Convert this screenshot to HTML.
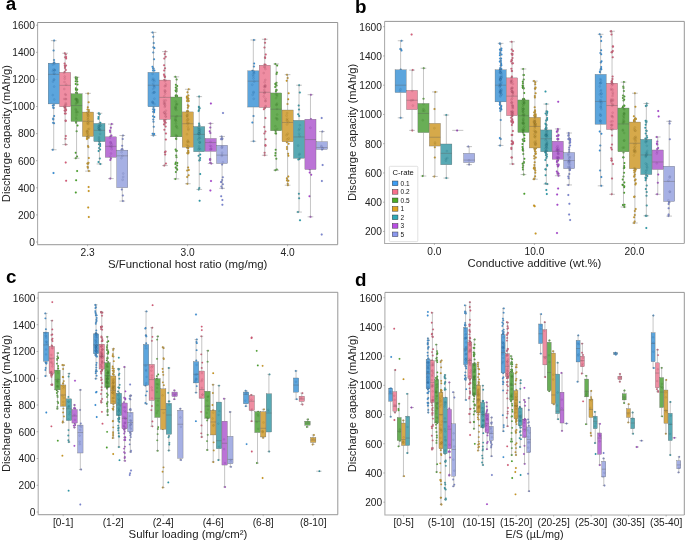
<!DOCTYPE html>
<html><head><meta charset="utf-8"><title>Figure</title>
<style>
html,body{margin:0;padding:0;background:#fff;}
svg{display:block;}
text{font-family:"Liberation Sans", sans-serif;fill:#222;}
.tk{font-size:10.2px;}
.ax{font-size:11.3px;}
.lt{font-size:18.8px;font-weight:bold;fill:#000;}
.lg{font-size:6.5px;fill:#111;}
.w{fill:none;stroke:#8a8a8a;stroke-width:0.5;}
.b{stroke:#5a5a5a;stroke-width:0.3;}
.po{stroke:#333;stroke-opacity:0.35;stroke-width:0.2;}
.pi{stroke:#223;stroke-opacity:0.3;stroke-width:0.25;fill-opacity:0.25;}
.m{fill:none;stroke:#5a5a5a;stroke-width:0.35;}
</style></head><body>
<svg width="685" height="540" viewBox="0 0 685 540">
<rect width="685" height="540" fill="#fff"/>
<path d="M37.60 22.50V244.60H337.70" fill="none" stroke="#ababab" stroke-width="1.05"/>
<path d="M37.60 22.50H337.70V244.60" fill="none" stroke="#8a8a8a" stroke-width="0.9"/>
<line x1="36.00" x2="37.60" y1="242.00" y2="242.00" stroke="#888" stroke-width="0.6"/>
<text x="34.90" y="245.85" text-anchor="end" class="tk">0</text>
<line x1="36.00" x2="37.60" y1="214.90" y2="214.90" stroke="#888" stroke-width="0.6"/>
<text x="34.90" y="218.75" text-anchor="end" class="tk">200</text>
<line x1="36.00" x2="37.60" y1="187.80" y2="187.80" stroke="#888" stroke-width="0.6"/>
<text x="34.90" y="191.65" text-anchor="end" class="tk">400</text>
<line x1="36.00" x2="37.60" y1="160.70" y2="160.70" stroke="#888" stroke-width="0.6"/>
<text x="34.90" y="164.55" text-anchor="end" class="tk">600</text>
<line x1="36.00" x2="37.60" y1="133.60" y2="133.60" stroke="#888" stroke-width="0.6"/>
<text x="34.90" y="137.45" text-anchor="end" class="tk">800</text>
<line x1="36.00" x2="37.60" y1="106.50" y2="106.50" stroke="#888" stroke-width="0.6"/>
<text x="34.90" y="110.35" text-anchor="end" class="tk">1000</text>
<line x1="36.00" x2="37.60" y1="79.40" y2="79.40" stroke="#888" stroke-width="0.6"/>
<text x="34.90" y="83.25" text-anchor="end" class="tk">1200</text>
<line x1="36.00" x2="37.60" y1="52.30" y2="52.30" stroke="#888" stroke-width="0.6"/>
<text x="34.90" y="56.15" text-anchor="end" class="tk">1400</text>
<line x1="36.00" x2="37.60" y1="25.20" y2="25.20" stroke="#888" stroke-width="0.6"/>
<text x="34.90" y="29.05" text-anchor="end" class="tk">1600</text>
<line x1="87.60" x2="87.60" y1="244.60" y2="246.20" stroke="#888" stroke-width="0.6"/>
<text x="87.60" y="255.60" text-anchor="middle" class="tk">2.3</text>
<line x1="187.60" x2="187.60" y1="244.60" y2="246.20" stroke="#888" stroke-width="0.6"/>
<text x="187.60" y="255.60" text-anchor="middle" class="tk">3.0</text>
<line x1="287.60" x2="287.60" y1="244.60" y2="246.20" stroke="#888" stroke-width="0.6"/>
<text x="287.60" y="255.60" text-anchor="middle" class="tk">4.0</text>
<text x="107.95" y="267.70" textLength="159.4" lengthAdjust="spacingAndGlyphs" class="ax">S/Functional host ratio (mg/mg)</text>
<text transform="translate(9.60,133.55) rotate(-90)" x="-68.6" textLength="137.2" lengthAdjust="spacingAndGlyphs" class="ax">Discharge capacity (mAh/g)</text>
<text x="5.7" y="9.9" class="lt">a</text>
<g class="po"><g fill="#3490dc"><circle cx="52.8" cy="149.7" r="1.0"/><circle cx="54.1" cy="40.6" r="1.0"/><circle cx="53.3" cy="119.4" r="1.0"/><circle cx="54.1" cy="116.0" r="1.0"/><circle cx="53.9" cy="104.9" r="1.0"/><circle cx="53.6" cy="108.1" r="1.0"/><circle cx="53.7" cy="63.0" r="1.0"/><circle cx="54.0" cy="60.0" r="1.0"/><circle cx="52.8" cy="105.4" r="1.0"/><circle cx="54.0" cy="123.2" r="1.0"/><circle cx="53.3" cy="107.6" r="1.0"/><circle cx="53.6" cy="50.5" r="1.0"/><circle cx="53.1" cy="122.8" r="1.0"/><circle cx="54.3" cy="62.4" r="1.0"/><circle cx="53.2" cy="118.5" r="1.0"/><circle cx="53.5" cy="172.9" r="1.0"/><circle cx="153.4" cy="135.5" r="1.0"/><circle cx="152.6" cy="32.4" r="1.0"/><circle cx="153.5" cy="68.5" r="1.0"/><circle cx="153.3" cy="52.5" r="1.0"/><circle cx="154.3" cy="117.0" r="1.0"/><circle cx="153.3" cy="119.5" r="1.0"/><circle cx="154.1" cy="111.0" r="1.0"/><circle cx="152.6" cy="133.7" r="1.0"/><circle cx="153.0" cy="116.2" r="1.0"/><circle cx="153.2" cy="68.6" r="1.0"/><circle cx="153.1" cy="111.8" r="1.0"/><circle cx="153.7" cy="126.8" r="1.0"/><circle cx="153.9" cy="134.1" r="1.0"/><circle cx="153.1" cy="109.3" r="1.0"/><circle cx="152.5" cy="66.7" r="1.0"/><circle cx="154.0" cy="59.3" r="1.0"/><circle cx="154.3" cy="109.4" r="1.0"/><circle cx="154.4" cy="70.5" r="1.0"/><circle cx="153.0" cy="70.6" r="1.0"/><circle cx="153.5" cy="107.1" r="1.0"/><circle cx="154.4" cy="48.1" r="1.0"/><circle cx="153.3" cy="36.7" r="1.0"/><circle cx="153.4" cy="47.3" r="1.0"/><circle cx="153.5" cy="121.7" r="1.0"/><circle cx="154.1" cy="110.5" r="1.0"/><circle cx="154.2" cy="133.9" r="1.0"/><circle cx="154.1" cy="112.3" r="1.0"/><circle cx="153.7" cy="43.1" r="1.0"/><circle cx="253.6" cy="141.3" r="1.0"/><circle cx="253.9" cy="40.0" r="1.0"/><circle cx="252.4" cy="122.6" r="1.0"/><circle cx="252.4" cy="70.7" r="1.0"/><circle cx="253.5" cy="116.1" r="1.0"/><circle cx="253.9" cy="66.5" r="1.0"/><circle cx="254.1" cy="63.6" r="1.0"/></g><g fill="#dc5a78"><circle cx="65.7" cy="144.6" r="1.0"/><circle cx="64.8" cy="53.2" r="1.0"/><circle cx="64.6" cy="72.0" r="1.0"/><circle cx="66.1" cy="58.5" r="1.0"/><circle cx="65.8" cy="69.9" r="1.0"/><circle cx="65.8" cy="54.5" r="1.0"/><circle cx="65.6" cy="109.1" r="1.0"/><circle cx="64.6" cy="110.5" r="1.0"/><circle cx="65.5" cy="138.7" r="1.0"/><circle cx="66.1" cy="56.9" r="1.0"/><circle cx="65.0" cy="68.1" r="1.0"/><circle cx="66.1" cy="109.9" r="1.0"/><circle cx="64.9" cy="113.5" r="1.0"/><circle cx="64.6" cy="106.8" r="1.0"/><circle cx="64.6" cy="107.7" r="1.0"/><circle cx="64.6" cy="63.6" r="1.0"/><circle cx="65.4" cy="110.9" r="1.0"/><circle cx="65.8" cy="135.9" r="1.0"/><circle cx="65.1" cy="66.7" r="1.0"/><circle cx="65.7" cy="113.6" r="1.0"/><circle cx="65.5" cy="106.9" r="1.0"/><circle cx="66.0" cy="65.5" r="1.0"/><circle cx="65.7" cy="121.0" r="1.0"/><circle cx="65.6" cy="120.4" r="1.0"/><circle cx="65.1" cy="57.3" r="1.0"/><circle cx="64.8" cy="65.4" r="1.0"/><circle cx="65.7" cy="162.5" r="1.0"/><circle cx="66.1" cy="180.8" r="1.0"/><circle cx="164.3" cy="165.6" r="1.0"/><circle cx="165.4" cy="51.6" r="1.0"/><circle cx="165.7" cy="122.8" r="1.0"/><circle cx="164.8" cy="77.0" r="1.0"/><circle cx="165.6" cy="119.6" r="1.0"/><circle cx="165.7" cy="56.7" r="1.0"/><circle cx="164.9" cy="76.7" r="1.0"/><circle cx="164.3" cy="120.5" r="1.0"/><circle cx="164.1" cy="65.3" r="1.0"/><circle cx="165.2" cy="154.4" r="1.0"/><circle cx="164.2" cy="124.3" r="1.0"/><circle cx="164.5" cy="121.7" r="1.0"/><circle cx="165.0" cy="68.2" r="1.0"/><circle cx="164.2" cy="70.5" r="1.0"/><circle cx="164.9" cy="152.3" r="1.0"/><circle cx="165.9" cy="133.4" r="1.0"/><circle cx="164.3" cy="58.5" r="1.0"/><circle cx="164.2" cy="79.9" r="1.0"/><circle cx="165.9" cy="163.6" r="1.0"/><circle cx="164.7" cy="54.1" r="1.0"/><circle cx="165.8" cy="139.6" r="1.0"/><circle cx="164.3" cy="124.6" r="1.0"/><circle cx="164.4" cy="119.4" r="1.0"/><circle cx="165.6" cy="126.5" r="1.0"/><circle cx="165.6" cy="151.4" r="1.0"/><circle cx="164.4" cy="129.8" r="1.0"/><circle cx="165.0" cy="121.9" r="1.0"/><circle cx="164.4" cy="75.7" r="1.0"/><circle cx="164.0" cy="74.4" r="1.0"/><circle cx="264.6" cy="155.3" r="1.0"/><circle cx="265.1" cy="39.3" r="1.0"/><circle cx="264.5" cy="64.5" r="1.0"/><circle cx="265.0" cy="107.8" r="1.0"/><circle cx="265.0" cy="42.8" r="1.0"/><circle cx="264.5" cy="47.5" r="1.0"/><circle cx="264.3" cy="126.9" r="1.0"/><circle cx="263.9" cy="109.2" r="1.0"/><circle cx="265.7" cy="54.5" r="1.0"/><circle cx="265.1" cy="58.0" r="1.0"/><circle cx="265.4" cy="118.0" r="1.0"/><circle cx="265.0" cy="57.3" r="1.0"/><circle cx="264.9" cy="107.6" r="1.0"/><circle cx="264.4" cy="133.5" r="1.0"/><circle cx="264.6" cy="152.7" r="1.0"/><circle cx="265.5" cy="145.7" r="1.0"/><circle cx="264.5" cy="107.7" r="1.0"/><circle cx="265.5" cy="139.2" r="1.0"/><circle cx="265.4" cy="131.6" r="1.0"/><circle cx="265.5" cy="64.7" r="1.0"/><circle cx="265.4" cy="145.1" r="1.0"/></g><g fill="#4aa52a"><circle cx="75.8" cy="158.3" r="1.0"/><circle cx="75.8" cy="77.2" r="1.0"/><circle cx="75.7" cy="83.9" r="1.0"/><circle cx="76.1" cy="122.8" r="1.0"/><circle cx="75.7" cy="152.8" r="1.0"/><circle cx="76.9" cy="93.0" r="1.0"/><circle cx="77.1" cy="77.7" r="1.0"/><circle cx="77.0" cy="156.6" r="1.0"/><circle cx="75.9" cy="89.4" r="1.0"/><circle cx="77.3" cy="81.6" r="1.0"/><circle cx="77.5" cy="125.5" r="1.0"/><circle cx="76.5" cy="90.6" r="1.0"/><circle cx="77.2" cy="89.6" r="1.0"/><circle cx="75.9" cy="88.3" r="1.0"/><circle cx="76.6" cy="131.3" r="1.0"/><circle cx="76.2" cy="121.4" r="1.0"/><circle cx="76.0" cy="92.8" r="1.0"/><circle cx="76.7" cy="93.3" r="1.0"/><circle cx="76.8" cy="79.5" r="1.0"/><circle cx="77.5" cy="84.4" r="1.0"/><circle cx="75.8" cy="78.7" r="1.0"/><circle cx="75.7" cy="81.3" r="1.0"/><circle cx="77.1" cy="171.1" r="1.0"/><circle cx="76.1" cy="180.3" r="1.0"/><circle cx="75.8" cy="192.5" r="1.0"/><circle cx="175.4" cy="178.9" r="1.0"/><circle cx="175.4" cy="76.8" r="1.0"/><circle cx="176.6" cy="168.5" r="1.0"/><circle cx="176.2" cy="155.4" r="1.0"/><circle cx="175.4" cy="164.1" r="1.0"/><circle cx="176.1" cy="91.2" r="1.0"/><circle cx="175.6" cy="149.5" r="1.0"/><circle cx="176.1" cy="138.4" r="1.0"/><circle cx="176.5" cy="157.2" r="1.0"/><circle cx="175.8" cy="162.4" r="1.0"/><circle cx="176.6" cy="90.1" r="1.0"/><circle cx="176.3" cy="150.9" r="1.0"/><circle cx="177.2" cy="169.7" r="1.0"/><circle cx="175.9" cy="84.8" r="1.0"/><circle cx="175.7" cy="95.6" r="1.0"/><circle cx="175.6" cy="90.5" r="1.0"/><circle cx="176.6" cy="79.5" r="1.0"/><circle cx="177.1" cy="165.6" r="1.0"/><circle cx="176.9" cy="96.8" r="1.0"/><circle cx="175.9" cy="172.1" r="1.0"/><circle cx="176.7" cy="150.8" r="1.0"/><circle cx="176.5" cy="95.4" r="1.0"/><circle cx="176.3" cy="139.1" r="1.0"/><circle cx="177.2" cy="86.1" r="1.0"/><circle cx="176.8" cy="95.8" r="1.0"/><circle cx="175.9" cy="96.4" r="1.0"/><circle cx="176.2" cy="96.5" r="1.0"/><circle cx="175.8" cy="87.4" r="1.0"/><circle cx="176.5" cy="91.5" r="1.0"/><circle cx="177.3" cy="163.0" r="1.0"/><circle cx="175.7" cy="167.4" r="1.0"/><circle cx="176.6" cy="88.4" r="1.0"/><circle cx="275.3" cy="170.2" r="1.0"/><circle cx="275.3" cy="64.0" r="1.0"/><circle cx="276.9" cy="72.4" r="1.0"/><circle cx="275.3" cy="155.6" r="1.0"/><circle cx="276.4" cy="90.1" r="1.0"/><circle cx="275.7" cy="84.6" r="1.0"/><circle cx="276.3" cy="158.7" r="1.0"/><circle cx="276.5" cy="90.1" r="1.0"/><circle cx="276.5" cy="82.7" r="1.0"/><circle cx="276.1" cy="133.6" r="1.0"/><circle cx="275.5" cy="153.1" r="1.0"/><circle cx="275.6" cy="131.0" r="1.0"/><circle cx="275.2" cy="86.9" r="1.0"/><circle cx="275.7" cy="149.7" r="1.0"/><circle cx="275.9" cy="91.5" r="1.0"/><circle cx="276.8" cy="169.6" r="1.0"/><circle cx="275.3" cy="83.8" r="1.0"/><circle cx="276.6" cy="85.5" r="1.0"/><circle cx="276.5" cy="74.0" r="1.0"/><circle cx="277.1" cy="65.6" r="1.0"/><circle cx="275.5" cy="133.3" r="1.0"/></g><g fill="#d09a1c"><circle cx="88.9" cy="171.1" r="1.0"/><circle cx="88.1" cy="93.4" r="1.0"/><circle cx="88.9" cy="109.9" r="1.0"/><circle cx="87.6" cy="166.8" r="1.0"/><circle cx="87.0" cy="136.8" r="1.0"/><circle cx="87.9" cy="167.8" r="1.0"/><circle cx="87.4" cy="163.5" r="1.0"/><circle cx="88.0" cy="163.8" r="1.0"/><circle cx="87.1" cy="138.3" r="1.0"/><circle cx="87.0" cy="139.1" r="1.0"/><circle cx="87.5" cy="109.5" r="1.0"/><circle cx="88.4" cy="147.0" r="1.0"/><circle cx="88.8" cy="111.5" r="1.0"/><circle cx="87.8" cy="107.2" r="1.0"/><circle cx="88.7" cy="137.8" r="1.0"/><circle cx="88.8" cy="157.9" r="1.0"/><circle cx="88.5" cy="162.8" r="1.0"/><circle cx="88.6" cy="102.2" r="1.0"/><circle cx="88.0" cy="146.0" r="1.0"/><circle cx="88.6" cy="187.0" r="1.0"/><circle cx="88.7" cy="191.1" r="1.0"/><circle cx="88.2" cy="207.4" r="1.0"/><circle cx="88.8" cy="216.9" r="1.0"/><circle cx="187.4" cy="183.7" r="1.0"/><circle cx="188.7" cy="89.3" r="1.0"/><circle cx="188.5" cy="152.7" r="1.0"/><circle cx="186.9" cy="96.6" r="1.0"/><circle cx="187.7" cy="97.8" r="1.0"/><circle cx="188.2" cy="150.7" r="1.0"/><circle cx="187.9" cy="153.5" r="1.0"/><circle cx="188.5" cy="98.8" r="1.0"/><circle cx="187.2" cy="177.0" r="1.0"/><circle cx="188.3" cy="151.4" r="1.0"/><circle cx="188.8" cy="169.9" r="1.0"/><circle cx="186.8" cy="97.8" r="1.0"/><circle cx="188.4" cy="101.1" r="1.0"/><circle cx="187.8" cy="105.2" r="1.0"/><circle cx="187.5" cy="99.2" r="1.0"/><circle cx="188.5" cy="105.9" r="1.0"/><circle cx="187.2" cy="110.9" r="1.0"/><circle cx="188.2" cy="148.2" r="1.0"/><circle cx="187.8" cy="107.8" r="1.0"/><circle cx="187.0" cy="147.3" r="1.0"/><circle cx="188.1" cy="167.5" r="1.0"/><circle cx="188.4" cy="95.5" r="1.0"/><circle cx="188.1" cy="111.6" r="1.0"/><circle cx="187.5" cy="92.3" r="1.0"/><circle cx="187.6" cy="111.3" r="1.0"/><circle cx="187.6" cy="148.3" r="1.0"/><circle cx="188.6" cy="175.2" r="1.0"/><circle cx="187.0" cy="101.0" r="1.0"/><circle cx="188.6" cy="101.1" r="1.0"/><circle cx="187.2" cy="170.6" r="1.0"/><circle cx="187.3" cy="153.0" r="1.0"/><circle cx="287.9" cy="185.2" r="1.0"/><circle cx="287.0" cy="74.7" r="1.0"/><circle cx="287.6" cy="78.0" r="1.0"/><circle cx="287.0" cy="148.9" r="1.0"/><circle cx="288.6" cy="143.7" r="1.0"/><circle cx="287.2" cy="180.3" r="1.0"/><circle cx="288.4" cy="180.7" r="1.0"/><circle cx="286.7" cy="80.7" r="1.0"/><circle cx="288.1" cy="153.7" r="1.0"/><circle cx="287.2" cy="180.4" r="1.0"/><circle cx="288.6" cy="93.2" r="1.0"/><circle cx="288.2" cy="99.2" r="1.0"/><circle cx="286.9" cy="142.2" r="1.0"/><circle cx="288.3" cy="176.6" r="1.0"/><circle cx="287.0" cy="147.1" r="1.0"/><circle cx="287.5" cy="103.9" r="1.0"/><circle cx="288.4" cy="155.7" r="1.0"/><circle cx="287.7" cy="183.7" r="1.0"/><circle cx="286.9" cy="178.2" r="1.0"/></g><g fill="#2a9cab"><circle cx="100.3" cy="164.0" r="1.0"/><circle cx="98.7" cy="113.3" r="1.0"/><circle cx="99.4" cy="141.7" r="1.0"/><circle cx="100.2" cy="146.0" r="1.0"/><circle cx="99.8" cy="158.4" r="1.0"/><circle cx="98.5" cy="117.0" r="1.0"/><circle cx="99.0" cy="144.3" r="1.0"/><circle cx="98.4" cy="118.7" r="1.0"/><circle cx="100.1" cy="144.1" r="1.0"/><circle cx="99.9" cy="144.3" r="1.0"/><circle cx="100.4" cy="122.7" r="1.0"/><circle cx="99.6" cy="114.3" r="1.0"/><circle cx="99.1" cy="148.0" r="1.0"/><circle cx="99.3" cy="113.8" r="1.0"/><circle cx="98.5" cy="162.0" r="1.0"/><circle cx="98.6" cy="151.0" r="1.0"/><circle cx="100.1" cy="149.5" r="1.0"/><circle cx="198.7" cy="189.4" r="1.0"/><circle cx="199.1" cy="96.6" r="1.0"/><circle cx="199.1" cy="123.6" r="1.0"/><circle cx="199.0" cy="107.5" r="1.0"/><circle cx="198.6" cy="111.1" r="1.0"/><circle cx="200.2" cy="154.4" r="1.0"/><circle cx="199.3" cy="125.0" r="1.0"/><circle cx="198.6" cy="155.8" r="1.0"/><circle cx="200.1" cy="158.1" r="1.0"/><circle cx="199.3" cy="187.9" r="1.0"/><circle cx="199.4" cy="125.8" r="1.0"/><circle cx="199.7" cy="108.3" r="1.0"/><circle cx="199.9" cy="160.1" r="1.0"/><circle cx="199.3" cy="160.4" r="1.0"/><circle cx="199.0" cy="109.9" r="1.0"/><circle cx="200.2" cy="174.1" r="1.0"/><circle cx="198.9" cy="106.7" r="1.0"/><circle cx="199.6" cy="200.7" r="1.0"/><circle cx="298.0" cy="212.1" r="1.0"/><circle cx="299.1" cy="85.2" r="1.0"/><circle cx="298.9" cy="193.7" r="1.0"/><circle cx="298.3" cy="159.4" r="1.0"/><circle cx="298.7" cy="105.5" r="1.0"/><circle cx="299.5" cy="159.0" r="1.0"/><circle cx="298.2" cy="114.2" r="1.0"/><circle cx="299.8" cy="92.5" r="1.0"/><circle cx="299.0" cy="109.6" r="1.0"/><circle cx="299.1" cy="116.1" r="1.0"/><circle cx="299.1" cy="198.3" r="1.0"/><circle cx="300.0" cy="220.3" r="1.0"/></g><g fill="#ab45d4"><circle cx="110.3" cy="178.6" r="1.0"/><circle cx="111.7" cy="124.1" r="1.0"/><circle cx="110.3" cy="159.9" r="1.0"/><circle cx="110.8" cy="127.7" r="1.0"/><circle cx="110.2" cy="132.0" r="1.0"/><circle cx="110.0" cy="130.5" r="1.0"/><circle cx="110.4" cy="136.4" r="1.0"/><circle cx="111.4" cy="135.4" r="1.0"/><circle cx="110.9" cy="158.5" r="1.0"/><circle cx="211.3" cy="163.5" r="1.0"/><circle cx="210.4" cy="123.4" r="1.0"/><circle cx="210.2" cy="158.9" r="1.0"/><circle cx="210.4" cy="133.1" r="1.0"/><circle cx="210.2" cy="159.9" r="1.0"/><circle cx="210.0" cy="159.5" r="1.0"/><circle cx="209.7" cy="131.2" r="1.0"/><circle cx="210.2" cy="162.8" r="1.0"/><circle cx="210.3" cy="127.6" r="1.0"/><circle cx="210.9" cy="103.5" r="1.0"/><circle cx="211.0" cy="180.9" r="1.0"/><circle cx="210.4" cy="190.4" r="1.0"/><circle cx="310.5" cy="216.8" r="1.0"/><circle cx="310.9" cy="94.7" r="1.0"/><circle cx="309.7" cy="172.6" r="1.0"/><circle cx="311.2" cy="174.7" r="1.0"/><circle cx="310.9" cy="119.1" r="1.0"/><circle cx="309.5" cy="196.2" r="1.0"/><circle cx="309.7" cy="169.6" r="1.0"/></g><g fill="#7a86d6"><circle cx="122.9" cy="201.1" r="1.0"/><circle cx="123.0" cy="135.5" r="1.0"/><circle cx="121.8" cy="189.4" r="1.0"/><circle cx="121.5" cy="149.6" r="1.0"/><circle cx="122.3" cy="148.9" r="1.0"/><circle cx="122.7" cy="138.9" r="1.0"/><circle cx="122.6" cy="150.1" r="1.0"/><circle cx="122.8" cy="195.4" r="1.0"/><circle cx="122.2" cy="145.7" r="1.0"/><circle cx="222.2" cy="188.3" r="1.0"/><circle cx="221.6" cy="136.4" r="1.0"/><circle cx="221.6" cy="138.4" r="1.0"/><circle cx="221.4" cy="181.9" r="1.0"/><circle cx="222.1" cy="139.3" r="1.0"/><circle cx="221.2" cy="182.0" r="1.0"/><circle cx="221.4" cy="186.5" r="1.0"/><circle cx="222.1" cy="164.6" r="1.0"/><circle cx="222.2" cy="180.1" r="1.0"/><circle cx="221.1" cy="139.2" r="1.0"/><circle cx="222.8" cy="184.2" r="1.0"/><circle cx="222.4" cy="138.6" r="1.0"/><circle cx="222.8" cy="177.3" r="1.0"/><circle cx="223.0" cy="112.9" r="1.0"/><circle cx="221.2" cy="196.2" r="1.0"/><circle cx="222.4" cy="199.9" r="1.0"/><circle cx="222.4" cy="204.7" r="1.0"/><circle cx="322.0" cy="149.5" r="1.0"/><circle cx="322.4" cy="131.6" r="1.0"/><circle cx="321.7" cy="118.0" r="1.0"/><circle cx="322.6" cy="165.0" r="1.0"/><circle cx="321.9" cy="181.0" r="1.0"/><circle cx="321.7" cy="234.5" r="1.0"/></g></g>
<g><rect x="48.15" y="63.14" width="11.13" height="40.79" fill="#5ca5dd" class="b"/><path d="M53.71 63.14V40.65M50.86 40.65H56.57" class="w"/><path d="M53.71 103.93V149.72M50.86 149.72H56.57" class="w"/><path d="M48.15 74.39H59.28" class="m"/><rect x="59.58" y="72.35" width="11.13" height="34.42" fill="#ef8da2" class="b"/><path d="M65.14 72.35V53.25M62.29 53.25H68.00" class="w"/><path d="M65.14 106.77V144.58M62.29 144.58H68.00" class="w"/><path d="M59.58 85.36H70.71" class="m"/><rect x="71.01" y="93.76" width="11.13" height="27.64" fill="#69ae56" class="b"/><path d="M76.57 93.76V77.23M73.71 77.23H79.43" class="w"/><path d="M76.57 121.40V158.26M73.71 158.26H79.43" class="w"/><path d="M71.01 105.55H82.14" class="m"/><rect x="82.44" y="112.06" width="11.13" height="24.39" fill="#d6a94a" class="b"/><path d="M88.00 112.06V93.36M85.14 93.36H90.86" class="w"/><path d="M88.00 136.45V171.13M85.14 171.13H90.86" class="w"/><path d="M82.44 121.27H93.56" class="m"/><rect x="93.86" y="123.44" width="11.13" height="18.16" fill="#58a9b4" class="b"/><path d="M99.43 123.44V113.27M96.57 113.27H102.29" class="w"/><path d="M99.43 141.59V163.95M96.57 163.95H102.29" class="w"/><path d="M93.86 130.35H104.99" class="m"/><rect x="105.29" y="136.85" width="11.13" height="20.46" fill="#bb74d6" class="b"/><path d="M110.86 136.85V124.11M108.00 124.11H113.71" class="w"/><path d="M110.86 157.31V178.59M108.00 178.59H113.71" class="w"/><path d="M105.29 146.34H116.42" class="m"/><rect x="116.72" y="150.13" width="11.13" height="37.53" fill="#a6b0e4" class="b"/><path d="M122.29 150.13V135.50M119.43 135.50H125.14" class="w"/><path d="M122.29 187.66V201.08M119.43 201.08H125.14" class="w"/><path d="M116.72 155.82H127.85" class="m"/><rect x="147.95" y="72.35" width="11.13" height="34.42" fill="#5ca5dd" class="b"/><path d="M153.51 72.35V32.38M150.66 32.38H156.37" class="w"/><path d="M153.51 106.77V135.50M150.66 135.50H156.37" class="w"/><path d="M147.95 85.23H159.08" class="m"/><rect x="159.38" y="80.08" width="11.13" height="39.30" fill="#ef8da2" class="b"/><path d="M164.94 80.08V51.62M162.09 51.62H167.80" class="w"/><path d="M164.94 119.37V165.58M162.09 165.58H167.80" class="w"/><path d="M159.38 97.42H170.51" class="m"/><rect x="170.81" y="97.01" width="11.13" height="39.84" fill="#69ae56" class="b"/><path d="M176.37 97.01V76.83M173.51 76.83H179.23" class="w"/><path d="M176.37 136.85V178.86M173.51 178.86H179.23" class="w"/><path d="M170.81 116.12H181.94" class="m"/><rect x="182.24" y="111.92" width="11.13" height="35.23" fill="#d6a94a" class="b"/><path d="M187.80 111.92V89.29M184.94 89.29H190.66" class="w"/><path d="M187.80 147.15V183.74M184.94 183.74H190.66" class="w"/><path d="M182.24 123.71H193.36" class="m"/><rect x="193.66" y="126.55" width="11.13" height="25.20" fill="#58a9b4" class="b"/><path d="M199.23 126.55V96.61M196.37 96.61H202.09" class="w"/><path d="M199.23 151.76V189.43M196.37 189.43H202.09" class="w"/><path d="M193.66 134.41H204.79" class="m"/><rect x="205.09" y="138.48" width="11.13" height="12.87" fill="#bb74d6" class="b"/><path d="M210.66 138.48V123.44M207.80 123.44H213.51" class="w"/><path d="M210.66 151.35V163.55M207.80 163.55H213.51" class="w"/><path d="M205.09 142.54H216.22" class="m"/><rect x="216.52" y="145.25" width="11.13" height="18.29" fill="#a6b0e4" class="b"/><path d="M222.09 145.25V136.45M219.23 136.45H224.94" class="w"/><path d="M222.09 163.55V188.34M219.23 188.34H224.94" class="w"/><path d="M216.52 155.14H227.65" class="m"/><rect x="247.75" y="70.86" width="11.13" height="36.18" fill="#5ca5dd" class="b"/><path d="M253.31 70.86V39.97M250.46 39.97H256.17" class="w"/><path d="M253.31 107.04V141.32M250.46 141.32H256.17" class="w"/><path d="M247.75 81.16H258.88" class="m"/><rect x="259.18" y="65.17" width="11.13" height="42.41" fill="#ef8da2" class="b"/><path d="M264.74 65.17V39.29M261.89 39.29H267.60" class="w"/><path d="M264.74 107.58V155.28M261.89 155.28H267.60" class="w"/><path d="M259.18 92.27H270.31" class="m"/><rect x="270.61" y="92.95" width="11.13" height="37.80" fill="#69ae56" class="b"/><path d="M276.17 92.95V63.95M273.31 63.95H279.03" class="w"/><path d="M276.17 130.75V170.19M273.31 170.19H279.03" class="w"/><path d="M270.61 109.21H281.74" class="m"/><rect x="282.04" y="110.02" width="11.13" height="31.71" fill="#d6a94a" class="b"/><path d="M287.60 110.02V74.66M284.74 74.66H290.46" class="w"/><path d="M287.60 141.73V185.23M284.74 185.23H290.46" class="w"/><path d="M282.04 122.49H293.16" class="m"/><rect x="293.46" y="120.32" width="11.13" height="37.94" fill="#58a9b4" class="b"/><path d="M299.03 120.32V85.23M296.17 85.23H301.89" class="w"/><path d="M299.03 158.26V212.05M296.17 212.05H301.89" class="w"/><path d="M293.46 136.99H304.59" class="m"/><rect x="304.89" y="119.24" width="11.13" height="50.27" fill="#bb74d6" class="b"/><path d="M310.46 119.24V94.71M307.60 94.71H313.31" class="w"/><path d="M310.46 169.51V216.80M307.60 216.80H313.31" class="w"/><path d="M304.89 139.56H316.02" class="m"/><rect x="316.32" y="141.73" width="11.13" height="7.72" fill="#a6b0e4" class="b"/><path d="M321.89 141.73V131.57M319.03 131.57H324.74" class="w"/><path d="M316.32 147.56H327.45" class="m"/></g>
<g class="pi"><g fill="#3490dc"><circle cx="54.2" cy="99.5" r="1.0"/><circle cx="53.9" cy="73.6" r="1.0"/><circle cx="54.5" cy="70.3" r="1.0"/><circle cx="53.9" cy="79.5" r="1.0"/><circle cx="54.4" cy="63.7" r="1.0"/><circle cx="54.6" cy="69.9" r="1.0"/><circle cx="54.1" cy="79.8" r="1.0"/><circle cx="54.7" cy="70.2" r="1.0"/><circle cx="54.4" cy="73.7" r="1.0"/><circle cx="53.5" cy="69.6" r="1.0"/><circle cx="54.1" cy="86.6" r="1.0"/><circle cx="52.8" cy="95.1" r="1.0"/><circle cx="52.9" cy="64.5" r="1.0"/><circle cx="52.8" cy="71.1" r="1.0"/><circle cx="53.0" cy="81.6" r="1.0"/><circle cx="154.4" cy="104.0" r="1.0"/><circle cx="152.9" cy="93.1" r="1.0"/><circle cx="153.2" cy="83.8" r="1.0"/><circle cx="152.6" cy="80.2" r="1.0"/><circle cx="154.0" cy="86.1" r="1.0"/><circle cx="152.6" cy="73.9" r="1.0"/><circle cx="152.6" cy="101.7" r="1.0"/><circle cx="154.4" cy="81.3" r="1.0"/><circle cx="154.0" cy="79.8" r="1.0"/><circle cx="154.3" cy="92.4" r="1.0"/><circle cx="154.4" cy="92.1" r="1.0"/><circle cx="153.0" cy="78.7" r="1.0"/><circle cx="153.1" cy="89.1" r="1.0"/><circle cx="153.8" cy="92.4" r="1.0"/><circle cx="152.6" cy="102.2" r="1.0"/><circle cx="154.4" cy="87.4" r="1.0"/><circle cx="153.0" cy="102.8" r="1.0"/><circle cx="154.4" cy="98.7" r="1.0"/><circle cx="152.9" cy="103.1" r="1.0"/><circle cx="154.0" cy="86.2" r="1.0"/><circle cx="253.8" cy="71.6" r="1.0"/><circle cx="254.1" cy="81.6" r="1.0"/><circle cx="253.4" cy="76.2" r="1.0"/><circle cx="252.9" cy="74.7" r="1.0"/><circle cx="252.3" cy="84.7" r="1.0"/><circle cx="252.7" cy="94.8" r="1.0"/><circle cx="254.2" cy="73.2" r="1.0"/><circle cx="253.6" cy="92.7" r="1.0"/><circle cx="253.5" cy="78.4" r="1.0"/><circle cx="253.5" cy="71.1" r="1.0"/><circle cx="253.6" cy="73.0" r="1.0"/><circle cx="253.7" cy="98.8" r="1.0"/><circle cx="253.5" cy="91.9" r="1.0"/></g><g fill="#dc5a78"><circle cx="65.8" cy="95.0" r="1.0"/><circle cx="65.8" cy="99.1" r="1.0"/><circle cx="65.2" cy="94.2" r="1.0"/><circle cx="64.9" cy="106.7" r="1.0"/><circle cx="64.2" cy="98.9" r="1.0"/><circle cx="64.2" cy="73.0" r="1.0"/><circle cx="64.7" cy="78.7" r="1.0"/><circle cx="64.7" cy="76.6" r="1.0"/><circle cx="66.0" cy="104.6" r="1.0"/><circle cx="66.1" cy="84.6" r="1.0"/><circle cx="64.5" cy="106.2" r="1.0"/><circle cx="65.9" cy="99.0" r="1.0"/><circle cx="65.4" cy="104.9" r="1.0"/><circle cx="64.3" cy="89.0" r="1.0"/><circle cx="64.5" cy="82.0" r="1.0"/><circle cx="65.7" cy="103.2" r="1.0"/><circle cx="164.4" cy="112.4" r="1.0"/><circle cx="164.0" cy="102.2" r="1.0"/><circle cx="164.8" cy="91.8" r="1.0"/><circle cx="164.0" cy="103.8" r="1.0"/><circle cx="165.0" cy="114.2" r="1.0"/><circle cx="165.2" cy="105.8" r="1.0"/><circle cx="165.8" cy="84.4" r="1.0"/><circle cx="164.7" cy="106.9" r="1.0"/><circle cx="165.0" cy="103.2" r="1.0"/><circle cx="165.8" cy="110.7" r="1.0"/><circle cx="165.6" cy="80.2" r="1.0"/><circle cx="165.8" cy="116.8" r="1.0"/><circle cx="164.9" cy="81.3" r="1.0"/><circle cx="164.0" cy="100.4" r="1.0"/><circle cx="165.8" cy="113.7" r="1.0"/><circle cx="165.2" cy="93.6" r="1.0"/><circle cx="165.6" cy="116.3" r="1.0"/><circle cx="165.5" cy="86.1" r="1.0"/><circle cx="164.8" cy="104.5" r="1.0"/><circle cx="164.3" cy="96.3" r="1.0"/><circle cx="164.7" cy="86.3" r="1.0"/><circle cx="164.7" cy="90.3" r="1.0"/><circle cx="164.2" cy="112.6" r="1.0"/><circle cx="165.4" cy="91.2" r="1.0"/><circle cx="165.7" cy="100.4" r="1.0"/><circle cx="264.0" cy="86.5" r="1.0"/><circle cx="265.3" cy="79.9" r="1.0"/><circle cx="264.6" cy="82.3" r="1.0"/><circle cx="265.3" cy="85.3" r="1.0"/><circle cx="265.6" cy="101.1" r="1.0"/><circle cx="265.3" cy="101.0" r="1.0"/><circle cx="264.9" cy="67.0" r="1.0"/><circle cx="264.4" cy="66.9" r="1.0"/><circle cx="265.7" cy="106.0" r="1.0"/><circle cx="265.4" cy="86.5" r="1.0"/><circle cx="265.1" cy="85.7" r="1.0"/><circle cx="264.9" cy="87.2" r="1.0"/><circle cx="265.4" cy="69.1" r="1.0"/><circle cx="264.3" cy="90.0" r="1.0"/><circle cx="263.7" cy="73.1" r="1.0"/><circle cx="264.3" cy="93.3" r="1.0"/><circle cx="264.6" cy="92.8" r="1.0"/><circle cx="264.9" cy="92.0" r="1.0"/><circle cx="263.8" cy="96.4" r="1.0"/><circle cx="265.4" cy="106.7" r="1.0"/><circle cx="265.5" cy="98.8" r="1.0"/></g><g fill="#4aa52a"><circle cx="76.5" cy="115.0" r="1.0"/><circle cx="77.4" cy="101.4" r="1.0"/><circle cx="75.9" cy="104.0" r="1.0"/><circle cx="76.9" cy="99.3" r="1.0"/><circle cx="76.0" cy="117.6" r="1.0"/><circle cx="77.5" cy="102.5" r="1.0"/><circle cx="76.4" cy="119.3" r="1.0"/><circle cx="77.6" cy="112.2" r="1.0"/><circle cx="76.4" cy="99.4" r="1.0"/><circle cx="76.2" cy="109.9" r="1.0"/><circle cx="77.0" cy="101.7" r="1.0"/><circle cx="75.6" cy="99.0" r="1.0"/><circle cx="76.5" cy="102.6" r="1.0"/><circle cx="75.6" cy="109.2" r="1.0"/><circle cx="76.2" cy="98.9" r="1.0"/><circle cx="76.6" cy="111.7" r="1.0"/><circle cx="75.7" cy="99.5" r="1.0"/><circle cx="77.5" cy="100.2" r="1.0"/><circle cx="77.1" cy="99.9" r="1.0"/><circle cx="76.1" cy="112.5" r="1.0"/><circle cx="175.7" cy="101.6" r="1.0"/><circle cx="176.4" cy="104.1" r="1.0"/><circle cx="177.2" cy="128.1" r="1.0"/><circle cx="175.6" cy="108.0" r="1.0"/><circle cx="175.8" cy="107.6" r="1.0"/><circle cx="176.7" cy="136.4" r="1.0"/><circle cx="175.4" cy="106.8" r="1.0"/><circle cx="175.8" cy="135.0" r="1.0"/><circle cx="176.5" cy="126.3" r="1.0"/><circle cx="175.6" cy="117.1" r="1.0"/><circle cx="176.2" cy="121.2" r="1.0"/><circle cx="175.4" cy="119.9" r="1.0"/><circle cx="176.1" cy="126.4" r="1.0"/><circle cx="176.7" cy="136.1" r="1.0"/><circle cx="177.2" cy="104.0" r="1.0"/><circle cx="175.5" cy="118.8" r="1.0"/><circle cx="176.4" cy="105.0" r="1.0"/><circle cx="175.5" cy="120.3" r="1.0"/><circle cx="176.9" cy="116.3" r="1.0"/><circle cx="175.4" cy="109.2" r="1.0"/><circle cx="175.8" cy="123.6" r="1.0"/><circle cx="176.4" cy="110.1" r="1.0"/><circle cx="276.3" cy="104.8" r="1.0"/><circle cx="276.1" cy="94.4" r="1.0"/><circle cx="277.1" cy="128.9" r="1.0"/><circle cx="277.0" cy="96.2" r="1.0"/><circle cx="276.0" cy="98.2" r="1.0"/><circle cx="275.4" cy="126.3" r="1.0"/><circle cx="277.1" cy="114.6" r="1.0"/><circle cx="277.1" cy="94.6" r="1.0"/><circle cx="276.0" cy="118.1" r="1.0"/><circle cx="277.1" cy="118.6" r="1.0"/><circle cx="277.2" cy="119.6" r="1.0"/><circle cx="277.0" cy="103.6" r="1.0"/><circle cx="277.0" cy="108.9" r="1.0"/><circle cx="276.7" cy="105.0" r="1.0"/><circle cx="275.3" cy="129.9" r="1.0"/></g><g fill="#d09a1c"><circle cx="87.5" cy="122.6" r="1.0"/><circle cx="87.7" cy="114.8" r="1.0"/><circle cx="87.8" cy="117.4" r="1.0"/><circle cx="88.0" cy="113.9" r="1.0"/><circle cx="87.0" cy="131.3" r="1.0"/><circle cx="87.5" cy="112.7" r="1.0"/><circle cx="87.2" cy="134.5" r="1.0"/><circle cx="87.8" cy="119.1" r="1.0"/><circle cx="87.6" cy="131.8" r="1.0"/><circle cx="88.2" cy="119.6" r="1.0"/><circle cx="88.1" cy="136.2" r="1.0"/><circle cx="88.5" cy="136.2" r="1.0"/><circle cx="88.3" cy="116.2" r="1.0"/><circle cx="87.7" cy="123.8" r="1.0"/><circle cx="89.0" cy="128.8" r="1.0"/><circle cx="87.3" cy="112.2" r="1.0"/><circle cx="88.4" cy="123.8" r="1.0"/><circle cx="88.3" cy="115.4" r="1.0"/><circle cx="87.1" cy="131.2" r="1.0"/><circle cx="88.3" cy="134.0" r="1.0"/><circle cx="87.3" cy="132.8" r="1.0"/><circle cx="88.0" cy="129.5" r="1.0"/><circle cx="88.7" cy="121.8" r="1.0"/><circle cx="187.8" cy="114.1" r="1.0"/><circle cx="188.0" cy="146.0" r="1.0"/><circle cx="187.6" cy="123.6" r="1.0"/><circle cx="188.3" cy="129.8" r="1.0"/><circle cx="187.5" cy="141.9" r="1.0"/><circle cx="187.2" cy="115.5" r="1.0"/><circle cx="187.0" cy="134.2" r="1.0"/><circle cx="188.4" cy="128.7" r="1.0"/><circle cx="187.1" cy="120.6" r="1.0"/><circle cx="186.8" cy="112.3" r="1.0"/><circle cx="187.8" cy="126.5" r="1.0"/><circle cx="187.8" cy="141.5" r="1.0"/><circle cx="187.2" cy="115.9" r="1.0"/><circle cx="187.3" cy="117.0" r="1.0"/><circle cx="188.7" cy="142.2" r="1.0"/><circle cx="187.4" cy="122.8" r="1.0"/><circle cx="187.0" cy="115.5" r="1.0"/><circle cx="188.4" cy="122.9" r="1.0"/><circle cx="188.2" cy="119.4" r="1.0"/><circle cx="186.9" cy="144.8" r="1.0"/><circle cx="188.6" cy="146.7" r="1.0"/><circle cx="187.8" cy="140.5" r="1.0"/><circle cx="187.6" cy="119.4" r="1.0"/><circle cx="287.2" cy="118.8" r="1.0"/><circle cx="287.1" cy="113.0" r="1.0"/><circle cx="287.3" cy="139.3" r="1.0"/><circle cx="288.6" cy="138.5" r="1.0"/><circle cx="288.5" cy="122.3" r="1.0"/><circle cx="286.8" cy="120.1" r="1.0"/><circle cx="286.6" cy="135.2" r="1.0"/><circle cx="287.3" cy="120.7" r="1.0"/><circle cx="286.6" cy="115.6" r="1.0"/><circle cx="287.7" cy="133.8" r="1.0"/><circle cx="287.0" cy="124.4" r="1.0"/></g><g fill="#2a9cab"><circle cx="100.1" cy="125.6" r="1.0"/><circle cx="98.9" cy="126.0" r="1.0"/><circle cx="100.2" cy="125.6" r="1.0"/><circle cx="99.4" cy="141.6" r="1.0"/><circle cx="98.4" cy="126.6" r="1.0"/><circle cx="99.4" cy="129.9" r="1.0"/><circle cx="99.3" cy="128.6" r="1.0"/><circle cx="98.7" cy="128.9" r="1.0"/><circle cx="99.1" cy="123.6" r="1.0"/><circle cx="99.1" cy="137.3" r="1.0"/><circle cx="100.1" cy="133.9" r="1.0"/><circle cx="99.9" cy="129.8" r="1.0"/><circle cx="98.7" cy="128.2" r="1.0"/><circle cx="100.3" cy="130.3" r="1.0"/><circle cx="100.2" cy="125.6" r="1.0"/><circle cx="99.0" cy="128.3" r="1.0"/><circle cx="99.2" cy="127.1" r="1.0"/><circle cx="99.2" cy="140.3" r="1.0"/><circle cx="99.0" cy="138.6" r="1.0"/><circle cx="199.5" cy="142.5" r="1.0"/><circle cx="199.6" cy="131.7" r="1.0"/><circle cx="200.1" cy="149.1" r="1.0"/><circle cx="199.5" cy="133.1" r="1.0"/><circle cx="199.8" cy="138.3" r="1.0"/><circle cx="199.0" cy="133.4" r="1.0"/><circle cx="199.2" cy="136.4" r="1.0"/><circle cx="198.3" cy="139.6" r="1.0"/><circle cx="199.8" cy="142.7" r="1.0"/><circle cx="198.4" cy="133.6" r="1.0"/><circle cx="199.3" cy="134.7" r="1.0"/><circle cx="199.3" cy="148.4" r="1.0"/><circle cx="199.5" cy="133.6" r="1.0"/><circle cx="200.1" cy="129.4" r="1.0"/><circle cx="198.6" cy="149.3" r="1.0"/><circle cx="199.6" cy="131.2" r="1.0"/><circle cx="199.0" cy="127.3" r="1.0"/><circle cx="199.8" cy="141.8" r="1.0"/><circle cx="198.5" cy="131.1" r="1.0"/><circle cx="198.3" cy="127.7" r="1.0"/><circle cx="198.8" cy="129.4" r="1.0"/><circle cx="199.0" cy="146.3" r="1.0"/><circle cx="198.3" cy="133.6" r="1.0"/><circle cx="199.1" cy="138.2" r="1.0"/><circle cx="199.1" cy="129.5" r="1.0"/><circle cx="299.1" cy="133.7" r="1.0"/><circle cx="299.5" cy="128.7" r="1.0"/><circle cx="299.7" cy="153.9" r="1.0"/><circle cx="299.8" cy="125.2" r="1.0"/><circle cx="298.8" cy="130.2" r="1.0"/><circle cx="299.5" cy="136.1" r="1.0"/><circle cx="299.9" cy="157.9" r="1.0"/><circle cx="299.1" cy="154.8" r="1.0"/><circle cx="298.1" cy="145.6" r="1.0"/></g><g fill="#ab45d4"><circle cx="110.9" cy="147.0" r="1.0"/><circle cx="111.7" cy="144.5" r="1.0"/><circle cx="111.9" cy="146.8" r="1.0"/><circle cx="110.1" cy="137.7" r="1.0"/><circle cx="110.0" cy="145.9" r="1.0"/><circle cx="110.5" cy="142.1" r="1.0"/><circle cx="110.3" cy="156.8" r="1.0"/><circle cx="111.0" cy="153.5" r="1.0"/><circle cx="111.6" cy="149.2" r="1.0"/><circle cx="110.7" cy="143.5" r="1.0"/><circle cx="110.7" cy="142.6" r="1.0"/><circle cx="211.4" cy="149.0" r="1.0"/><circle cx="210.5" cy="149.5" r="1.0"/><circle cx="211.1" cy="146.4" r="1.0"/><circle cx="210.1" cy="145.7" r="1.0"/><circle cx="210.6" cy="148.8" r="1.0"/><circle cx="210.5" cy="142.0" r="1.0"/><circle cx="310.4" cy="127.8" r="1.0"/></g><g fill="#7a86d6"><circle cx="123.2" cy="176.9" r="1.0"/><circle cx="121.6" cy="152.2" r="1.0"/><circle cx="122.6" cy="179.8" r="1.0"/><circle cx="123.2" cy="173.5" r="1.0"/><circle cx="122.4" cy="155.8" r="1.0"/><circle cx="121.4" cy="158.2" r="1.0"/><circle cx="222.0" cy="155.0" r="1.0"/><circle cx="222.1" cy="152.7" r="1.0"/><circle cx="222.8" cy="162.3" r="1.0"/><circle cx="222.0" cy="147.4" r="1.0"/><circle cx="222.2" cy="146.3" r="1.0"/><circle cx="221.8" cy="147.8" r="1.0"/><circle cx="221.9" cy="156.1" r="1.0"/><circle cx="321.2" cy="145.9" r="1.0"/><circle cx="322.5" cy="148.7" r="1.0"/><circle cx="322.8" cy="148.3" r="1.0"/><circle cx="321.7" cy="146.7" r="1.0"/></g></g>
<path d="M384.60 21.40V243.40H684.30" fill="none" stroke="#ababab" stroke-width="1.05"/>
<path d="M384.60 21.40H684.30V243.40" fill="none" stroke="#8a8a8a" stroke-width="0.9"/>
<line x1="383.00" x2="384.60" y1="231.45" y2="231.45" stroke="#888" stroke-width="0.6"/>
<text x="381.90" y="235.30" text-anchor="end" class="tk">200</text>
<line x1="383.00" x2="384.60" y1="202.20" y2="202.20" stroke="#888" stroke-width="0.6"/>
<text x="381.90" y="206.05" text-anchor="end" class="tk">400</text>
<line x1="383.00" x2="384.60" y1="172.95" y2="172.95" stroke="#888" stroke-width="0.6"/>
<text x="381.90" y="176.80" text-anchor="end" class="tk">600</text>
<line x1="383.00" x2="384.60" y1="143.70" y2="143.70" stroke="#888" stroke-width="0.6"/>
<text x="381.90" y="147.55" text-anchor="end" class="tk">800</text>
<line x1="383.00" x2="384.60" y1="114.45" y2="114.45" stroke="#888" stroke-width="0.6"/>
<text x="381.90" y="118.30" text-anchor="end" class="tk">1000</text>
<line x1="383.00" x2="384.60" y1="85.20" y2="85.20" stroke="#888" stroke-width="0.6"/>
<text x="381.90" y="89.05" text-anchor="end" class="tk">1200</text>
<line x1="383.00" x2="384.60" y1="55.95" y2="55.95" stroke="#888" stroke-width="0.6"/>
<text x="381.90" y="59.80" text-anchor="end" class="tk">1400</text>
<line x1="383.00" x2="384.60" y1="26.70" y2="26.70" stroke="#888" stroke-width="0.6"/>
<text x="381.90" y="30.55" text-anchor="end" class="tk">1600</text>
<line x1="434.40" x2="434.40" y1="243.40" y2="245.00" stroke="#888" stroke-width="0.6"/>
<text x="434.40" y="255.00" text-anchor="middle" class="tk">0.0</text>
<line x1="534.40" x2="534.40" y1="243.40" y2="245.00" stroke="#888" stroke-width="0.6"/>
<text x="534.40" y="255.00" text-anchor="middle" class="tk">10.0</text>
<line x1="634.40" x2="634.40" y1="243.40" y2="245.00" stroke="#888" stroke-width="0.6"/>
<text x="634.40" y="255.00" text-anchor="middle" class="tk">20.0</text>
<text x="467.55" y="267.20" textLength="133.8" lengthAdjust="spacingAndGlyphs" class="ax">Conductive additive (wt.%)</text>
<text transform="translate(356.20,132.40) rotate(-90)" x="-68.6" textLength="137.2" lengthAdjust="spacingAndGlyphs" class="ax">Discharge capacity (mAh/g)</text>
<text x="355.0" y="13.0" class="lt">b</text>
<g class="po"><g fill="#3490dc"><circle cx="400.6" cy="117.8" r="1.0"/><circle cx="401.5" cy="40.7" r="1.0"/><circle cx="401.5" cy="50.4" r="1.0"/><circle cx="400.9" cy="49.3" r="1.0"/><circle cx="400.3" cy="48.9" r="1.0"/><circle cx="400.7" cy="69.6" r="1.0"/><circle cx="500.1" cy="145.5" r="1.0"/><circle cx="499.7" cy="43.4" r="1.0"/><circle cx="501.3" cy="105.9" r="1.0"/><circle cx="500.2" cy="53.5" r="1.0"/><circle cx="501.4" cy="109.5" r="1.0"/><circle cx="500.8" cy="60.6" r="1.0"/><circle cx="500.6" cy="61.8" r="1.0"/><circle cx="501.5" cy="54.6" r="1.0"/><circle cx="500.1" cy="68.9" r="1.0"/><circle cx="500.4" cy="69.8" r="1.0"/><circle cx="501.1" cy="58.6" r="1.0"/><circle cx="501.4" cy="48.6" r="1.0"/><circle cx="500.0" cy="49.5" r="1.0"/><circle cx="500.2" cy="108.4" r="1.0"/><circle cx="500.7" cy="119.9" r="1.0"/><circle cx="500.7" cy="65.5" r="1.0"/><circle cx="500.4" cy="49.9" r="1.0"/><circle cx="500.4" cy="67.8" r="1.0"/><circle cx="499.9" cy="102.2" r="1.0"/><circle cx="500.3" cy="52.3" r="1.0"/><circle cx="500.3" cy="110.9" r="1.0"/><circle cx="499.8" cy="61.5" r="1.0"/><circle cx="501.3" cy="65.1" r="1.0"/><circle cx="500.5" cy="108.8" r="1.0"/><circle cx="501.3" cy="50.3" r="1.0"/><circle cx="499.9" cy="55.2" r="1.0"/><circle cx="500.3" cy="43.8" r="1.0"/><circle cx="501.1" cy="63.2" r="1.0"/><circle cx="500.4" cy="107.9" r="1.0"/><circle cx="500.0" cy="104.7" r="1.0"/><circle cx="501.0" cy="108.4" r="1.0"/><circle cx="500.1" cy="58.6" r="1.0"/><circle cx="500.0" cy="104.1" r="1.0"/><circle cx="501.4" cy="69.1" r="1.0"/><circle cx="499.9" cy="104.4" r="1.0"/><circle cx="500.2" cy="101.9" r="1.0"/><circle cx="501.2" cy="65.5" r="1.0"/><circle cx="500.9" cy="107.1" r="1.0"/><circle cx="500.7" cy="138.9" r="1.0"/><circle cx="499.8" cy="138.1" r="1.0"/><circle cx="601.2" cy="185.8" r="1.0"/><circle cx="599.7" cy="34.3" r="1.0"/><circle cx="601.5" cy="61.2" r="1.0"/><circle cx="600.1" cy="170.4" r="1.0"/><circle cx="601.1" cy="50.2" r="1.0"/><circle cx="601.2" cy="41.0" r="1.0"/><circle cx="599.8" cy="150.5" r="1.0"/><circle cx="600.9" cy="68.8" r="1.0"/><circle cx="601.2" cy="54.3" r="1.0"/><circle cx="600.4" cy="52.9" r="1.0"/><circle cx="601.2" cy="67.0" r="1.0"/><circle cx="600.3" cy="145.6" r="1.0"/><circle cx="600.0" cy="72.2" r="1.0"/><circle cx="601.0" cy="36.7" r="1.0"/><circle cx="601.4" cy="133.7" r="1.0"/><circle cx="599.9" cy="71.4" r="1.0"/><circle cx="599.7" cy="131.4" r="1.0"/><circle cx="600.6" cy="69.5" r="1.0"/><circle cx="601.3" cy="177.1" r="1.0"/><circle cx="600.8" cy="62.4" r="1.0"/><circle cx="601.3" cy="69.3" r="1.0"/></g><g fill="#dc5a78"><circle cx="412.3" cy="130.4" r="1.0"/><circle cx="412.7" cy="70.1" r="1.0"/><circle cx="411.6" cy="34.5" r="1.0"/><circle cx="512.7" cy="164.0" r="1.0"/><circle cx="511.6" cy="41.8" r="1.0"/><circle cx="512.3" cy="134.9" r="1.0"/><circle cx="512.6" cy="144.0" r="1.0"/><circle cx="512.5" cy="53.9" r="1.0"/><circle cx="511.7" cy="49.4" r="1.0"/><circle cx="511.4" cy="121.8" r="1.0"/><circle cx="512.7" cy="141.7" r="1.0"/><circle cx="511.8" cy="71.1" r="1.0"/><circle cx="511.5" cy="157.4" r="1.0"/><circle cx="512.2" cy="115.9" r="1.0"/><circle cx="512.3" cy="119.2" r="1.0"/><circle cx="512.5" cy="123.1" r="1.0"/><circle cx="512.9" cy="63.2" r="1.0"/><circle cx="511.6" cy="53.8" r="1.0"/><circle cx="511.2" cy="61.6" r="1.0"/><circle cx="512.4" cy="120.7" r="1.0"/><circle cx="511.4" cy="148.9" r="1.0"/><circle cx="511.9" cy="157.6" r="1.0"/><circle cx="511.4" cy="68.7" r="1.0"/><circle cx="512.5" cy="57.9" r="1.0"/><circle cx="512.8" cy="142.9" r="1.0"/><circle cx="511.9" cy="76.5" r="1.0"/><circle cx="511.6" cy="77.6" r="1.0"/><circle cx="511.9" cy="60.3" r="1.0"/><circle cx="511.9" cy="125.0" r="1.0"/><circle cx="511.4" cy="120.6" r="1.0"/><circle cx="511.9" cy="71.1" r="1.0"/><circle cx="511.7" cy="134.9" r="1.0"/><circle cx="511.7" cy="140.9" r="1.0"/><circle cx="513.0" cy="51.0" r="1.0"/><circle cx="512.9" cy="122.3" r="1.0"/><circle cx="513.0" cy="122.0" r="1.0"/><circle cx="513.0" cy="143.1" r="1.0"/><circle cx="512.4" cy="115.7" r="1.0"/><circle cx="512.3" cy="55.1" r="1.0"/><circle cx="511.6" cy="144.1" r="1.0"/><circle cx="512.2" cy="63.5" r="1.0"/><circle cx="512.9" cy="131.0" r="1.0"/><circle cx="511.6" cy="60.0" r="1.0"/><circle cx="511.1" cy="117.7" r="1.0"/><circle cx="511.4" cy="147.8" r="1.0"/><circle cx="611.7" cy="194.3" r="1.0"/><circle cx="611.1" cy="31.2" r="1.0"/><circle cx="612.8" cy="50.9" r="1.0"/><circle cx="612.7" cy="57.2" r="1.0"/><circle cx="612.0" cy="81.1" r="1.0"/><circle cx="611.4" cy="158.4" r="1.0"/><circle cx="612.6" cy="76.6" r="1.0"/><circle cx="612.0" cy="135.4" r="1.0"/><circle cx="613.0" cy="164.1" r="1.0"/><circle cx="612.9" cy="46.7" r="1.0"/><circle cx="612.0" cy="178.4" r="1.0"/><circle cx="612.1" cy="82.9" r="1.0"/><circle cx="611.5" cy="81.6" r="1.0"/><circle cx="611.5" cy="160.4" r="1.0"/><circle cx="612.5" cy="78.9" r="1.0"/><circle cx="612.9" cy="46.2" r="1.0"/><circle cx="611.9" cy="83.0" r="1.0"/><circle cx="611.8" cy="160.4" r="1.0"/><circle cx="611.1" cy="31.6" r="1.0"/><circle cx="611.5" cy="34.4" r="1.0"/><circle cx="611.8" cy="149.4" r="1.0"/><circle cx="611.1" cy="147.8" r="1.0"/><circle cx="612.0" cy="144.6" r="1.0"/><circle cx="612.0" cy="52.3" r="1.0"/><circle cx="611.5" cy="129.6" r="1.0"/><circle cx="611.5" cy="52.3" r="1.0"/></g><g fill="#4aa52a"><circle cx="422.7" cy="176.0" r="1.0"/><circle cx="423.7" cy="68.2" r="1.0"/><circle cx="423.5" cy="98.7" r="1.0"/><circle cx="523.7" cy="174.6" r="1.0"/><circle cx="523.2" cy="69.0" r="1.0"/><circle cx="523.3" cy="154.1" r="1.0"/><circle cx="524.4" cy="135.2" r="1.0"/><circle cx="523.4" cy="88.1" r="1.0"/><circle cx="523.2" cy="165.7" r="1.0"/><circle cx="522.7" cy="149.7" r="1.0"/><circle cx="522.5" cy="146.9" r="1.0"/><circle cx="523.1" cy="99.0" r="1.0"/><circle cx="522.8" cy="81.6" r="1.0"/><circle cx="522.6" cy="163.7" r="1.0"/><circle cx="523.1" cy="87.6" r="1.0"/><circle cx="523.9" cy="98.7" r="1.0"/><circle cx="523.6" cy="99.6" r="1.0"/><circle cx="524.3" cy="141.1" r="1.0"/><circle cx="523.2" cy="150.8" r="1.0"/><circle cx="524.3" cy="138.6" r="1.0"/><circle cx="522.6" cy="85.5" r="1.0"/><circle cx="522.8" cy="87.6" r="1.0"/><circle cx="523.6" cy="75.1" r="1.0"/><circle cx="524.4" cy="158.8" r="1.0"/><circle cx="523.3" cy="141.1" r="1.0"/><circle cx="523.0" cy="169.6" r="1.0"/><circle cx="522.5" cy="144.0" r="1.0"/><circle cx="522.8" cy="87.0" r="1.0"/><circle cx="523.0" cy="132.5" r="1.0"/><circle cx="523.9" cy="162.0" r="1.0"/><circle cx="522.9" cy="148.8" r="1.0"/><circle cx="523.7" cy="88.5" r="1.0"/><circle cx="523.8" cy="99.9" r="1.0"/><circle cx="524.4" cy="99.8" r="1.0"/><circle cx="523.7" cy="163.0" r="1.0"/><circle cx="524.2" cy="93.0" r="1.0"/><circle cx="523.2" cy="85.9" r="1.0"/><circle cx="522.7" cy="139.6" r="1.0"/><circle cx="522.8" cy="167.6" r="1.0"/><circle cx="524.2" cy="140.7" r="1.0"/><circle cx="522.9" cy="150.0" r="1.0"/><circle cx="523.8" cy="134.4" r="1.0"/><circle cx="523.3" cy="99.8" r="1.0"/><circle cx="523.7" cy="79.4" r="1.0"/><circle cx="523.7" cy="75.0" r="1.0"/><circle cx="523.0" cy="83.2" r="1.0"/><circle cx="524.3" cy="193.7" r="1.0"/><circle cx="624.3" cy="207.0" r="1.0"/><circle cx="623.9" cy="82.1" r="1.0"/><circle cx="624.3" cy="167.5" r="1.0"/><circle cx="622.5" cy="184.8" r="1.0"/><circle cx="623.8" cy="168.3" r="1.0"/><circle cx="624.4" cy="96.6" r="1.0"/><circle cx="623.4" cy="157.3" r="1.0"/><circle cx="623.9" cy="105.6" r="1.0"/><circle cx="623.1" cy="95.5" r="1.0"/><circle cx="623.1" cy="204.9" r="1.0"/><circle cx="622.7" cy="107.9" r="1.0"/><circle cx="623.4" cy="157.4" r="1.0"/><circle cx="624.4" cy="105.7" r="1.0"/><circle cx="624.1" cy="187.2" r="1.0"/><circle cx="624.5" cy="204.7" r="1.0"/><circle cx="623.0" cy="106.6" r="1.0"/><circle cx="623.3" cy="86.5" r="1.0"/><circle cx="622.5" cy="108.0" r="1.0"/><circle cx="622.9" cy="97.9" r="1.0"/><circle cx="624.2" cy="99.4" r="1.0"/><circle cx="623.1" cy="107.6" r="1.0"/><circle cx="624.0" cy="172.7" r="1.0"/><circle cx="624.3" cy="186.3" r="1.0"/><circle cx="624.1" cy="192.7" r="1.0"/><circle cx="623.5" cy="100.6" r="1.0"/><circle cx="622.7" cy="179.5" r="1.0"/><circle cx="624.1" cy="166.0" r="1.0"/><circle cx="623.1" cy="205.0" r="1.0"/><circle cx="623.2" cy="185.2" r="1.0"/><circle cx="623.5" cy="88.1" r="1.0"/><circle cx="624.4" cy="162.9" r="1.0"/><circle cx="623.5" cy="176.6" r="1.0"/><circle cx="623.8" cy="91.0" r="1.0"/><circle cx="623.5" cy="152.6" r="1.0"/><circle cx="624.3" cy="182.4" r="1.0"/></g><g fill="#d09a1c"><circle cx="434.3" cy="176.5" r="1.0"/><circle cx="435.3" cy="91.9" r="1.0"/><circle cx="434.8" cy="147.2" r="1.0"/><circle cx="434.8" cy="157.6" r="1.0"/><circle cx="434.5" cy="109.1" r="1.0"/><circle cx="534.0" cy="179.2" r="1.0"/><circle cx="534.0" cy="81.1" r="1.0"/><circle cx="534.7" cy="162.3" r="1.0"/><circle cx="534.6" cy="149.5" r="1.0"/><circle cx="533.9" cy="168.4" r="1.0"/><circle cx="535.3" cy="170.5" r="1.0"/><circle cx="535.6" cy="93.2" r="1.0"/><circle cx="534.7" cy="107.2" r="1.0"/><circle cx="534.7" cy="116.0" r="1.0"/><circle cx="535.8" cy="157.5" r="1.0"/><circle cx="534.7" cy="168.0" r="1.0"/><circle cx="534.2" cy="148.0" r="1.0"/><circle cx="535.9" cy="148.3" r="1.0"/><circle cx="535.1" cy="176.3" r="1.0"/><circle cx="534.4" cy="167.2" r="1.0"/><circle cx="535.1" cy="115.4" r="1.0"/><circle cx="534.7" cy="168.9" r="1.0"/><circle cx="534.4" cy="178.4" r="1.0"/><circle cx="535.5" cy="116.3" r="1.0"/><circle cx="535.3" cy="117.0" r="1.0"/><circle cx="535.2" cy="84.2" r="1.0"/><circle cx="533.9" cy="168.1" r="1.0"/><circle cx="535.6" cy="114.2" r="1.0"/><circle cx="535.1" cy="88.4" r="1.0"/><circle cx="534.4" cy="112.6" r="1.0"/><circle cx="535.4" cy="115.4" r="1.0"/><circle cx="534.7" cy="114.4" r="1.0"/><circle cx="535.0" cy="110.3" r="1.0"/><circle cx="535.1" cy="88.7" r="1.0"/><circle cx="535.3" cy="172.7" r="1.0"/><circle cx="534.5" cy="112.2" r="1.0"/><circle cx="535.2" cy="148.9" r="1.0"/><circle cx="535.0" cy="117.4" r="1.0"/><circle cx="534.3" cy="115.6" r="1.0"/><circle cx="534.4" cy="164.9" r="1.0"/><circle cx="535.7" cy="153.5" r="1.0"/><circle cx="534.8" cy="96.1" r="1.0"/><circle cx="535.3" cy="82.3" r="1.0"/><circle cx="534.9" cy="151.0" r="1.0"/><circle cx="534.9" cy="97.4" r="1.0"/><circle cx="534.3" cy="158.4" r="1.0"/><circle cx="534.2" cy="156.1" r="1.0"/><circle cx="535.8" cy="148.0" r="1.0"/><circle cx="535.0" cy="111.6" r="1.0"/><circle cx="534.9" cy="116.1" r="1.0"/><circle cx="535.5" cy="153.9" r="1.0"/><circle cx="535.6" cy="87.6" r="1.0"/><circle cx="535.6" cy="151.7" r="1.0"/><circle cx="534.0" cy="205.6" r="1.0"/><circle cx="534.7" cy="206.3" r="1.0"/><circle cx="535.6" cy="233.5" r="1.0"/><circle cx="634.1" cy="223.0" r="1.0"/><circle cx="634.9" cy="93.2" r="1.0"/><circle cx="634.2" cy="121.4" r="1.0"/><circle cx="634.4" cy="176.1" r="1.0"/><circle cx="634.8" cy="122.0" r="1.0"/><circle cx="634.0" cy="120.3" r="1.0"/><circle cx="635.8" cy="119.0" r="1.0"/><circle cx="635.8" cy="169.4" r="1.0"/><circle cx="635.6" cy="179.4" r="1.0"/><circle cx="634.1" cy="170.4" r="1.0"/><circle cx="634.4" cy="120.2" r="1.0"/><circle cx="634.2" cy="176.7" r="1.0"/><circle cx="634.1" cy="217.2" r="1.0"/><circle cx="635.7" cy="208.9" r="1.0"/><circle cx="634.8" cy="210.9" r="1.0"/><circle cx="635.4" cy="106.8" r="1.0"/><circle cx="634.8" cy="214.9" r="1.0"/><circle cx="634.5" cy="196.6" r="1.0"/><circle cx="635.2" cy="171.1" r="1.0"/><circle cx="634.6" cy="221.5" r="1.0"/><circle cx="634.9" cy="168.8" r="1.0"/><circle cx="634.3" cy="121.0" r="1.0"/><circle cx="633.9" cy="116.3" r="1.0"/><circle cx="634.9" cy="118.9" r="1.0"/><circle cx="634.8" cy="174.5" r="1.0"/><circle cx="635.4" cy="118.2" r="1.0"/><circle cx="634.4" cy="172.6" r="1.0"/><circle cx="634.9" cy="180.5" r="1.0"/><circle cx="634.2" cy="196.9" r="1.0"/><circle cx="635.5" cy="119.2" r="1.0"/><circle cx="635.8" cy="183.2" r="1.0"/><circle cx="635.4" cy="184.4" r="1.0"/></g><g fill="#2a9cab"><circle cx="446.4" cy="178.1" r="1.0"/><circle cx="446.3" cy="115.0" r="1.0"/><circle cx="547.2" cy="184.1" r="1.0"/><circle cx="546.4" cy="104.1" r="1.0"/><circle cx="545.4" cy="129.0" r="1.0"/><circle cx="546.0" cy="155.3" r="1.0"/><circle cx="546.4" cy="158.0" r="1.0"/><circle cx="546.1" cy="120.8" r="1.0"/><circle cx="545.9" cy="128.7" r="1.0"/><circle cx="547.2" cy="164.9" r="1.0"/><circle cx="546.2" cy="153.8" r="1.0"/><circle cx="546.2" cy="129.4" r="1.0"/><circle cx="545.4" cy="159.9" r="1.0"/><circle cx="547.1" cy="118.0" r="1.0"/><circle cx="546.5" cy="125.1" r="1.0"/><circle cx="546.3" cy="128.1" r="1.0"/><circle cx="546.7" cy="114.9" r="1.0"/><circle cx="545.8" cy="124.5" r="1.0"/><circle cx="545.6" cy="113.4" r="1.0"/><circle cx="547.2" cy="165.7" r="1.0"/><circle cx="545.5" cy="123.6" r="1.0"/><circle cx="547.1" cy="112.9" r="1.0"/><circle cx="546.7" cy="154.6" r="1.0"/><circle cx="545.6" cy="175.2" r="1.0"/><circle cx="545.4" cy="152.4" r="1.0"/><circle cx="546.7" cy="119.6" r="1.0"/><circle cx="545.4" cy="169.2" r="1.0"/><circle cx="545.9" cy="169.6" r="1.0"/><circle cx="546.5" cy="111.2" r="1.0"/><circle cx="546.0" cy="128.8" r="1.0"/><circle cx="545.6" cy="183.5" r="1.0"/><circle cx="547.0" cy="119.8" r="1.0"/><circle cx="546.9" cy="156.6" r="1.0"/><circle cx="547.3" cy="111.8" r="1.0"/><circle cx="546.1" cy="127.0" r="1.0"/><circle cx="545.4" cy="152.0" r="1.0"/><circle cx="546.4" cy="128.0" r="1.0"/><circle cx="545.5" cy="91.6" r="1.0"/><circle cx="546.3" cy="190.1" r="1.0"/><circle cx="546.8" cy="194.0" r="1.0"/><circle cx="645.7" cy="215.8" r="1.0"/><circle cx="646.7" cy="103.5" r="1.0"/><circle cx="645.8" cy="178.4" r="1.0"/><circle cx="646.4" cy="178.1" r="1.0"/><circle cx="646.7" cy="185.6" r="1.0"/><circle cx="645.5" cy="177.5" r="1.0"/><circle cx="646.6" cy="131.0" r="1.0"/><circle cx="646.7" cy="135.8" r="1.0"/><circle cx="645.3" cy="127.8" r="1.0"/><circle cx="646.3" cy="122.6" r="1.0"/><circle cx="646.7" cy="205.4" r="1.0"/><circle cx="646.7" cy="215.8" r="1.0"/><circle cx="645.7" cy="133.5" r="1.0"/><circle cx="646.2" cy="139.3" r="1.0"/><circle cx="647.3" cy="176.0" r="1.0"/><circle cx="647.1" cy="137.6" r="1.0"/><circle cx="645.8" cy="189.1" r="1.0"/><circle cx="646.0" cy="178.6" r="1.0"/><circle cx="646.7" cy="192.1" r="1.0"/><circle cx="645.6" cy="120.8" r="1.0"/><circle cx="645.8" cy="105.9" r="1.0"/><circle cx="645.4" cy="138.4" r="1.0"/><circle cx="645.6" cy="180.2" r="1.0"/><circle cx="646.2" cy="130.4" r="1.0"/><circle cx="646.5" cy="121.2" r="1.0"/><circle cx="646.5" cy="195.7" r="1.0"/><circle cx="646.7" cy="105.6" r="1.0"/><circle cx="646.2" cy="175.2" r="1.0"/><circle cx="645.7" cy="124.7" r="1.0"/><circle cx="646.3" cy="227.9" r="1.0"/></g><g fill="#ab45d4"><circle cx="457.1" cy="130.4" r="1.0"/><circle cx="558.5" cy="175.7" r="1.0"/><circle cx="557.8" cy="128.9" r="1.0"/><circle cx="556.8" cy="171.4" r="1.0"/><circle cx="558.6" cy="173.7" r="1.0"/><circle cx="557.7" cy="130.1" r="1.0"/><circle cx="557.2" cy="164.4" r="1.0"/><circle cx="558.3" cy="135.8" r="1.0"/><circle cx="557.3" cy="161.3" r="1.0"/><circle cx="556.8" cy="131.8" r="1.0"/><circle cx="557.5" cy="173.8" r="1.0"/><circle cx="557.8" cy="166.5" r="1.0"/><circle cx="557.3" cy="139.0" r="1.0"/><circle cx="558.5" cy="134.9" r="1.0"/><circle cx="556.9" cy="162.0" r="1.0"/><circle cx="557.9" cy="139.4" r="1.0"/><circle cx="558.3" cy="165.7" r="1.0"/><circle cx="558.2" cy="165.6" r="1.0"/><circle cx="556.9" cy="135.9" r="1.0"/><circle cx="558.1" cy="160.2" r="1.0"/><circle cx="558.4" cy="139.1" r="1.0"/><circle cx="557.4" cy="131.3" r="1.0"/><circle cx="557.7" cy="172.6" r="1.0"/><circle cx="558.6" cy="164.6" r="1.0"/><circle cx="557.2" cy="160.9" r="1.0"/><circle cx="558.2" cy="101.7" r="1.0"/><circle cx="558.1" cy="188.5" r="1.0"/><circle cx="557.1" cy="194.4" r="1.0"/><circle cx="557.4" cy="204.7" r="1.0"/><circle cx="557.0" cy="233.1" r="1.0"/><circle cx="657.2" cy="194.3" r="1.0"/><circle cx="656.8" cy="137.0" r="1.0"/><circle cx="657.8" cy="182.7" r="1.0"/><circle cx="658.2" cy="174.5" r="1.0"/><circle cx="657.3" cy="141.5" r="1.0"/><circle cx="656.9" cy="143.6" r="1.0"/><circle cx="657.1" cy="149.0" r="1.0"/><circle cx="658.1" cy="148.1" r="1.0"/><circle cx="657.3" cy="144.4" r="1.0"/><circle cx="658.2" cy="111.1" r="1.0"/><circle cx="658.7" cy="116.4" r="1.0"/></g><g fill="#7a86d6"><circle cx="469.1" cy="164.6" r="1.0"/><circle cx="468.3" cy="146.6" r="1.0"/><circle cx="568.4" cy="184.9" r="1.0"/><circle cx="568.7" cy="133.0" r="1.0"/><circle cx="569.6" cy="170.1" r="1.0"/><circle cx="569.5" cy="139.1" r="1.0"/><circle cx="568.4" cy="135.8" r="1.0"/><circle cx="569.6" cy="143.0" r="1.0"/><circle cx="568.3" cy="176.4" r="1.0"/><circle cx="569.8" cy="139.2" r="1.0"/><circle cx="568.6" cy="178.3" r="1.0"/><circle cx="570.1" cy="142.2" r="1.0"/><circle cx="568.6" cy="134.9" r="1.0"/><circle cx="570.0" cy="140.3" r="1.0"/><circle cx="569.4" cy="138.8" r="1.0"/><circle cx="569.0" cy="139.3" r="1.0"/><circle cx="569.2" cy="149.7" r="1.0"/><circle cx="570.1" cy="145.4" r="1.0"/><circle cx="569.2" cy="151.9" r="1.0"/><circle cx="570.2" cy="139.2" r="1.0"/><circle cx="569.8" cy="169.9" r="1.0"/><circle cx="570.1" cy="141.9" r="1.0"/><circle cx="569.1" cy="138.2" r="1.0"/><circle cx="568.4" cy="139.1" r="1.0"/><circle cx="569.3" cy="173.9" r="1.0"/><circle cx="569.9" cy="169.2" r="1.0"/><circle cx="569.2" cy="147.6" r="1.0"/><circle cx="568.3" cy="195.0" r="1.0"/><circle cx="569.4" cy="203.8" r="1.0"/><circle cx="569.1" cy="214.5" r="1.0"/><circle cx="570.1" cy="220.0" r="1.0"/><circle cx="668.5" cy="216.1" r="1.0"/><circle cx="669.6" cy="121.3" r="1.0"/><circle cx="669.0" cy="201.9" r="1.0"/><circle cx="669.6" cy="123.5" r="1.0"/><circle cx="668.6" cy="204.0" r="1.0"/><circle cx="669.4" cy="202.3" r="1.0"/><circle cx="668.6" cy="208.3" r="1.0"/><circle cx="669.8" cy="139.2" r="1.0"/><circle cx="668.6" cy="214.5" r="1.0"/></g></g>
<g><rect x="395.05" y="69.84" width="11.13" height="22.67" fill="#5ca5dd" class="b"/><path d="M400.61 69.84V40.74M397.76 40.74H403.47" class="w"/><path d="M400.61 92.51V117.81M397.76 117.81H403.47" class="w"/><path d="M395.05 85.20H406.18" class="m"/><rect x="406.48" y="90.32" width="11.13" height="19.31" fill="#ef8da2" class="b"/><path d="M412.04 90.32V70.14M409.19 70.14H414.90" class="w"/><path d="M412.04 109.62V130.39M409.19 130.39H414.90" class="w"/><path d="M406.48 100.26H417.61" class="m"/><rect x="417.91" y="103.48" width="11.13" height="29.10" fill="#69ae56" class="b"/><path d="M423.47 103.48V68.23M420.61 68.23H426.33" class="w"/><path d="M423.47 132.58V176.02M420.61 176.02H426.33" class="w"/><path d="M417.91 113.43H429.04" class="m"/><rect x="429.34" y="123.37" width="11.13" height="22.67" fill="#d6a94a" class="b"/><path d="M434.90 123.37V91.93M432.04 91.93H437.76" class="w"/><path d="M434.90 146.04V176.46M432.04 176.46H437.76" class="w"/><path d="M429.34 137.26H440.46" class="m"/><rect x="440.76" y="143.99" width="11.13" height="20.77" fill="#58a9b4" class="b"/><path d="M446.33 143.99V115.03M443.47 115.03H449.19" class="w"/><path d="M446.33 164.76V178.07M443.47 178.07H449.19" class="w"/><path d="M440.76 153.35H451.89" class="m"/><path d="M452.19 130.39H463.32" class="m"/><rect x="463.62" y="153.35" width="11.13" height="9.21" fill="#a6b0e4" class="b"/><path d="M469.19 153.35V146.62M466.33 146.62H472.04" class="w"/><path d="M469.19 162.57V164.61M466.33 164.61H472.04" class="w"/><path d="M463.62 160.08H474.75" class="m"/><rect x="495.05" y="69.84" width="11.13" height="32.03" fill="#5ca5dd" class="b"/><path d="M500.61 69.84V43.37M497.76 43.37H503.47" class="w"/><path d="M500.61 101.87V145.45M497.76 145.45H503.47" class="w"/><path d="M495.05 85.20H506.18" class="m"/><rect x="506.48" y="77.89" width="11.13" height="37.73" fill="#ef8da2" class="b"/><path d="M512.04 77.89V41.76M509.19 41.76H514.90" class="w"/><path d="M512.04 115.62V164.03M509.19 164.03H514.90" class="w"/><path d="M506.48 96.17H517.61" class="m"/><rect x="517.91" y="99.97" width="11.13" height="32.47" fill="#69ae56" class="b"/><path d="M523.47 99.97V68.97M520.61 68.97H526.33" class="w"/><path d="M523.47 132.44V174.56M520.61 174.56H526.33" class="w"/><path d="M517.91 115.77H529.04" class="m"/><rect x="529.34" y="117.38" width="11.13" height="30.57" fill="#d6a94a" class="b"/><path d="M534.90 117.38V81.10M532.04 81.10H537.76" class="w"/><path d="M534.90 147.94V179.24M532.04 179.24H537.76" class="w"/><path d="M529.34 126.44H540.46" class="m"/><rect x="540.76" y="129.95" width="11.13" height="21.79" fill="#58a9b4" class="b"/><path d="M546.33 129.95V104.07M543.47 104.07H549.19" class="w"/><path d="M546.33 151.74V184.06M543.47 184.06H549.19" class="w"/><path d="M540.76 138.73H551.89" class="m"/><rect x="552.19" y="141.21" width="11.13" height="17.99" fill="#bb74d6" class="b"/><path d="M557.76 141.21V128.93M554.90 128.93H560.61" class="w"/><path d="M557.76 159.20V175.73M554.90 175.73H560.61" class="w"/><path d="M552.19 151.30H563.32" class="m"/><rect x="563.62" y="152.47" width="11.13" height="16.23" fill="#a6b0e4" class="b"/><path d="M569.19 152.47V133.02M566.33 133.02H572.04" class="w"/><path d="M569.19 168.71V184.94M566.33 184.94H572.04" class="w"/><path d="M563.62 160.52H574.75" class="m"/><rect x="595.05" y="74.38" width="11.13" height="49.87" fill="#5ca5dd" class="b"/><path d="M600.61 74.38V34.30M597.76 34.30H603.47" class="w"/><path d="M600.61 124.25V185.82M597.76 185.82H603.47" class="w"/><path d="M595.05 101.43H606.18" class="m"/><rect x="606.48" y="83.15" width="11.13" height="46.36" fill="#ef8da2" class="b"/><path d="M612.04 83.15V31.23M609.19 31.23H614.90" class="w"/><path d="M612.04 129.51V194.30M609.19 194.30H614.90" class="w"/><path d="M606.48 105.53H617.61" class="m"/><rect x="617.91" y="108.02" width="11.13" height="43.73" fill="#69ae56" class="b"/><path d="M623.47 108.02V82.13M620.61 82.13H626.33" class="w"/><path d="M623.47 151.74V207.03M620.61 207.03H626.33" class="w"/><path d="M617.91 123.96H629.04" class="m"/><rect x="629.34" y="122.05" width="11.13" height="46.65" fill="#d6a94a" class="b"/><path d="M634.90 122.05V93.24M632.04 93.24H637.76" class="w"/><path d="M634.90 168.71V222.97M632.04 222.97H637.76" class="w"/><path d="M629.34 143.26H640.46" class="m"/><rect x="640.76" y="139.31" width="11.13" height="35.25" fill="#58a9b4" class="b"/><path d="M646.33 139.31V103.48M643.47 103.48H649.19" class="w"/><path d="M646.33 174.56V215.80M643.47 215.80H649.19" class="w"/><path d="M640.76 154.96H651.89" class="m"/><rect x="652.19" y="149.99" width="11.13" height="19.45" fill="#bb74d6" class="b"/><path d="M657.76 149.99V136.97M654.90 136.97H660.61" class="w"/><path d="M657.76 169.44V194.30M654.90 194.30H660.61" class="w"/><path d="M652.19 161.98H663.32" class="m"/><rect x="663.62" y="166.22" width="11.13" height="35.25" fill="#a6b0e4" class="b"/><path d="M669.19 166.22V121.32M666.33 121.32H672.04" class="w"/><path d="M669.19 201.47V216.09M666.33 216.09H672.04" class="w"/><path d="M663.62 181.43H674.75" class="m"/></g>
<g class="pi"><g fill="#3490dc"><circle cx="400.1" cy="90.8" r="1.0"/><circle cx="400.5" cy="89.3" r="1.0"/><circle cx="501.5" cy="89.6" r="1.0"/><circle cx="501.2" cy="90.6" r="1.0"/><circle cx="500.2" cy="72.1" r="1.0"/><circle cx="501.5" cy="73.8" r="1.0"/><circle cx="500.1" cy="85.8" r="1.0"/><circle cx="500.2" cy="78.8" r="1.0"/><circle cx="500.6" cy="79.4" r="1.0"/><circle cx="501.2" cy="94.2" r="1.0"/><circle cx="500.1" cy="80.7" r="1.0"/><circle cx="500.0" cy="92.6" r="1.0"/><circle cx="500.3" cy="96.5" r="1.0"/><circle cx="501.6" cy="94.5" r="1.0"/><circle cx="499.8" cy="83.8" r="1.0"/><circle cx="499.7" cy="86.7" r="1.0"/><circle cx="501.3" cy="77.6" r="1.0"/><circle cx="500.1" cy="69.9" r="1.0"/><circle cx="500.0" cy="77.3" r="1.0"/><circle cx="500.2" cy="79.2" r="1.0"/><circle cx="500.1" cy="92.0" r="1.0"/><circle cx="499.7" cy="86.1" r="1.0"/><circle cx="500.9" cy="77.1" r="1.0"/><circle cx="499.9" cy="92.5" r="1.0"/><circle cx="501.0" cy="71.7" r="1.0"/><circle cx="500.2" cy="91.5" r="1.0"/><circle cx="499.9" cy="72.7" r="1.0"/><circle cx="501.2" cy="83.5" r="1.0"/><circle cx="501.5" cy="77.4" r="1.0"/><circle cx="501.5" cy="75.9" r="1.0"/><circle cx="500.6" cy="85.3" r="1.0"/><circle cx="500.1" cy="84.6" r="1.0"/><circle cx="500.5" cy="88.7" r="1.0"/><circle cx="499.9" cy="90.4" r="1.0"/><circle cx="501.4" cy="82.2" r="1.0"/><circle cx="500.8" cy="92.6" r="1.0"/><circle cx="500.4" cy="91.1" r="1.0"/><circle cx="500.1" cy="69.9" r="1.0"/><circle cx="500.8" cy="78.9" r="1.0"/><circle cx="500.6" cy="72.6" r="1.0"/><circle cx="500.7" cy="72.8" r="1.0"/><circle cx="500.4" cy="79.8" r="1.0"/><circle cx="500.2" cy="79.8" r="1.0"/><circle cx="500.4" cy="95.4" r="1.0"/><circle cx="500.0" cy="70.5" r="1.0"/><circle cx="501.3" cy="91.5" r="1.0"/><circle cx="601.3" cy="109.2" r="1.0"/><circle cx="600.7" cy="91.3" r="1.0"/><circle cx="600.3" cy="83.1" r="1.0"/><circle cx="600.1" cy="102.0" r="1.0"/><circle cx="599.8" cy="86.4" r="1.0"/><circle cx="600.7" cy="107.1" r="1.0"/><circle cx="601.0" cy="100.5" r="1.0"/><circle cx="600.4" cy="121.1" r="1.0"/><circle cx="600.2" cy="100.2" r="1.0"/><circle cx="600.9" cy="107.2" r="1.0"/><circle cx="601.5" cy="93.8" r="1.0"/><circle cx="601.0" cy="90.1" r="1.0"/><circle cx="601.5" cy="102.3" r="1.0"/><circle cx="601.1" cy="82.7" r="1.0"/><circle cx="600.3" cy="120.6" r="1.0"/><circle cx="600.4" cy="79.1" r="1.0"/><circle cx="601.4" cy="96.8" r="1.0"/><circle cx="600.7" cy="123.0" r="1.0"/><circle cx="600.7" cy="115.5" r="1.0"/><circle cx="600.3" cy="114.2" r="1.0"/><circle cx="600.4" cy="115.5" r="1.0"/><circle cx="600.9" cy="105.2" r="1.0"/><circle cx="600.8" cy="80.4" r="1.0"/><circle cx="600.4" cy="120.8" r="1.0"/><circle cx="600.2" cy="83.3" r="1.0"/><circle cx="601.2" cy="103.3" r="1.0"/><circle cx="601.3" cy="93.6" r="1.0"/><circle cx="599.9" cy="94.4" r="1.0"/></g><g fill="#dc5a78"><circle cx="412.8" cy="105.6" r="1.0"/><circle cx="412.8" cy="100.1" r="1.0"/><circle cx="411.1" cy="100.5" r="1.0"/><circle cx="412.3" cy="90.9" r="1.0"/><circle cx="511.4" cy="102.7" r="1.0"/><circle cx="512.7" cy="105.9" r="1.0"/><circle cx="512.9" cy="114.3" r="1.0"/><circle cx="511.4" cy="111.2" r="1.0"/><circle cx="512.7" cy="107.8" r="1.0"/><circle cx="511.7" cy="89.7" r="1.0"/><circle cx="511.8" cy="102.8" r="1.0"/><circle cx="512.1" cy="91.6" r="1.0"/><circle cx="512.7" cy="92.8" r="1.0"/><circle cx="511.1" cy="83.1" r="1.0"/><circle cx="512.7" cy="108.2" r="1.0"/><circle cx="512.9" cy="92.9" r="1.0"/><circle cx="512.0" cy="91.5" r="1.0"/><circle cx="512.0" cy="102.3" r="1.0"/><circle cx="511.4" cy="115.6" r="1.0"/><circle cx="512.2" cy="114.8" r="1.0"/><circle cx="513.0" cy="94.6" r="1.0"/><circle cx="511.2" cy="89.0" r="1.0"/><circle cx="511.1" cy="81.0" r="1.0"/><circle cx="511.9" cy="113.9" r="1.0"/><circle cx="511.0" cy="81.0" r="1.0"/><circle cx="512.7" cy="87.9" r="1.0"/><circle cx="512.6" cy="105.7" r="1.0"/><circle cx="512.4" cy="81.4" r="1.0"/><circle cx="512.1" cy="105.0" r="1.0"/><circle cx="511.7" cy="91.6" r="1.0"/><circle cx="512.4" cy="111.7" r="1.0"/><circle cx="512.7" cy="113.0" r="1.0"/><circle cx="512.9" cy="83.9" r="1.0"/><circle cx="511.6" cy="88.0" r="1.0"/><circle cx="512.2" cy="98.4" r="1.0"/><circle cx="511.4" cy="99.8" r="1.0"/><circle cx="511.2" cy="82.3" r="1.0"/><circle cx="512.0" cy="87.7" r="1.0"/><circle cx="512.8" cy="111.6" r="1.0"/><circle cx="512.3" cy="113.4" r="1.0"/><circle cx="512.7" cy="106.5" r="1.0"/><circle cx="511.2" cy="112.4" r="1.0"/><circle cx="512.0" cy="111.9" r="1.0"/><circle cx="512.3" cy="96.0" r="1.0"/><circle cx="511.7" cy="79.1" r="1.0"/><circle cx="512.8" cy="91.6" r="1.0"/><circle cx="611.4" cy="88.7" r="1.0"/><circle cx="611.8" cy="85.4" r="1.0"/><circle cx="611.2" cy="89.8" r="1.0"/><circle cx="611.3" cy="99.4" r="1.0"/><circle cx="612.6" cy="112.7" r="1.0"/><circle cx="612.7" cy="129.4" r="1.0"/><circle cx="611.3" cy="102.4" r="1.0"/><circle cx="611.3" cy="128.1" r="1.0"/><circle cx="612.2" cy="116.2" r="1.0"/><circle cx="611.1" cy="121.6" r="1.0"/><circle cx="612.9" cy="100.7" r="1.0"/><circle cx="613.0" cy="104.8" r="1.0"/><circle cx="612.5" cy="96.0" r="1.0"/><circle cx="612.7" cy="92.4" r="1.0"/><circle cx="612.7" cy="117.2" r="1.0"/><circle cx="611.3" cy="100.5" r="1.0"/><circle cx="612.2" cy="105.9" r="1.0"/><circle cx="612.7" cy="89.7" r="1.0"/><circle cx="612.6" cy="121.3" r="1.0"/><circle cx="611.1" cy="124.9" r="1.0"/><circle cx="612.8" cy="94.0" r="1.0"/><circle cx="612.1" cy="124.8" r="1.0"/><circle cx="611.2" cy="101.1" r="1.0"/><circle cx="611.7" cy="116.1" r="1.0"/><circle cx="612.3" cy="83.8" r="1.0"/><circle cx="612.8" cy="84.3" r="1.0"/><circle cx="612.3" cy="104.1" r="1.0"/><circle cx="612.9" cy="99.6" r="1.0"/><circle cx="611.8" cy="125.6" r="1.0"/><circle cx="611.3" cy="83.3" r="1.0"/></g><g fill="#4aa52a"><circle cx="424.4" cy="110.7" r="1.0"/><circle cx="423.5" cy="104.2" r="1.0"/><circle cx="423.0" cy="110.9" r="1.0"/><circle cx="423.4" cy="109.1" r="1.0"/><circle cx="422.8" cy="120.2" r="1.0"/><circle cx="523.6" cy="108.7" r="1.0"/><circle cx="522.6" cy="122.8" r="1.0"/><circle cx="523.1" cy="123.6" r="1.0"/><circle cx="523.1" cy="109.5" r="1.0"/><circle cx="523.0" cy="130.9" r="1.0"/><circle cx="522.9" cy="111.8" r="1.0"/><circle cx="523.2" cy="123.2" r="1.0"/><circle cx="524.2" cy="114.5" r="1.0"/><circle cx="523.4" cy="131.2" r="1.0"/><circle cx="523.4" cy="118.0" r="1.0"/><circle cx="523.6" cy="104.5" r="1.0"/><circle cx="523.1" cy="129.6" r="1.0"/><circle cx="523.6" cy="109.0" r="1.0"/><circle cx="523.2" cy="119.7" r="1.0"/><circle cx="524.0" cy="102.7" r="1.0"/><circle cx="524.2" cy="100.8" r="1.0"/><circle cx="522.6" cy="115.1" r="1.0"/><circle cx="523.4" cy="114.2" r="1.0"/><circle cx="524.3" cy="103.1" r="1.0"/><circle cx="523.0" cy="111.7" r="1.0"/><circle cx="523.3" cy="121.0" r="1.0"/><circle cx="522.9" cy="130.0" r="1.0"/><circle cx="524.2" cy="103.0" r="1.0"/><circle cx="522.9" cy="129.9" r="1.0"/><circle cx="523.9" cy="102.0" r="1.0"/><circle cx="522.6" cy="109.6" r="1.0"/><circle cx="524.1" cy="129.8" r="1.0"/><circle cx="523.5" cy="115.1" r="1.0"/><circle cx="523.8" cy="122.8" r="1.0"/><circle cx="524.3" cy="126.5" r="1.0"/><circle cx="523.1" cy="132.1" r="1.0"/><circle cx="524.0" cy="116.0" r="1.0"/><circle cx="523.3" cy="111.5" r="1.0"/><circle cx="523.8" cy="124.1" r="1.0"/><circle cx="523.1" cy="123.0" r="1.0"/><circle cx="522.6" cy="100.7" r="1.0"/><circle cx="522.6" cy="103.6" r="1.0"/><circle cx="523.1" cy="105.7" r="1.0"/><circle cx="523.5" cy="127.7" r="1.0"/><circle cx="523.4" cy="119.7" r="1.0"/><circle cx="522.5" cy="107.7" r="1.0"/><circle cx="624.1" cy="121.9" r="1.0"/><circle cx="624.1" cy="113.8" r="1.0"/><circle cx="623.9" cy="116.9" r="1.0"/><circle cx="624.2" cy="133.0" r="1.0"/><circle cx="623.3" cy="120.1" r="1.0"/><circle cx="624.2" cy="112.9" r="1.0"/><circle cx="622.8" cy="147.8" r="1.0"/><circle cx="623.0" cy="129.8" r="1.0"/><circle cx="623.2" cy="123.3" r="1.0"/><circle cx="623.8" cy="109.1" r="1.0"/><circle cx="624.3" cy="109.3" r="1.0"/><circle cx="624.0" cy="147.5" r="1.0"/><circle cx="624.0" cy="121.0" r="1.0"/><circle cx="623.0" cy="122.3" r="1.0"/><circle cx="624.3" cy="114.5" r="1.0"/><circle cx="624.0" cy="140.7" r="1.0"/><circle cx="623.7" cy="118.3" r="1.0"/><circle cx="622.8" cy="130.6" r="1.0"/><circle cx="623.3" cy="115.7" r="1.0"/><circle cx="624.3" cy="140.4" r="1.0"/><circle cx="623.9" cy="113.6" r="1.0"/></g><g fill="#d09a1c"><circle cx="435.0" cy="142.5" r="1.0"/><circle cx="435.1" cy="143.9" r="1.0"/><circle cx="434.4" cy="128.2" r="1.0"/><circle cx="534.9" cy="117.5" r="1.0"/><circle cx="535.0" cy="123.5" r="1.0"/><circle cx="535.2" cy="136.4" r="1.0"/><circle cx="535.0" cy="121.4" r="1.0"/><circle cx="535.0" cy="121.0" r="1.0"/><circle cx="535.3" cy="132.0" r="1.0"/><circle cx="535.9" cy="132.6" r="1.0"/><circle cx="535.3" cy="131.3" r="1.0"/><circle cx="534.5" cy="136.7" r="1.0"/><circle cx="534.7" cy="119.4" r="1.0"/><circle cx="534.7" cy="126.7" r="1.0"/><circle cx="533.9" cy="121.4" r="1.0"/><circle cx="535.8" cy="144.7" r="1.0"/><circle cx="534.3" cy="134.3" r="1.0"/><circle cx="534.1" cy="130.7" r="1.0"/><circle cx="535.6" cy="141.0" r="1.0"/><circle cx="535.7" cy="125.8" r="1.0"/><circle cx="534.0" cy="122.8" r="1.0"/><circle cx="534.5" cy="122.7" r="1.0"/><circle cx="535.0" cy="124.4" r="1.0"/><circle cx="534.5" cy="142.3" r="1.0"/><circle cx="535.8" cy="143.0" r="1.0"/><circle cx="535.4" cy="123.7" r="1.0"/><circle cx="534.9" cy="125.0" r="1.0"/><circle cx="535.9" cy="131.8" r="1.0"/><circle cx="535.2" cy="137.5" r="1.0"/><circle cx="534.7" cy="121.0" r="1.0"/><circle cx="535.3" cy="135.5" r="1.0"/><circle cx="535.1" cy="125.6" r="1.0"/><circle cx="535.0" cy="145.0" r="1.0"/><circle cx="535.5" cy="144.1" r="1.0"/><circle cx="534.4" cy="125.1" r="1.0"/><circle cx="534.2" cy="121.9" r="1.0"/><circle cx="534.8" cy="128.2" r="1.0"/><circle cx="535.2" cy="143.3" r="1.0"/><circle cx="535.7" cy="124.0" r="1.0"/><circle cx="634.1" cy="150.5" r="1.0"/><circle cx="634.6" cy="151.2" r="1.0"/><circle cx="634.8" cy="127.4" r="1.0"/><circle cx="635.0" cy="168.0" r="1.0"/><circle cx="634.0" cy="138.8" r="1.0"/><circle cx="634.3" cy="144.2" r="1.0"/><circle cx="635.4" cy="130.7" r="1.0"/><circle cx="635.0" cy="130.6" r="1.0"/><circle cx="635.6" cy="136.8" r="1.0"/><circle cx="635.8" cy="144.0" r="1.0"/><circle cx="634.9" cy="137.5" r="1.0"/><circle cx="635.6" cy="151.2" r="1.0"/><circle cx="634.3" cy="150.2" r="1.0"/><circle cx="634.4" cy="147.5" r="1.0"/><circle cx="634.0" cy="168.5" r="1.0"/><circle cx="634.3" cy="129.2" r="1.0"/><circle cx="634.1" cy="152.1" r="1.0"/><circle cx="635.9" cy="138.5" r="1.0"/><circle cx="635.2" cy="140.3" r="1.0"/><circle cx="633.9" cy="155.4" r="1.0"/><circle cx="635.0" cy="149.2" r="1.0"/><circle cx="635.1" cy="152.4" r="1.0"/><circle cx="635.2" cy="146.6" r="1.0"/><circle cx="635.6" cy="141.3" r="1.0"/></g><g fill="#2a9cab"><circle cx="445.9" cy="158.9" r="1.0"/><circle cx="447.3" cy="158.1" r="1.0"/><circle cx="445.9" cy="160.7" r="1.0"/><circle cx="446.9" cy="151.1" r="1.0"/><circle cx="546.5" cy="150.6" r="1.0"/><circle cx="546.0" cy="138.8" r="1.0"/><circle cx="545.9" cy="134.8" r="1.0"/><circle cx="546.9" cy="141.4" r="1.0"/><circle cx="546.7" cy="135.5" r="1.0"/><circle cx="546.9" cy="136.6" r="1.0"/><circle cx="546.5" cy="147.3" r="1.0"/><circle cx="546.2" cy="151.5" r="1.0"/><circle cx="547.1" cy="136.3" r="1.0"/><circle cx="545.4" cy="148.6" r="1.0"/><circle cx="546.6" cy="131.2" r="1.0"/><circle cx="545.5" cy="151.2" r="1.0"/><circle cx="546.5" cy="147.0" r="1.0"/><circle cx="545.7" cy="136.1" r="1.0"/><circle cx="547.2" cy="143.3" r="1.0"/><circle cx="546.9" cy="144.2" r="1.0"/><circle cx="546.7" cy="143.1" r="1.0"/><circle cx="545.9" cy="150.8" r="1.0"/><circle cx="547.0" cy="134.4" r="1.0"/><circle cx="545.7" cy="145.7" r="1.0"/><circle cx="545.5" cy="140.2" r="1.0"/><circle cx="546.9" cy="145.3" r="1.0"/><circle cx="547.2" cy="131.5" r="1.0"/><circle cx="546.2" cy="132.2" r="1.0"/><circle cx="546.6" cy="151.2" r="1.0"/><circle cx="545.8" cy="133.9" r="1.0"/><circle cx="547.0" cy="134.5" r="1.0"/><circle cx="545.8" cy="144.1" r="1.0"/><circle cx="546.4" cy="145.0" r="1.0"/><circle cx="547.2" cy="148.3" r="1.0"/><circle cx="546.0" cy="148.4" r="1.0"/><circle cx="545.6" cy="135.0" r="1.0"/><circle cx="546.1" cy="135.4" r="1.0"/><circle cx="546.6" cy="145.4" r="1.0"/><circle cx="545.8" cy="135.5" r="1.0"/><circle cx="645.8" cy="156.9" r="1.0"/><circle cx="646.1" cy="140.9" r="1.0"/><circle cx="646.8" cy="145.8" r="1.0"/><circle cx="646.3" cy="154.8" r="1.0"/><circle cx="646.9" cy="164.5" r="1.0"/><circle cx="646.6" cy="170.1" r="1.0"/><circle cx="647.2" cy="167.8" r="1.0"/><circle cx="646.9" cy="154.6" r="1.0"/><circle cx="645.8" cy="171.4" r="1.0"/><circle cx="647.2" cy="150.9" r="1.0"/><circle cx="645.7" cy="163.5" r="1.0"/><circle cx="646.1" cy="152.8" r="1.0"/><circle cx="646.8" cy="141.1" r="1.0"/><circle cx="646.9" cy="166.5" r="1.0"/><circle cx="645.8" cy="156.1" r="1.0"/><circle cx="645.9" cy="173.5" r="1.0"/><circle cx="646.1" cy="155.6" r="1.0"/><circle cx="645.5" cy="141.7" r="1.0"/><circle cx="647.2" cy="153.1" r="1.0"/><circle cx="646.0" cy="142.4" r="1.0"/></g><g fill="#ab45d4"><circle cx="558.5" cy="153.8" r="1.0"/><circle cx="558.3" cy="148.4" r="1.0"/><circle cx="557.9" cy="153.3" r="1.0"/><circle cx="558.1" cy="151.9" r="1.0"/><circle cx="557.1" cy="150.4" r="1.0"/><circle cx="557.9" cy="157.2" r="1.0"/><circle cx="557.2" cy="149.5" r="1.0"/><circle cx="557.2" cy="158.9" r="1.0"/><circle cx="558.0" cy="150.3" r="1.0"/><circle cx="558.7" cy="150.0" r="1.0"/><circle cx="556.8" cy="147.7" r="1.0"/><circle cx="558.0" cy="154.0" r="1.0"/><circle cx="558.4" cy="158.0" r="1.0"/><circle cx="556.8" cy="150.1" r="1.0"/><circle cx="558.6" cy="157.9" r="1.0"/><circle cx="557.6" cy="146.2" r="1.0"/><circle cx="557.6" cy="157.6" r="1.0"/><circle cx="556.9" cy="157.6" r="1.0"/><circle cx="656.8" cy="153.5" r="1.0"/><circle cx="656.8" cy="163.3" r="1.0"/><circle cx="657.2" cy="151.8" r="1.0"/></g><g fill="#7a86d6"><circle cx="469.0" cy="160.4" r="1.0"/><circle cx="569.1" cy="160.7" r="1.0"/><circle cx="569.8" cy="164.6" r="1.0"/><circle cx="568.7" cy="167.4" r="1.0"/><circle cx="568.9" cy="159.4" r="1.0"/><circle cx="570.0" cy="157.0" r="1.0"/><circle cx="568.6" cy="161.8" r="1.0"/><circle cx="568.5" cy="166.8" r="1.0"/><circle cx="569.2" cy="161.3" r="1.0"/><circle cx="568.2" cy="154.8" r="1.0"/><circle cx="568.5" cy="162.3" r="1.0"/><circle cx="569.8" cy="168.0" r="1.0"/><circle cx="568.7" cy="153.8" r="1.0"/><circle cx="568.9" cy="163.8" r="1.0"/><circle cx="568.9" cy="156.8" r="1.0"/><circle cx="570.0" cy="167.0" r="1.0"/><circle cx="570.0" cy="161.8" r="1.0"/><circle cx="569.5" cy="158.2" r="1.0"/><circle cx="669.8" cy="176.6" r="1.0"/><circle cx="669.8" cy="191.9" r="1.0"/><circle cx="668.4" cy="200.4" r="1.0"/><circle cx="669.6" cy="177.4" r="1.0"/><circle cx="669.8" cy="191.6" r="1.0"/><circle cx="668.4" cy="180.7" r="1.0"/></g></g>
<rect x="389.3" y="166.3" width="28.5" height="75.3" rx="1" fill="#fff" stroke="#ccc" stroke-width="0.6"/>
<text x="392.5" y="174.9" class="lg" style="font-size:7.8px" textLength="21.3" lengthAdjust="spacingAndGlyphs">C-rate</text>
<rect x="392.25" y="181.00" width="5.7" height="4.7" fill="#3d9df3" stroke="#333" stroke-width="0.45"/>
<text x="400.6" y="185.80" class="lg">0.1</text>
<rect x="392.25" y="189.50" width="5.7" height="4.7" fill="#f7718c" stroke="#333" stroke-width="0.45"/>
<text x="400.6" y="194.30" class="lg">0.2</text>
<rect x="392.25" y="198.00" width="5.7" height="4.7" fill="#4bab25" stroke="#333" stroke-width="0.45"/>
<text x="400.6" y="202.80" class="lg">0.5</text>
<rect x="392.25" y="206.50" width="5.7" height="4.7" fill="#e0a31f" stroke="#333" stroke-width="0.45"/>
<text x="400.6" y="211.30" class="lg">1</text>
<rect x="392.25" y="215.00" width="5.7" height="4.7" fill="#2fa9b7" stroke="#333" stroke-width="0.45"/>
<text x="400.6" y="219.80" class="lg">2</text>
<rect x="392.25" y="223.50" width="5.7" height="4.7" fill="#b94fe3" stroke="#333" stroke-width="0.45"/>
<text x="400.6" y="228.30" class="lg">3</text>
<rect x="392.25" y="232.00" width="5.7" height="4.7" fill="#8b98ee" stroke="#333" stroke-width="0.45"/>
<text x="400.6" y="236.80" class="lg">5</text>
<path d="M38.20 292.30V514.60H337.80" fill="none" stroke="#ababab" stroke-width="1.05"/>
<path d="M38.20 292.30H337.80V514.60" fill="none" stroke="#8a8a8a" stroke-width="0.9"/>
<line x1="36.60" x2="38.20" y1="512.00" y2="512.00" stroke="#888" stroke-width="0.6"/>
<text x="35.50" y="515.85" text-anchor="end" class="tk">0</text>
<line x1="36.60" x2="38.20" y1="485.25" y2="485.25" stroke="#888" stroke-width="0.6"/>
<text x="35.50" y="489.10" text-anchor="end" class="tk">200</text>
<line x1="36.60" x2="38.20" y1="458.50" y2="458.50" stroke="#888" stroke-width="0.6"/>
<text x="35.50" y="462.35" text-anchor="end" class="tk">400</text>
<line x1="36.60" x2="38.20" y1="431.75" y2="431.75" stroke="#888" stroke-width="0.6"/>
<text x="35.50" y="435.60" text-anchor="end" class="tk">600</text>
<line x1="36.60" x2="38.20" y1="405.00" y2="405.00" stroke="#888" stroke-width="0.6"/>
<text x="35.50" y="408.85" text-anchor="end" class="tk">800</text>
<line x1="36.60" x2="38.20" y1="378.25" y2="378.25" stroke="#888" stroke-width="0.6"/>
<text x="35.50" y="382.10" text-anchor="end" class="tk">1000</text>
<line x1="36.60" x2="38.20" y1="351.50" y2="351.50" stroke="#888" stroke-width="0.6"/>
<text x="35.50" y="355.35" text-anchor="end" class="tk">1200</text>
<line x1="36.60" x2="38.20" y1="324.75" y2="324.75" stroke="#888" stroke-width="0.6"/>
<text x="35.50" y="328.60" text-anchor="end" class="tk">1400</text>
<line x1="36.60" x2="38.20" y1="298.00" y2="298.00" stroke="#888" stroke-width="0.6"/>
<text x="35.50" y="301.85" text-anchor="end" class="tk">1600</text>
<line x1="63.20" x2="63.20" y1="514.60" y2="516.20" stroke="#888" stroke-width="0.6"/>
<text x="63.20" y="525.90" text-anchor="middle" class="tk">[0-1]</text>
<line x1="113.20" x2="113.20" y1="514.60" y2="516.20" stroke="#888" stroke-width="0.6"/>
<text x="113.20" y="525.90" text-anchor="middle" class="tk">(1-2]</text>
<line x1="163.20" x2="163.20" y1="514.60" y2="516.20" stroke="#888" stroke-width="0.6"/>
<text x="163.20" y="525.90" text-anchor="middle" class="tk">(2-4]</text>
<line x1="213.20" x2="213.20" y1="514.60" y2="516.20" stroke="#888" stroke-width="0.6"/>
<text x="213.20" y="525.90" text-anchor="middle" class="tk">(4-6]</text>
<line x1="263.20" x2="263.20" y1="514.60" y2="516.20" stroke="#888" stroke-width="0.6"/>
<text x="263.20" y="525.90" text-anchor="middle" class="tk">(6-8]</text>
<line x1="313.20" x2="313.20" y1="514.60" y2="516.20" stroke="#888" stroke-width="0.6"/>
<text x="313.20" y="525.90" text-anchor="middle" class="tk">(8-10]</text>
<text x="128.60" y="537.80" textLength="118.8" lengthAdjust="spacingAndGlyphs" class="ax">Sulfur loading (mg/cm²)</text>
<text transform="translate(9.60,403.45) rotate(-90)" x="-68.6" textLength="137.2" lengthAdjust="spacingAndGlyphs" class="ax">Discharge capacity (mAh/g)</text>
<text x="6.0" y="282.8" class="lt">c</text>
<g class="po"><g fill="#3490dc"><circle cx="45.4" cy="376.0" r="0.9"/><circle cx="45.3" cy="313.4" r="0.9"/><circle cx="45.5" cy="362.3" r="0.9"/><circle cx="45.4" cy="370.0" r="0.9"/><circle cx="46.1" cy="363.3" r="0.9"/><circle cx="46.4" cy="363.5" r="0.9"/><circle cx="46.5" cy="362.6" r="0.9"/><circle cx="45.4" cy="318.3" r="0.9"/><circle cx="45.9" cy="329.2" r="0.9"/><circle cx="45.7" cy="367.9" r="0.9"/><circle cx="46.3" cy="412.5" r="0.9"/><circle cx="95.7" cy="378.7" r="0.9"/><circle cx="95.4" cy="304.8" r="0.9"/><circle cx="96.4" cy="319.7" r="0.9"/><circle cx="96.3" cy="330.5" r="0.9"/><circle cx="96.3" cy="367.5" r="0.9"/><circle cx="95.7" cy="355.6" r="0.9"/><circle cx="95.8" cy="371.4" r="0.9"/><circle cx="96.7" cy="356.1" r="0.9"/><circle cx="96.8" cy="356.7" r="0.9"/><circle cx="95.9" cy="307.2" r="0.9"/><circle cx="96.6" cy="375.7" r="0.9"/><circle cx="95.9" cy="315.4" r="0.9"/><circle cx="96.0" cy="354.0" r="0.9"/><circle cx="95.4" cy="353.8" r="0.9"/><circle cx="95.5" cy="355.1" r="0.9"/><circle cx="96.3" cy="365.0" r="0.9"/><circle cx="95.5" cy="305.1" r="0.9"/><circle cx="95.9" cy="355.0" r="0.9"/><circle cx="96.6" cy="362.8" r="0.9"/><circle cx="96.6" cy="321.0" r="0.9"/><circle cx="95.3" cy="311.1" r="0.9"/><circle cx="96.0" cy="322.3" r="0.9"/><circle cx="96.0" cy="355.3" r="0.9"/><circle cx="96.4" cy="371.3" r="0.9"/><circle cx="95.8" cy="323.8" r="0.9"/><circle cx="96.7" cy="371.1" r="0.9"/><circle cx="95.4" cy="308.1" r="0.9"/><circle cx="95.8" cy="313.9" r="0.9"/><circle cx="95.5" cy="312.7" r="0.9"/><circle cx="96.7" cy="317.9" r="0.9"/><circle cx="95.7" cy="373.2" r="0.9"/><circle cx="95.6" cy="333.3" r="0.9"/><circle cx="96.7" cy="315.3" r="0.9"/><circle cx="96.2" cy="369.8" r="0.9"/><circle cx="96.3" cy="333.3" r="0.9"/><circle cx="96.1" cy="333.1" r="0.9"/><circle cx="96.6" cy="391.8" r="0.9"/><circle cx="96.0" cy="392.4" r="0.9"/><circle cx="95.4" cy="405.0" r="0.9"/><circle cx="96.7" cy="417.0" r="0.9"/><circle cx="146.6" cy="403.8" r="0.9"/><circle cx="146.5" cy="311.4" r="0.9"/><circle cx="145.6" cy="328.0" r="0.9"/><circle cx="146.0" cy="335.4" r="0.9"/><circle cx="145.8" cy="395.4" r="0.9"/><circle cx="146.2" cy="343.2" r="0.9"/><circle cx="146.9" cy="391.3" r="0.9"/><circle cx="145.8" cy="335.3" r="0.9"/><circle cx="145.3" cy="328.6" r="0.9"/><circle cx="145.4" cy="403.0" r="0.9"/><circle cx="145.3" cy="385.6" r="0.9"/><circle cx="146.4" cy="336.4" r="0.9"/><circle cx="196.0" cy="392.6" r="0.9"/><circle cx="196.8" cy="339.5" r="0.9"/><circle cx="196.7" cy="386.1" r="0.9"/><circle cx="196.3" cy="360.5" r="0.9"/><circle cx="196.8" cy="343.2" r="0.9"/><circle cx="196.6" cy="350.2" r="0.9"/><circle cx="196.5" cy="342.0" r="0.9"/><circle cx="196.0" cy="314.5" r="0.9"/><circle cx="195.9" cy="421.2" r="0.9"/><circle cx="245.8" cy="406.2" r="0.9"/><circle cx="245.6" cy="390.7" r="0.9"/><circle cx="246.6" cy="444.1" r="0.9"/><circle cx="296.7" cy="399.2" r="0.9"/><circle cx="295.8" cy="370.9" r="0.9"/></g><g fill="#dc5a78"><circle cx="52.1" cy="384.9" r="0.9"/><circle cx="52.1" cy="320.6" r="0.9"/><circle cx="51.2" cy="375.4" r="0.9"/><circle cx="52.5" cy="341.1" r="0.9"/><circle cx="52.3" cy="334.4" r="0.9"/><circle cx="51.5" cy="376.8" r="0.9"/><circle cx="51.4" cy="384.6" r="0.9"/><circle cx="51.7" cy="345.4" r="0.9"/><circle cx="52.3" cy="329.4" r="0.9"/><circle cx="52.2" cy="346.2" r="0.9"/><circle cx="51.3" cy="373.9" r="0.9"/><circle cx="51.6" cy="374.2" r="0.9"/><circle cx="52.4" cy="374.3" r="0.9"/><circle cx="51.9" cy="339.8" r="0.9"/><circle cx="52.2" cy="384.4" r="0.9"/><circle cx="51.9" cy="374.9" r="0.9"/><circle cx="52.5" cy="338.6" r="0.9"/><circle cx="51.5" cy="334.9" r="0.9"/><circle cx="52.3" cy="302.1" r="0.9"/><circle cx="51.4" cy="426.3" r="0.9"/><circle cx="101.3" cy="402.5" r="0.9"/><circle cx="101.1" cy="311.8" r="0.9"/><circle cx="101.1" cy="326.6" r="0.9"/><circle cx="102.0" cy="315.7" r="0.9"/><circle cx="101.6" cy="387.2" r="0.9"/><circle cx="101.8" cy="370.4" r="0.9"/><circle cx="101.5" cy="337.6" r="0.9"/><circle cx="102.4" cy="312.7" r="0.9"/><circle cx="102.1" cy="383.1" r="0.9"/><circle cx="101.7" cy="337.1" r="0.9"/><circle cx="101.0" cy="371.7" r="0.9"/><circle cx="101.2" cy="373.5" r="0.9"/><circle cx="102.0" cy="326.5" r="0.9"/><circle cx="101.1" cy="327.1" r="0.9"/><circle cx="101.1" cy="401.0" r="0.9"/><circle cx="102.2" cy="369.0" r="0.9"/><circle cx="101.2" cy="327.1" r="0.9"/><circle cx="101.7" cy="326.8" r="0.9"/><circle cx="101.1" cy="377.6" r="0.9"/><circle cx="102.4" cy="339.1" r="0.9"/><circle cx="101.3" cy="371.6" r="0.9"/><circle cx="101.1" cy="393.9" r="0.9"/><circle cx="102.1" cy="398.9" r="0.9"/><circle cx="101.4" cy="336.5" r="0.9"/><circle cx="101.3" cy="312.7" r="0.9"/><circle cx="101.6" cy="390.0" r="0.9"/><circle cx="101.2" cy="312.1" r="0.9"/><circle cx="101.1" cy="329.0" r="0.9"/><circle cx="101.8" cy="370.6" r="0.9"/><circle cx="101.3" cy="380.2" r="0.9"/><circle cx="102.3" cy="369.4" r="0.9"/><circle cx="102.5" cy="340.8" r="0.9"/><circle cx="102.3" cy="340.8" r="0.9"/><circle cx="101.7" cy="379.3" r="0.9"/><circle cx="101.7" cy="341.2" r="0.9"/><circle cx="102.1" cy="329.7" r="0.9"/><circle cx="101.9" cy="411.8" r="0.9"/><circle cx="102.5" cy="423.7" r="0.9"/><circle cx="152.4" cy="426.3" r="0.9"/><circle cx="152.3" cy="327.7" r="0.9"/><circle cx="152.4" cy="336.8" r="0.9"/><circle cx="151.9" cy="406.0" r="0.9"/><circle cx="151.4" cy="410.1" r="0.9"/><circle cx="151.9" cy="340.8" r="0.9"/><circle cx="152.4" cy="421.4" r="0.9"/><circle cx="152.6" cy="305.2" r="0.9"/><circle cx="201.7" cy="437.0" r="0.9"/><circle cx="201.4" cy="336.3" r="0.9"/><circle cx="201.5" cy="425.4" r="0.9"/><circle cx="201.7" cy="367.9" r="0.9"/><circle cx="201.3" cy="354.3" r="0.9"/><circle cx="201.2" cy="411.8" r="0.9"/><circle cx="202.2" cy="362.6" r="0.9"/><circle cx="201.3" cy="433.3" r="0.9"/><circle cx="201.7" cy="326.6" r="0.9"/><circle cx="201.8" cy="330.1" r="0.9"/><circle cx="251.6" cy="421.2" r="0.9"/><circle cx="251.2" cy="395.0" r="0.9"/><circle cx="251.7" cy="337.5" r="0.9"/><circle cx="251.5" cy="338.1" r="0.9"/><circle cx="251.8" cy="451.5" r="0.9"/><circle cx="302.5" cy="404.5" r="0.9"/><circle cx="302.4" cy="393.1" r="0.9"/></g><g fill="#4aa52a"><circle cx="57.3" cy="408.7" r="0.9"/><circle cx="58.0" cy="353.1" r="0.9"/><circle cx="57.7" cy="391.6" r="0.9"/><circle cx="58.1" cy="366.0" r="0.9"/><circle cx="58.1" cy="368.3" r="0.9"/><circle cx="57.9" cy="358.1" r="0.9"/><circle cx="57.2" cy="359.9" r="0.9"/><circle cx="58.1" cy="357.9" r="0.9"/><circle cx="57.6" cy="396.9" r="0.9"/><circle cx="57.5" cy="356.3" r="0.9"/><circle cx="57.4" cy="406.9" r="0.9"/><circle cx="57.0" cy="363.6" r="0.9"/><circle cx="57.3" cy="358.6" r="0.9"/><circle cx="58.2" cy="368.6" r="0.9"/><circle cx="56.9" cy="393.0" r="0.9"/><circle cx="58.1" cy="403.0" r="0.9"/><circle cx="56.7" cy="390.2" r="0.9"/><circle cx="57.6" cy="401.6" r="0.9"/><circle cx="57.4" cy="395.4" r="0.9"/><circle cx="57.8" cy="440.7" r="0.9"/><circle cx="107.7" cy="415.0" r="0.9"/><circle cx="107.2" cy="336.8" r="0.9"/><circle cx="107.0" cy="403.5" r="0.9"/><circle cx="108.1" cy="361.9" r="0.9"/><circle cx="107.2" cy="403.9" r="0.9"/><circle cx="107.7" cy="350.1" r="0.9"/><circle cx="107.6" cy="409.6" r="0.9"/><circle cx="107.0" cy="387.4" r="0.9"/><circle cx="107.4" cy="358.6" r="0.9"/><circle cx="107.3" cy="345.1" r="0.9"/><circle cx="108.1" cy="351.6" r="0.9"/><circle cx="106.9" cy="349.9" r="0.9"/><circle cx="108.3" cy="352.3" r="0.9"/><circle cx="107.1" cy="396.9" r="0.9"/><circle cx="107.1" cy="347.9" r="0.9"/><circle cx="107.9" cy="353.7" r="0.9"/><circle cx="107.5" cy="411.8" r="0.9"/><circle cx="107.7" cy="395.0" r="0.9"/><circle cx="107.3" cy="406.1" r="0.9"/><circle cx="107.4" cy="353.5" r="0.9"/><circle cx="106.8" cy="360.3" r="0.9"/><circle cx="107.0" cy="346.8" r="0.9"/><circle cx="107.3" cy="342.1" r="0.9"/><circle cx="107.1" cy="388.7" r="0.9"/><circle cx="107.5" cy="358.3" r="0.9"/><circle cx="108.3" cy="341.2" r="0.9"/><circle cx="107.5" cy="357.3" r="0.9"/><circle cx="107.5" cy="410.8" r="0.9"/><circle cx="107.0" cy="393.4" r="0.9"/><circle cx="107.6" cy="402.0" r="0.9"/><circle cx="107.1" cy="431.8" r="0.9"/><circle cx="106.8" cy="447.5" r="0.9"/><circle cx="157.6" cy="450.7" r="0.9"/><circle cx="157.9" cy="336.4" r="0.9"/><circle cx="158.2" cy="427.1" r="0.9"/><circle cx="157.1" cy="358.8" r="0.9"/><circle cx="156.9" cy="378.6" r="0.9"/><circle cx="157.3" cy="440.3" r="0.9"/><circle cx="157.6" cy="434.1" r="0.9"/><circle cx="158.2" cy="374.4" r="0.9"/><circle cx="157.2" cy="339.6" r="0.9"/><circle cx="157.8" cy="429.0" r="0.9"/><circle cx="156.9" cy="376.1" r="0.9"/><circle cx="207.2" cy="449.9" r="0.9"/><circle cx="208.0" cy="350.7" r="0.9"/><circle cx="207.7" cy="434.8" r="0.9"/><circle cx="207.6" cy="361.7" r="0.9"/><circle cx="207.8" cy="418.5" r="0.9"/><circle cx="207.2" cy="420.4" r="0.9"/><circle cx="207.1" cy="441.1" r="0.9"/><circle cx="256.9" cy="463.0" r="0.9"/><circle cx="258.1" cy="411.7" r="0.9"/><circle cx="256.7" cy="350.8" r="0.9"/><circle cx="257.8" cy="365.4" r="0.9"/><circle cx="306.9" cy="426.9" r="0.9"/><circle cx="308.0" cy="419.3" r="0.9"/></g><g fill="#d09a1c"><circle cx="62.7" cy="422.5" r="0.9"/><circle cx="62.4" cy="365.0" r="0.9"/><circle cx="63.8" cy="381.1" r="0.9"/><circle cx="63.9" cy="416.4" r="0.9"/><circle cx="63.2" cy="383.2" r="0.9"/><circle cx="63.9" cy="365.2" r="0.9"/><circle cx="63.4" cy="408.6" r="0.9"/><circle cx="63.1" cy="412.4" r="0.9"/><circle cx="62.8" cy="421.4" r="0.9"/><circle cx="62.8" cy="377.0" r="0.9"/><circle cx="63.1" cy="383.6" r="0.9"/><circle cx="63.2" cy="377.2" r="0.9"/><circle cx="63.1" cy="369.0" r="0.9"/><circle cx="62.4" cy="455.7" r="0.9"/><circle cx="112.8" cy="438.0" r="0.9"/><circle cx="113.6" cy="348.7" r="0.9"/><circle cx="113.7" cy="370.4" r="0.9"/><circle cx="112.8" cy="421.3" r="0.9"/><circle cx="112.7" cy="370.6" r="0.9"/><circle cx="113.2" cy="427.3" r="0.9"/><circle cx="113.6" cy="406.8" r="0.9"/><circle cx="113.8" cy="361.2" r="0.9"/><circle cx="113.0" cy="420.8" r="0.9"/><circle cx="113.2" cy="409.0" r="0.9"/><circle cx="112.6" cy="356.0" r="0.9"/><circle cx="113.2" cy="349.9" r="0.9"/><circle cx="113.3" cy="374.3" r="0.9"/><circle cx="112.7" cy="366.4" r="0.9"/><circle cx="113.1" cy="432.2" r="0.9"/><circle cx="112.8" cy="373.8" r="0.9"/><circle cx="113.7" cy="371.1" r="0.9"/><circle cx="113.3" cy="409.8" r="0.9"/><circle cx="113.4" cy="404.3" r="0.9"/><circle cx="112.6" cy="408.6" r="0.9"/><circle cx="112.9" cy="354.1" r="0.9"/><circle cx="113.8" cy="368.6" r="0.9"/><circle cx="113.7" cy="372.4" r="0.9"/><circle cx="113.5" cy="356.5" r="0.9"/><circle cx="113.1" cy="434.0" r="0.9"/><circle cx="113.9" cy="374.8" r="0.9"/><circle cx="112.6" cy="368.2" r="0.9"/><circle cx="113.1" cy="435.7" r="0.9"/><circle cx="113.2" cy="454.0" r="0.9"/><circle cx="162.8" cy="487.5" r="0.9"/><circle cx="162.8" cy="347.2" r="0.9"/><circle cx="163.3" cy="374.8" r="0.9"/><circle cx="162.6" cy="471.7" r="0.9"/><circle cx="163.8" cy="385.2" r="0.9"/><circle cx="163.8" cy="359.1" r="0.9"/><circle cx="162.8" cy="429.2" r="0.9"/><circle cx="163.5" cy="358.2" r="0.9"/><circle cx="163.5" cy="467.3" r="0.9"/><circle cx="162.6" cy="368.8" r="0.9"/><circle cx="163.6" cy="348.2" r="0.9"/><circle cx="162.9" cy="382.3" r="0.9"/><circle cx="162.9" cy="372.0" r="0.9"/><circle cx="213.3" cy="462.0" r="0.9"/><circle cx="213.0" cy="384.7" r="0.9"/><circle cx="213.6" cy="442.3" r="0.9"/><circle cx="212.9" cy="393.0" r="0.9"/><circle cx="213.7" cy="450.4" r="0.9"/><circle cx="212.5" cy="405.0" r="0.9"/><circle cx="213.6" cy="410.5" r="0.9"/><circle cx="212.7" cy="410.4" r="0.9"/><circle cx="213.2" cy="373.2" r="0.9"/><circle cx="263.1" cy="437.8" r="0.9"/><circle cx="264.0" cy="409.3" r="0.9"/><circle cx="262.6" cy="365.8" r="0.9"/><circle cx="262.6" cy="478.0" r="0.9"/><circle cx="312.6" cy="444.5" r="0.9"/><circle cx="313.9" cy="435.0" r="0.9"/></g><g fill="#2a9cab"><circle cx="68.9" cy="442.0" r="0.9"/><circle cx="69.1" cy="373.6" r="0.9"/><circle cx="68.5" cy="430.1" r="0.9"/><circle cx="68.4" cy="396.9" r="0.9"/><circle cx="68.6" cy="376.5" r="0.9"/><circle cx="68.4" cy="440.2" r="0.9"/><circle cx="68.3" cy="435.5" r="0.9"/><circle cx="68.6" cy="490.7" r="0.9"/><circle cx="118.9" cy="447.0" r="0.9"/><circle cx="118.3" cy="368.8" r="0.9"/><circle cx="118.6" cy="418.4" r="0.9"/><circle cx="119.3" cy="387.8" r="0.9"/><circle cx="119.3" cy="417.6" r="0.9"/><circle cx="119.2" cy="393.2" r="0.9"/><circle cx="118.1" cy="391.4" r="0.9"/><circle cx="118.8" cy="436.2" r="0.9"/><circle cx="119.1" cy="436.7" r="0.9"/><circle cx="118.3" cy="428.5" r="0.9"/><circle cx="118.6" cy="427.7" r="0.9"/><circle cx="119.4" cy="373.6" r="0.9"/><circle cx="118.3" cy="419.0" r="0.9"/><circle cx="119.3" cy="419.0" r="0.9"/><circle cx="118.2" cy="425.6" r="0.9"/><circle cx="119.3" cy="378.7" r="0.9"/><circle cx="118.7" cy="418.4" r="0.9"/><circle cx="118.4" cy="420.9" r="0.9"/><circle cx="118.7" cy="433.2" r="0.9"/><circle cx="118.9" cy="368.9" r="0.9"/><circle cx="118.8" cy="415.7" r="0.9"/><circle cx="118.3" cy="387.3" r="0.9"/><circle cx="119.0" cy="387.7" r="0.9"/><circle cx="119.7" cy="384.8" r="0.9"/><circle cx="118.8" cy="375.0" r="0.9"/><circle cx="119.3" cy="421.9" r="0.9"/><circle cx="118.6" cy="369.6" r="0.9"/><circle cx="118.3" cy="430.5" r="0.9"/><circle cx="118.8" cy="357.7" r="0.9"/><circle cx="119.5" cy="460.2" r="0.9"/><circle cx="168.8" cy="450.5" r="0.9"/><circle cx="168.8" cy="368.0" r="0.9"/><circle cx="168.2" cy="392.8" r="0.9"/><circle cx="168.7" cy="401.4" r="0.9"/><circle cx="168.5" cy="437.3" r="0.9"/><circle cx="169.4" cy="401.3" r="0.9"/><circle cx="169.3" cy="444.6" r="0.9"/><circle cx="169.4" cy="442.8" r="0.9"/><circle cx="169.0" cy="436.0" r="0.9"/><circle cx="168.3" cy="482.4" r="0.9"/><circle cx="218.4" cy="460.0" r="0.9"/><circle cx="219.0" cy="385.6" r="0.9"/><circle cx="269.1" cy="451.5" r="0.9"/><circle cx="269.5" cy="374.4" r="0.9"/><circle cx="319.4" cy="471.2" r="0.9"/></g><g fill="#ab45d4"><circle cx="74.4" cy="427.5" r="0.9"/><circle cx="74.5" cy="405.0" r="0.9"/><circle cx="74.5" cy="408.1" r="0.9"/><circle cx="74.1" cy="408.2" r="0.9"/><circle cx="75.2" cy="425.0" r="0.9"/><circle cx="74.7" cy="423.3" r="0.9"/><circle cx="73.8" cy="425.6" r="0.9"/><circle cx="75.2" cy="408.5" r="0.9"/><circle cx="75.0" cy="380.7" r="0.9"/><circle cx="74.4" cy="445.8" r="0.9"/><circle cx="125.0" cy="460.8" r="0.9"/><circle cx="124.4" cy="367.0" r="0.9"/><circle cx="124.5" cy="437.4" r="0.9"/><circle cx="125.3" cy="398.4" r="0.9"/><circle cx="124.3" cy="440.0" r="0.9"/><circle cx="125.3" cy="399.4" r="0.9"/><circle cx="125.3" cy="437.5" r="0.9"/><circle cx="124.2" cy="397.7" r="0.9"/><circle cx="124.8" cy="457.0" r="0.9"/><circle cx="124.2" cy="433.5" r="0.9"/><circle cx="124.7" cy="431.7" r="0.9"/><circle cx="124.0" cy="429.5" r="0.9"/><circle cx="125.2" cy="440.0" r="0.9"/><circle cx="124.1" cy="452.1" r="0.9"/><circle cx="124.8" cy="453.0" r="0.9"/><circle cx="124.1" cy="448.6" r="0.9"/><circle cx="124.6" cy="458.0" r="0.9"/><circle cx="124.0" cy="402.1" r="0.9"/><circle cx="124.9" cy="446.6" r="0.9"/><circle cx="124.9" cy="437.3" r="0.9"/><circle cx="125.4" cy="391.3" r="0.9"/><circle cx="124.5" cy="429.8" r="0.9"/><circle cx="174.2" cy="399.2" r="0.9"/><circle cx="174.3" cy="390.3" r="0.9"/><circle cx="225.0" cy="487.0" r="0.9"/><circle cx="224.0" cy="398.7" r="0.9"/></g><g fill="#7a86d6"><circle cx="81.1" cy="469.5" r="0.9"/><circle cx="80.4" cy="389.9" r="0.9"/><circle cx="80.8" cy="423.5" r="0.9"/><circle cx="80.1" cy="409.9" r="0.9"/><circle cx="80.3" cy="504.5" r="0.9"/><circle cx="130.7" cy="451.9" r="0.9"/><circle cx="130.5" cy="395.4" r="0.9"/><circle cx="130.1" cy="396.3" r="0.9"/><circle cx="131.1" cy="395.6" r="0.9"/><circle cx="129.7" cy="444.3" r="0.9"/><circle cx="129.6" cy="398.6" r="0.9"/><circle cx="130.4" cy="399.4" r="0.9"/><circle cx="129.8" cy="439.9" r="0.9"/><circle cx="130.4" cy="435.3" r="0.9"/><circle cx="130.0" cy="432.8" r="0.9"/><circle cx="129.8" cy="409.6" r="0.9"/><circle cx="130.7" cy="410.0" r="0.9"/><circle cx="130.8" cy="437.1" r="0.9"/><circle cx="130.5" cy="408.9" r="0.9"/><circle cx="131.0" cy="450.7" r="0.9"/><circle cx="130.8" cy="434.0" r="0.9"/><circle cx="130.4" cy="432.3" r="0.9"/><circle cx="130.1" cy="384.5" r="0.9"/><circle cx="131.0" cy="470.5" r="0.9"/><circle cx="130.1" cy="473.2" r="0.9"/><circle cx="129.7" cy="475.0" r="0.9"/><circle cx="181.0" cy="460.0" r="0.9"/><circle cx="180.3" cy="408.7" r="0.9"/><circle cx="231.0" cy="466.8" r="0.9"/><circle cx="230.0" cy="412.0" r="0.9"/></g></g>
<g><rect x="43.35" y="332.11" width="5.41" height="29.16" fill="#5ca5dd" class="b"/><path d="M46.06 332.11V313.38M44.63 313.38H47.49" class="w"/><path d="M46.06 361.26V375.98M44.63 375.98H47.49" class="w"/><path d="M43.35 344.95H48.76" class="m"/><rect x="49.06" y="346.42" width="5.41" height="27.15" fill="#ef8da2" class="b"/><path d="M51.77 346.42V320.60M50.34 320.60H53.20" class="w"/><path d="M51.77 373.57V384.94M50.34 384.94H53.20" class="w"/><path d="M49.06 358.19H54.48" class="m"/><rect x="54.78" y="370.09" width="5.41" height="19.80" fill="#69ae56" class="b"/><path d="M57.49 370.09V353.11M56.06 353.11H58.91" class="w"/><path d="M57.49 389.89V408.75M56.06 408.75H58.91" class="w"/><path d="M54.78 379.59H60.19" class="m"/><rect x="60.49" y="384.94" width="5.41" height="21.27" fill="#d6a94a" class="b"/><path d="M63.20 384.94V365.01M61.77 365.01H64.63" class="w"/><path d="M63.20 406.20V422.52M61.77 422.52H64.63" class="w"/><path d="M60.49 394.97H65.91" class="m"/><rect x="66.21" y="398.85" width="5.41" height="21.67" fill="#58a9b4" class="b"/><path d="M68.91 398.85V373.57M67.49 373.57H70.34" class="w"/><path d="M68.91 420.51V442.05M67.49 442.05H70.34" class="w"/><path d="M66.21 408.75H71.62" class="m"/><rect x="71.92" y="409.55" width="5.41" height="13.51" fill="#bb74d6" class="b"/><path d="M74.63 409.55V405.00M73.20 405.00H76.06" class="w"/><path d="M74.63 423.06V427.47M73.20 427.47H76.06" class="w"/><path d="M71.92 415.97H77.34" class="m"/><rect x="77.64" y="425.06" width="5.41" height="27.95" fill="#a6b0e4" class="b"/><path d="M80.34 425.06V389.89M78.91 389.89H81.77" class="w"/><path d="M80.34 453.02V469.47M78.91 469.47H81.77" class="w"/><path d="M77.64 432.55H83.05" class="m"/><rect x="93.35" y="333.85" width="5.41" height="19.93" fill="#5ca5dd" class="b"/><path d="M96.06 333.85V304.82M94.63 304.82H97.49" class="w"/><path d="M96.06 353.77V378.65M94.63 378.65H97.49" class="w"/><path d="M93.35 344.95H98.76" class="m"/><rect x="99.06" y="344.14" width="5.41" height="24.88" fill="#ef8da2" class="b"/><path d="M101.77 344.14V311.78M100.34 311.78H103.20" class="w"/><path d="M101.77 369.02V402.46M100.34 402.46H103.20" class="w"/><path d="M99.06 356.18H104.48" class="m"/><rect x="104.78" y="362.74" width="5.41" height="24.48" fill="#69ae56" class="b"/><path d="M107.49 362.74V336.79M106.06 336.79H108.91" class="w"/><path d="M107.49 387.21V415.03M106.06 415.03H108.91" class="w"/><path d="M104.78 375.57H110.19" class="m"/><rect x="110.49" y="375.98" width="5.41" height="27.82" fill="#d6a94a" class="b"/><path d="M113.20 375.98V348.69M111.77 348.69H114.63" class="w"/><path d="M113.20 403.80V438.04M111.77 438.04H114.63" class="w"/><path d="M110.49 390.29H115.91" class="m"/><rect x="116.21" y="393.23" width="5.41" height="22.34" fill="#58a9b4" class="b"/><path d="M118.91 393.23V368.75M117.49 368.75H120.34" class="w"/><path d="M118.91 415.57V447.00M117.49 447.00H120.34" class="w"/><path d="M116.21 405.00H121.62" class="m"/><rect x="121.92" y="402.99" width="5.41" height="25.81" fill="#bb74d6" class="b"/><path d="M124.63 402.99V367.01M123.20 367.01H126.06" class="w"/><path d="M124.63 428.81V460.77M123.20 460.77H126.06" class="w"/><path d="M121.92 418.38H127.34" class="m"/><rect x="127.64" y="412.49" width="5.41" height="19.26" fill="#a6b0e4" class="b"/><path d="M130.34 412.49V395.37M128.91 395.37H131.77" class="w"/><path d="M130.34 431.75V451.95M128.91 451.95H131.77" class="w"/><path d="M127.64 422.52H133.05" class="m"/><rect x="143.35" y="344.41" width="5.41" height="40.93" fill="#5ca5dd" class="b"/><path d="M146.06 344.41V311.38M144.63 311.38H147.49" class="w"/><path d="M146.06 385.34V403.80M144.63 403.80H147.49" class="w"/><path d="M143.35 364.88H148.76" class="m"/><rect x="149.06" y="364.34" width="5.41" height="36.11" fill="#ef8da2" class="b"/><path d="M151.77 364.34V327.69M150.34 327.69H153.20" class="w"/><path d="M151.77 400.45V426.27M150.34 426.27H153.20" class="w"/><path d="M149.06 379.59H154.48" class="m"/><rect x="154.78" y="378.65" width="5.41" height="38.79" fill="#69ae56" class="b"/><path d="M157.49 378.65V336.39M156.06 336.39H158.91" class="w"/><path d="M157.49 417.44V450.74M156.06 450.74H158.91" class="w"/><path d="M154.78 398.31H160.19" class="m"/><rect x="160.49" y="388.82" width="5.41" height="40.39" fill="#d6a94a" class="b"/><path d="M163.20 388.82V347.22M161.77 347.22H164.63" class="w"/><path d="M163.20 429.21V487.52M161.77 487.52H164.63" class="w"/><path d="M160.49 409.55H165.91" class="m"/><rect x="166.21" y="403.26" width="5.41" height="31.03" fill="#58a9b4" class="b"/><path d="M168.91 403.26V367.95M167.49 367.95H170.34" class="w"/><path d="M168.91 434.29V450.48M167.49 450.48H170.34" class="w"/><path d="M166.21 415.03H171.62" class="m"/><rect x="171.92" y="392.03" width="5.41" height="4.41" fill="#bb74d6" class="b"/><path d="M174.63 392.03V390.29M173.20 390.29H176.06" class="w"/><path d="M174.63 396.44V399.25M173.20 399.25H176.06" class="w"/><path d="M171.92 394.03H177.34" class="m"/><rect x="177.64" y="410.22" width="5.41" height="48.02" fill="#a6b0e4" class="b"/><path d="M180.34 410.22V408.75M178.91 408.75H181.77" class="w"/><path d="M180.34 458.23V459.97M178.91 459.97H181.77" class="w"/><path d="M177.64 424.26H183.05" class="m"/><rect x="193.35" y="361.66" width="5.41" height="21.27" fill="#5ca5dd" class="b"/><path d="M196.06 361.66V339.46M194.63 339.46H197.49" class="w"/><path d="M196.06 382.93V392.56M194.63 392.56H197.49" class="w"/><path d="M193.35 374.24H198.76" class="m"/><rect x="199.06" y="371.03" width="5.41" height="27.28" fill="#ef8da2" class="b"/><path d="M201.77 371.03V336.25M200.34 336.25H203.20" class="w"/><path d="M201.77 398.31V436.97M200.34 436.97H203.20" class="w"/><path d="M199.06 389.49H204.48" class="m"/><rect x="204.78" y="391.22" width="5.41" height="27.02" fill="#69ae56" class="b"/><path d="M207.49 391.22V350.70M206.06 350.70H208.91" class="w"/><path d="M207.49 418.24V449.94M206.06 449.94H208.91" class="w"/><path d="M204.78 406.20H210.19" class="m"/><rect x="210.49" y="410.48" width="5.41" height="24.48" fill="#d6a94a" class="b"/><path d="M213.20 410.48V384.67M211.77 384.67H214.63" class="w"/><path d="M213.20 434.96V461.98M211.77 461.98H214.63" class="w"/><path d="M210.49 421.99H215.91" class="m"/><rect x="216.21" y="402.06" width="5.41" height="46.68" fill="#58a9b4" class="b"/><path d="M218.91 402.06V385.61M217.49 385.61H220.34" class="w"/><path d="M218.91 448.74V459.97M217.49 459.97H220.34" class="w"/><path d="M216.21 440.71H221.62" class="m"/><rect x="221.92" y="421.18" width="5.41" height="43.87" fill="#bb74d6" class="b"/><path d="M224.63 421.18V398.71M223.20 398.71H226.06" class="w"/><path d="M224.63 465.05V486.99M223.20 486.99H226.06" class="w"/><path d="M221.92 443.25H227.34" class="m"/><rect x="227.64" y="436.30" width="5.41" height="27.42" fill="#a6b0e4" class="b"/><path d="M230.34 436.30V411.95M228.91 411.95H231.77" class="w"/><path d="M230.34 463.72V466.79M228.91 466.79H231.77" class="w"/><path d="M227.64 459.44H233.05" class="m"/><rect x="243.35" y="392.03" width="5.41" height="11.77" fill="#5ca5dd" class="b"/><path d="M246.06 392.03V390.69M244.63 390.69H247.49" class="w"/><path d="M246.06 403.80V406.20M244.63 406.20H247.49" class="w"/><path d="M243.35 394.30H248.76" class="m"/><rect x="249.06" y="395.50" width="5.41" height="14.98" fill="#ef8da2" class="b"/><path d="M251.77 395.50V394.97M250.34 394.97H253.20" class="w"/><path d="M251.77 410.48V421.18M250.34 421.18H253.20" class="w"/><path d="M249.06 401.25H254.48" class="m"/><rect x="254.78" y="411.69" width="5.41" height="20.87" fill="#69ae56" class="b"/><path d="M257.49 432.55V463.05M256.06 463.05H258.91" class="w"/><path d="M254.78 421.18H260.19" class="m"/><rect x="260.49" y="411.69" width="5.41" height="25.28" fill="#d6a94a" class="b"/><path d="M263.20 411.69V409.28M261.77 409.28H264.63" class="w"/><path d="M263.20 436.97V437.77M261.77 437.77H264.63" class="w"/><path d="M260.49 428.27H265.91" class="m"/><rect x="266.21" y="393.76" width="5.41" height="38.25" fill="#58a9b4" class="b"/><path d="M268.91 393.76V374.37M267.49 374.37H270.34" class="w"/><path d="M268.91 432.02V451.55M267.49 451.55H270.34" class="w"/><path d="M266.21 413.02H271.62" class="m"/><rect x="293.35" y="377.98" width="5.41" height="14.18" fill="#5ca5dd" class="b"/><path d="M296.06 377.98V370.89M294.63 370.89H297.49" class="w"/><path d="M296.06 392.16V399.25M294.63 399.25H297.49" class="w"/><path d="M293.35 385.07H298.76" class="m"/><rect x="299.06" y="396.17" width="5.41" height="5.35" fill="#ef8da2" class="b"/><path d="M301.77 396.17V393.10M300.34 393.10H303.20" class="w"/><path d="M301.77 401.52V404.46M300.34 404.46H303.20" class="w"/><path d="M299.06 398.98H304.48" class="m"/><rect x="304.78" y="421.18" width="5.41" height="4.01" fill="#69ae56" class="b"/><path d="M307.49 421.18V419.31M306.06 419.31H308.91" class="w"/><path d="M307.49 425.20V426.94M306.06 426.94H308.91" class="w"/><path d="M304.78 423.19H310.19" class="m"/><rect x="310.49" y="437.50" width="5.41" height="4.95" fill="#d6a94a" class="b"/><path d="M313.20 437.50V434.96M311.77 434.96H314.63" class="w"/><path d="M313.20 442.45V444.46M311.77 444.46H314.63" class="w"/><path d="M310.49 440.04H315.91" class="m"/><path d="M316.21 471.21H321.62" class="m"/></g>
<g class="pi"><g fill="#3490dc"><circle cx="46.1" cy="337.7" r="0.9"/><circle cx="46.7" cy="343.6" r="0.9"/><circle cx="46.7" cy="341.9" r="0.9"/><circle cx="46.0" cy="354.4" r="0.9"/><circle cx="45.6" cy="335.6" r="0.9"/><circle cx="46.1" cy="336.1" r="0.9"/><circle cx="45.8" cy="333.4" r="0.9"/><circle cx="46.1" cy="341.6" r="0.9"/><circle cx="45.4" cy="332.6" r="0.9"/><circle cx="46.0" cy="349.5" r="0.9"/><circle cx="96.7" cy="345.9" r="0.9"/><circle cx="96.0" cy="349.1" r="0.9"/><circle cx="95.7" cy="350.8" r="0.9"/><circle cx="96.4" cy="348.4" r="0.9"/><circle cx="95.4" cy="350.4" r="0.9"/><circle cx="96.0" cy="345.7" r="0.9"/><circle cx="96.4" cy="341.9" r="0.9"/><circle cx="95.6" cy="346.5" r="0.9"/><circle cx="96.9" cy="337.0" r="0.9"/><circle cx="96.2" cy="334.7" r="0.9"/><circle cx="96.5" cy="352.1" r="0.9"/><circle cx="96.0" cy="335.4" r="0.9"/><circle cx="96.6" cy="353.0" r="0.9"/><circle cx="96.8" cy="334.1" r="0.9"/><circle cx="96.5" cy="338.0" r="0.9"/><circle cx="95.3" cy="334.2" r="0.9"/><circle cx="96.8" cy="345.1" r="0.9"/><circle cx="96.1" cy="350.3" r="0.9"/><circle cx="96.4" cy="351.7" r="0.9"/><circle cx="96.3" cy="343.0" r="0.9"/><circle cx="95.7" cy="347.3" r="0.9"/><circle cx="95.3" cy="344.6" r="0.9"/><circle cx="96.0" cy="346.8" r="0.9"/><circle cx="95.4" cy="339.9" r="0.9"/><circle cx="96.7" cy="350.3" r="0.9"/><circle cx="96.4" cy="347.7" r="0.9"/><circle cx="95.6" cy="347.9" r="0.9"/><circle cx="95.5" cy="336.9" r="0.9"/><circle cx="96.6" cy="345.3" r="0.9"/><circle cx="95.6" cy="341.4" r="0.9"/><circle cx="96.1" cy="351.4" r="0.9"/><circle cx="96.0" cy="347.1" r="0.9"/><circle cx="96.5" cy="348.4" r="0.9"/><circle cx="96.7" cy="351.3" r="0.9"/><circle cx="96.8" cy="334.9" r="0.9"/><circle cx="96.5" cy="340.2" r="0.9"/><circle cx="146.2" cy="370.9" r="0.9"/><circle cx="145.7" cy="345.7" r="0.9"/><circle cx="145.9" cy="369.8" r="0.9"/><circle cx="146.3" cy="383.1" r="0.9"/><circle cx="146.1" cy="348.3" r="0.9"/><circle cx="145.6" cy="365.9" r="0.9"/><circle cx="145.9" cy="385.0" r="0.9"/><circle cx="146.6" cy="376.9" r="0.9"/><circle cx="195.5" cy="380.7" r="0.9"/><circle cx="196.7" cy="374.3" r="0.9"/><circle cx="195.9" cy="379.6" r="0.9"/><circle cx="195.3" cy="381.9" r="0.9"/><circle cx="196.6" cy="364.9" r="0.9"/><circle cx="195.9" cy="378.5" r="0.9"/><circle cx="196.6" cy="379.1" r="0.9"/><circle cx="195.6" cy="375.0" r="0.9"/><circle cx="245.9" cy="393.7" r="0.9"/><circle cx="246.7" cy="392.1" r="0.9"/><circle cx="245.3" cy="400.7" r="0.9"/><circle cx="295.9" cy="381.7" r="0.9"/></g><g fill="#dc5a78"><circle cx="51.3" cy="362.6" r="0.9"/><circle cx="51.1" cy="359.3" r="0.9"/><circle cx="51.4" cy="354.9" r="0.9"/><circle cx="52.6" cy="364.0" r="0.9"/><circle cx="51.2" cy="372.5" r="0.9"/><circle cx="51.5" cy="372.3" r="0.9"/><circle cx="51.2" cy="372.1" r="0.9"/><circle cx="51.5" cy="361.8" r="0.9"/><circle cx="52.3" cy="348.4" r="0.9"/><circle cx="51.0" cy="371.7" r="0.9"/><circle cx="52.4" cy="347.7" r="0.9"/><circle cx="52.3" cy="366.4" r="0.9"/><circle cx="101.5" cy="353.4" r="0.9"/><circle cx="101.1" cy="358.5" r="0.9"/><circle cx="101.5" cy="351.3" r="0.9"/><circle cx="102.5" cy="362.7" r="0.9"/><circle cx="101.4" cy="364.3" r="0.9"/><circle cx="101.2" cy="347.0" r="0.9"/><circle cx="101.5" cy="354.2" r="0.9"/><circle cx="101.2" cy="352.4" r="0.9"/><circle cx="102.3" cy="349.4" r="0.9"/><circle cx="101.2" cy="356.8" r="0.9"/><circle cx="102.0" cy="349.6" r="0.9"/><circle cx="101.8" cy="361.3" r="0.9"/><circle cx="101.5" cy="356.6" r="0.9"/><circle cx="102.1" cy="353.7" r="0.9"/><circle cx="101.8" cy="354.8" r="0.9"/><circle cx="102.0" cy="345.0" r="0.9"/><circle cx="102.0" cy="356.2" r="0.9"/><circle cx="101.0" cy="356.1" r="0.9"/><circle cx="101.3" cy="357.4" r="0.9"/><circle cx="101.6" cy="346.3" r="0.9"/><circle cx="102.6" cy="357.7" r="0.9"/><circle cx="101.5" cy="352.3" r="0.9"/><circle cx="102.0" cy="355.4" r="0.9"/><circle cx="102.1" cy="367.1" r="0.9"/><circle cx="101.7" cy="360.5" r="0.9"/><circle cx="101.8" cy="354.2" r="0.9"/><circle cx="102.6" cy="349.5" r="0.9"/><circle cx="102.4" cy="357.5" r="0.9"/><circle cx="101.1" cy="367.2" r="0.9"/><circle cx="101.8" cy="346.5" r="0.9"/><circle cx="102.0" cy="349.4" r="0.9"/><circle cx="101.8" cy="362.0" r="0.9"/><circle cx="101.4" cy="366.0" r="0.9"/><circle cx="101.2" cy="364.7" r="0.9"/><circle cx="101.2" cy="346.1" r="0.9"/><circle cx="102.1" cy="362.6" r="0.9"/><circle cx="151.4" cy="370.7" r="0.9"/><circle cx="151.6" cy="387.5" r="0.9"/><circle cx="152.2" cy="390.2" r="0.9"/><circle cx="152.0" cy="398.3" r="0.9"/><circle cx="151.5" cy="367.4" r="0.9"/><circle cx="151.8" cy="377.8" r="0.9"/><circle cx="152.5" cy="366.3" r="0.9"/><circle cx="151.9" cy="375.4" r="0.9"/><circle cx="201.8" cy="387.8" r="0.9"/><circle cx="202.5" cy="394.7" r="0.9"/><circle cx="201.9" cy="373.1" r="0.9"/><circle cx="201.1" cy="397.4" r="0.9"/><circle cx="201.5" cy="381.2" r="0.9"/><circle cx="202.4" cy="394.6" r="0.9"/><circle cx="202.2" cy="379.5" r="0.9"/><circle cx="251.3" cy="410.4" r="0.9"/><circle cx="251.4" cy="399.7" r="0.9"/><circle cx="251.9" cy="409.4" r="0.9"/><circle cx="301.3" cy="398.0" r="0.9"/></g><g fill="#4aa52a"><circle cx="58.2" cy="386.0" r="0.9"/><circle cx="57.2" cy="386.0" r="0.9"/><circle cx="57.4" cy="371.2" r="0.9"/><circle cx="57.6" cy="383.1" r="0.9"/><circle cx="56.9" cy="381.2" r="0.9"/><circle cx="58.0" cy="381.4" r="0.9"/><circle cx="57.5" cy="381.2" r="0.9"/><circle cx="58.1" cy="373.2" r="0.9"/><circle cx="57.8" cy="379.1" r="0.9"/><circle cx="57.3" cy="386.4" r="0.9"/><circle cx="57.8" cy="387.3" r="0.9"/><circle cx="108.1" cy="386.6" r="0.9"/><circle cx="107.1" cy="366.3" r="0.9"/><circle cx="107.6" cy="379.1" r="0.9"/><circle cx="107.6" cy="378.9" r="0.9"/><circle cx="107.2" cy="375.8" r="0.9"/><circle cx="106.7" cy="387.2" r="0.9"/><circle cx="107.5" cy="374.1" r="0.9"/><circle cx="106.9" cy="379.4" r="0.9"/><circle cx="107.2" cy="377.0" r="0.9"/><circle cx="108.1" cy="383.3" r="0.9"/><circle cx="107.1" cy="381.3" r="0.9"/><circle cx="107.6" cy="372.7" r="0.9"/><circle cx="107.3" cy="381.4" r="0.9"/><circle cx="106.7" cy="370.2" r="0.9"/><circle cx="108.0" cy="373.2" r="0.9"/><circle cx="108.0" cy="372.0" r="0.9"/><circle cx="108.3" cy="370.8" r="0.9"/><circle cx="106.8" cy="382.5" r="0.9"/><circle cx="107.3" cy="365.1" r="0.9"/><circle cx="107.1" cy="378.7" r="0.9"/><circle cx="107.9" cy="383.6" r="0.9"/><circle cx="108.0" cy="378.4" r="0.9"/><circle cx="107.6" cy="372.9" r="0.9"/><circle cx="108.0" cy="366.9" r="0.9"/><circle cx="106.9" cy="366.7" r="0.9"/><circle cx="107.1" cy="386.5" r="0.9"/><circle cx="107.9" cy="386.8" r="0.9"/><circle cx="108.3" cy="363.2" r="0.9"/><circle cx="107.4" cy="385.9" r="0.9"/><circle cx="106.7" cy="382.9" r="0.9"/><circle cx="106.8" cy="381.5" r="0.9"/><circle cx="106.8" cy="364.1" r="0.9"/><circle cx="107.4" cy="382.3" r="0.9"/><circle cx="107.5" cy="375.9" r="0.9"/><circle cx="107.8" cy="376.5" r="0.9"/><circle cx="107.0" cy="385.0" r="0.9"/><circle cx="107.3" cy="382.6" r="0.9"/><circle cx="108.1" cy="372.3" r="0.9"/><circle cx="108.1" cy="387.1" r="0.9"/><circle cx="107.3" cy="378.4" r="0.9"/><circle cx="107.2" cy="379.3" r="0.9"/><circle cx="107.7" cy="373.2" r="0.9"/><circle cx="156.7" cy="384.0" r="0.9"/><circle cx="157.5" cy="405.3" r="0.9"/><circle cx="158.2" cy="384.5" r="0.9"/><circle cx="158.0" cy="400.7" r="0.9"/><circle cx="156.8" cy="413.1" r="0.9"/><circle cx="157.2" cy="387.9" r="0.9"/><circle cx="156.9" cy="391.9" r="0.9"/><circle cx="156.9" cy="379.5" r="0.9"/><circle cx="157.6" cy="410.8" r="0.9"/><circle cx="207.6" cy="405.6" r="0.9"/><circle cx="207.3" cy="400.5" r="0.9"/><circle cx="207.0" cy="417.4" r="0.9"/><circle cx="208.2" cy="396.4" r="0.9"/><circle cx="207.5" cy="417.8" r="0.9"/><circle cx="207.7" cy="396.8" r="0.9"/><circle cx="206.8" cy="412.9" r="0.9"/><circle cx="208.0" cy="409.6" r="0.9"/><circle cx="257.7" cy="414.3" r="0.9"/><circle cx="256.8" cy="422.1" r="0.9"/><circle cx="258.2" cy="415.8" r="0.9"/><circle cx="258.1" cy="428.8" r="0.9"/><circle cx="307.9" cy="421.3" r="0.9"/></g><g fill="#d09a1c"><circle cx="63.2" cy="405.2" r="0.9"/><circle cx="63.8" cy="386.7" r="0.9"/><circle cx="63.3" cy="401.9" r="0.9"/><circle cx="62.6" cy="385.6" r="0.9"/><circle cx="63.7" cy="398.0" r="0.9"/><circle cx="63.4" cy="388.3" r="0.9"/><circle cx="62.5" cy="395.8" r="0.9"/><circle cx="113.5" cy="385.6" r="0.9"/><circle cx="113.0" cy="392.4" r="0.9"/><circle cx="112.8" cy="398.2" r="0.9"/><circle cx="113.9" cy="401.6" r="0.9"/><circle cx="113.0" cy="380.8" r="0.9"/><circle cx="113.2" cy="398.3" r="0.9"/><circle cx="112.4" cy="392.6" r="0.9"/><circle cx="113.6" cy="393.9" r="0.9"/><circle cx="113.0" cy="383.2" r="0.9"/><circle cx="112.7" cy="401.1" r="0.9"/><circle cx="113.6" cy="386.6" r="0.9"/><circle cx="113.5" cy="388.3" r="0.9"/><circle cx="113.0" cy="387.8" r="0.9"/><circle cx="113.2" cy="385.8" r="0.9"/><circle cx="112.6" cy="388.4" r="0.9"/><circle cx="113.9" cy="395.5" r="0.9"/><circle cx="113.2" cy="382.5" r="0.9"/><circle cx="113.7" cy="379.1" r="0.9"/><circle cx="112.7" cy="387.1" r="0.9"/><circle cx="113.6" cy="392.6" r="0.9"/><circle cx="113.0" cy="379.5" r="0.9"/><circle cx="113.7" cy="397.7" r="0.9"/><circle cx="112.8" cy="388.8" r="0.9"/><circle cx="113.4" cy="389.8" r="0.9"/><circle cx="113.0" cy="386.5" r="0.9"/><circle cx="112.4" cy="392.6" r="0.9"/><circle cx="113.7" cy="382.7" r="0.9"/><circle cx="113.4" cy="388.6" r="0.9"/><circle cx="113.6" cy="391.4" r="0.9"/><circle cx="113.7" cy="387.0" r="0.9"/><circle cx="113.5" cy="381.5" r="0.9"/><circle cx="112.7" cy="383.6" r="0.9"/><circle cx="163.6" cy="412.8" r="0.9"/><circle cx="162.6" cy="395.4" r="0.9"/><circle cx="212.7" cy="418.5" r="0.9"/><circle cx="213.3" cy="425.6" r="0.9"/><circle cx="213.6" cy="425.1" r="0.9"/><circle cx="213.2" cy="412.6" r="0.9"/><circle cx="262.7" cy="432.3" r="0.9"/><circle cx="263.5" cy="422.5" r="0.9"/><circle cx="262.5" cy="431.2" r="0.9"/><circle cx="262.8" cy="431.5" r="0.9"/><circle cx="312.6" cy="438.5" r="0.9"/></g><g fill="#2a9cab"><circle cx="69.7" cy="412.1" r="0.9"/><circle cx="68.7" cy="406.4" r="0.9"/><circle cx="69.3" cy="414.4" r="0.9"/><circle cx="68.4" cy="401.6" r="0.9"/><circle cx="68.8" cy="401.7" r="0.9"/><circle cx="69.1" cy="406.0" r="0.9"/><circle cx="68.5" cy="419.5" r="0.9"/><circle cx="68.4" cy="407.3" r="0.9"/><circle cx="118.4" cy="402.8" r="0.9"/><circle cx="119.1" cy="409.9" r="0.9"/><circle cx="119.2" cy="410.2" r="0.9"/><circle cx="118.6" cy="398.7" r="0.9"/><circle cx="118.7" cy="407.9" r="0.9"/><circle cx="119.2" cy="400.6" r="0.9"/><circle cx="118.6" cy="414.9" r="0.9"/><circle cx="119.4" cy="396.9" r="0.9"/><circle cx="119.0" cy="403.8" r="0.9"/><circle cx="119.6" cy="412.4" r="0.9"/><circle cx="118.2" cy="411.6" r="0.9"/><circle cx="118.6" cy="414.8" r="0.9"/><circle cx="118.7" cy="410.9" r="0.9"/><circle cx="118.5" cy="413.7" r="0.9"/><circle cx="119.7" cy="406.1" r="0.9"/><circle cx="118.6" cy="408.6" r="0.9"/><circle cx="119.1" cy="399.6" r="0.9"/><circle cx="119.4" cy="402.1" r="0.9"/><circle cx="118.7" cy="394.8" r="0.9"/><circle cx="118.2" cy="395.1" r="0.9"/><circle cx="169.2" cy="404.7" r="0.9"/><circle cx="219.1" cy="446.7" r="0.9"/><circle cx="219.3" cy="411.2" r="0.9"/><circle cx="218.4" cy="423.6" r="0.9"/><circle cx="218.6" cy="414.9" r="0.9"/><circle cx="268.3" cy="409.7" r="0.9"/><circle cx="268.5" cy="411.2" r="0.9"/></g><g fill="#ab45d4"><circle cx="74.4" cy="414.8" r="0.9"/><circle cx="74.9" cy="419.9" r="0.9"/><circle cx="125.4" cy="419.0" r="0.9"/><circle cx="125.4" cy="412.0" r="0.9"/><circle cx="125.1" cy="407.4" r="0.9"/><circle cx="125.4" cy="418.1" r="0.9"/><circle cx="124.9" cy="427.5" r="0.9"/><circle cx="125.1" cy="428.6" r="0.9"/><circle cx="124.2" cy="426.2" r="0.9"/><circle cx="125.0" cy="422.6" r="0.9"/><circle cx="124.0" cy="407.3" r="0.9"/><circle cx="124.6" cy="423.6" r="0.9"/><circle cx="124.9" cy="422.7" r="0.9"/><circle cx="123.9" cy="425.9" r="0.9"/><circle cx="124.1" cy="417.1" r="0.9"/><circle cx="124.5" cy="410.6" r="0.9"/><circle cx="174.3" cy="395.7" r="0.9"/><circle cx="175.2" cy="394.7" r="0.9"/><circle cx="225.0" cy="463.0" r="0.9"/><circle cx="224.1" cy="449.1" r="0.9"/><circle cx="224.0" cy="439.4" r="0.9"/></g><g fill="#7a86d6"><circle cx="80.2" cy="425.7" r="0.9"/><circle cx="79.8" cy="444.2" r="0.9"/><circle cx="79.7" cy="441.7" r="0.9"/><circle cx="81.0" cy="427.0" r="0.9"/><circle cx="79.6" cy="435.6" r="0.9"/><circle cx="80.3" cy="430.0" r="0.9"/><circle cx="130.3" cy="425.3" r="0.9"/><circle cx="129.9" cy="416.0" r="0.9"/><circle cx="130.0" cy="426.5" r="0.9"/><circle cx="131.1" cy="420.6" r="0.9"/><circle cx="131.0" cy="424.0" r="0.9"/><circle cx="130.9" cy="413.1" r="0.9"/><circle cx="130.7" cy="424.5" r="0.9"/><circle cx="130.8" cy="428.9" r="0.9"/><circle cx="130.7" cy="424.4" r="0.9"/><circle cx="130.8" cy="420.8" r="0.9"/><circle cx="130.2" cy="420.3" r="0.9"/><circle cx="130.5" cy="428.1" r="0.9"/><circle cx="130.5" cy="431.6" r="0.9"/><circle cx="180.4" cy="417.5" r="0.9"/><circle cx="180.9" cy="426.9" r="0.9"/><circle cx="230.7" cy="461.5" r="0.9"/><circle cx="230.7" cy="459.9" r="0.9"/></g></g>
<path d="M384.90 292.40V515.00H684.30" fill="none" stroke="#ababab" stroke-width="1.05"/>
<path d="M384.90 292.40H684.30V515.00" fill="none" stroke="#8a8a8a" stroke-width="0.9"/>
<line x1="383.30" x2="384.90" y1="502.20" y2="502.20" stroke="#888" stroke-width="0.6"/>
<text x="382.20" y="506.05" text-anchor="end" class="tk">200</text>
<line x1="383.30" x2="384.90" y1="472.98" y2="472.98" stroke="#888" stroke-width="0.6"/>
<text x="382.20" y="476.83" text-anchor="end" class="tk">400</text>
<line x1="383.30" x2="384.90" y1="443.77" y2="443.77" stroke="#888" stroke-width="0.6"/>
<text x="382.20" y="447.62" text-anchor="end" class="tk">600</text>
<line x1="383.30" x2="384.90" y1="414.56" y2="414.56" stroke="#888" stroke-width="0.6"/>
<text x="382.20" y="418.41" text-anchor="end" class="tk">800</text>
<line x1="383.30" x2="384.90" y1="385.34" y2="385.34" stroke="#888" stroke-width="0.6"/>
<text x="382.20" y="389.19" text-anchor="end" class="tk">1000</text>
<line x1="383.30" x2="384.90" y1="356.13" y2="356.13" stroke="#888" stroke-width="0.6"/>
<text x="382.20" y="359.98" text-anchor="end" class="tk">1200</text>
<line x1="383.30" x2="384.90" y1="326.91" y2="326.91" stroke="#888" stroke-width="0.6"/>
<text x="382.20" y="330.76" text-anchor="end" class="tk">1400</text>
<line x1="383.30" x2="384.90" y1="297.70" y2="297.70" stroke="#888" stroke-width="0.6"/>
<text x="382.20" y="301.55" text-anchor="end" class="tk">1600</text>
<line x1="403.65" x2="403.65" y1="515.00" y2="516.60" stroke="#888" stroke-width="0.6"/>
<text x="403.65" y="525.90" text-anchor="middle" class="tk">[0-5]</text>
<line x1="441.15" x2="441.15" y1="515.00" y2="516.60" stroke="#888" stroke-width="0.6"/>
<text x="441.15" y="525.90" text-anchor="middle" class="tk">(5-10]</text>
<line x1="478.65" x2="478.65" y1="515.00" y2="516.60" stroke="#888" stroke-width="0.6"/>
<text x="478.65" y="525.90" text-anchor="middle" class="tk">(10-15]</text>
<line x1="516.15" x2="516.15" y1="515.00" y2="516.60" stroke="#888" stroke-width="0.6"/>
<text x="516.15" y="525.90" text-anchor="middle" class="tk">(15-20]</text>
<line x1="553.65" x2="553.65" y1="515.00" y2="516.60" stroke="#888" stroke-width="0.6"/>
<text x="553.65" y="525.90" text-anchor="middle" class="tk">(20-25]</text>
<line x1="591.15" x2="591.15" y1="515.00" y2="516.60" stroke="#888" stroke-width="0.6"/>
<text x="591.15" y="525.90" text-anchor="middle" class="tk">(25-30]</text>
<line x1="628.65" x2="628.65" y1="515.00" y2="516.60" stroke="#888" stroke-width="0.6"/>
<text x="628.65" y="525.90" text-anchor="middle" class="tk">(30-35]</text>
<line x1="666.15" x2="666.15" y1="515.00" y2="516.60" stroke="#888" stroke-width="0.6"/>
<text x="666.15" y="525.90" text-anchor="middle" class="tk">(35-40]</text>
<text x="505.55" y="538.00" textLength="58.1" lengthAdjust="spacingAndGlyphs" class="ax">E/S (µL/mg)</text>
<text transform="translate(356.20,403.70) rotate(-90)" x="-68.6" textLength="137.2" lengthAdjust="spacingAndGlyphs" class="ax">Discharge capacity (mAh/g)</text>
<text x="355.0" y="286.0" class="lt">d</text>
<g class="po"><g fill="#3490dc"><circle cx="390.7" cy="416.7" r="0.9"/><circle cx="389.9" cy="388.7" r="0.9"/><circle cx="391.1" cy="388.7" r="0.9"/><circle cx="390.8" cy="388.7" r="0.9"/><circle cx="390.5" cy="388.7" r="0.9"/><circle cx="391.3" cy="388.7" r="0.9"/><circle cx="391.2" cy="356.9" r="0.9"/><circle cx="428.3" cy="412.5" r="0.9"/><circle cx="427.9" cy="338.3" r="0.9"/><circle cx="427.6" cy="352.6" r="0.9"/><circle cx="428.2" cy="347.5" r="0.9"/><circle cx="428.3" cy="398.0" r="0.9"/><circle cx="428.1" cy="393.0" r="0.9"/><circle cx="427.7" cy="344.4" r="0.9"/><circle cx="428.2" cy="358.5" r="0.9"/><circle cx="427.8" cy="389.4" r="0.9"/><circle cx="428.0" cy="348.8" r="0.9"/><circle cx="428.5" cy="358.7" r="0.9"/><circle cx="428.0" cy="402.8" r="0.9"/><circle cx="428.5" cy="388.7" r="0.9"/><circle cx="428.7" cy="340.3" r="0.9"/><circle cx="427.7" cy="343.5" r="0.9"/><circle cx="428.8" cy="391.4" r="0.9"/><circle cx="427.9" cy="405.3" r="0.9"/><circle cx="427.8" cy="342.8" r="0.9"/><circle cx="427.6" cy="399.0" r="0.9"/><circle cx="428.6" cy="347.0" r="0.9"/><circle cx="428.4" cy="403.1" r="0.9"/><circle cx="428.0" cy="405.7" r="0.9"/><circle cx="427.7" cy="340.5" r="0.9"/><circle cx="428.3" cy="409.9" r="0.9"/><circle cx="427.4" cy="393.0" r="0.9"/><circle cx="427.5" cy="402.8" r="0.9"/><circle cx="427.7" cy="355.7" r="0.9"/><circle cx="427.9" cy="311.9" r="0.9"/><circle cx="427.7" cy="315.5" r="0.9"/><circle cx="466.0" cy="399.9" r="0.9"/><circle cx="464.9" cy="305.3" r="0.9"/><circle cx="465.1" cy="311.4" r="0.9"/><circle cx="465.2" cy="322.9" r="0.9"/><circle cx="465.4" cy="325.1" r="0.9"/><circle cx="465.4" cy="372.3" r="0.9"/><circle cx="466.2" cy="389.2" r="0.9"/><circle cx="465.5" cy="366.2" r="0.9"/><circle cx="465.8" cy="313.5" r="0.9"/><circle cx="465.7" cy="377.7" r="0.9"/><circle cx="466.1" cy="368.4" r="0.9"/><circle cx="465.4" cy="365.3" r="0.9"/><circle cx="465.6" cy="379.9" r="0.9"/><circle cx="465.0" cy="378.9" r="0.9"/><circle cx="465.4" cy="325.4" r="0.9"/><circle cx="465.3" cy="312.9" r="0.9"/><circle cx="465.3" cy="313.2" r="0.9"/><circle cx="465.6" cy="379.0" r="0.9"/><circle cx="465.1" cy="325.6" r="0.9"/><circle cx="465.5" cy="312.0" r="0.9"/><circle cx="465.1" cy="375.3" r="0.9"/><circle cx="465.4" cy="375.8" r="0.9"/><circle cx="466.0" cy="366.8" r="0.9"/><circle cx="465.3" cy="378.6" r="0.9"/><circle cx="465.1" cy="324.7" r="0.9"/><circle cx="503.5" cy="431.2" r="0.9"/><circle cx="503.8" cy="308.4" r="0.9"/><circle cx="503.7" cy="427.1" r="0.9"/><circle cx="503.2" cy="373.2" r="0.9"/><circle cx="503.4" cy="333.4" r="0.9"/><circle cx="503.3" cy="334.8" r="0.9"/><circle cx="503.0" cy="384.2" r="0.9"/><circle cx="503.1" cy="390.4" r="0.9"/><circle cx="502.8" cy="333.2" r="0.9"/><circle cx="503.6" cy="312.7" r="0.9"/><circle cx="503.4" cy="382.4" r="0.9"/><circle cx="503.4" cy="377.2" r="0.9"/><circle cx="503.2" cy="323.9" r="0.9"/><circle cx="503.3" cy="334.3" r="0.9"/><circle cx="502.4" cy="325.9" r="0.9"/><circle cx="503.0" cy="381.4" r="0.9"/><circle cx="502.5" cy="334.8" r="0.9"/><circle cx="502.8" cy="378.5" r="0.9"/><circle cx="503.7" cy="329.6" r="0.9"/><circle cx="502.9" cy="318.6" r="0.9"/><circle cx="503.7" cy="425.1" r="0.9"/><circle cx="502.4" cy="322.4" r="0.9"/><circle cx="502.8" cy="415.2" r="0.9"/><circle cx="502.5" cy="330.9" r="0.9"/><circle cx="502.7" cy="334.4" r="0.9"/><circle cx="503.7" cy="332.0" r="0.9"/><circle cx="503.3" cy="320.3" r="0.9"/><circle cx="503.4" cy="457.1" r="0.9"/><circle cx="540.8" cy="353.6" r="0.9"/><circle cx="541.2" cy="314.1" r="0.9"/><circle cx="577.5" cy="381.7" r="0.9"/><circle cx="578.3" cy="335.4" r="0.9"/><circle cx="615.8" cy="354.7" r="0.9"/><circle cx="615.6" cy="352.6" r="0.9"/><circle cx="653.8" cy="368.0" r="0.9"/><circle cx="653.4" cy="315.5" r="0.9"/></g><g fill="#dc5a78"><circle cx="395.0" cy="412.5" r="0.9"/><circle cx="395.3" cy="370.0" r="0.9"/><circle cx="394.2" cy="328.7" r="0.9"/><circle cx="394.4" cy="420.0" r="0.9"/><circle cx="432.0" cy="449.5" r="0.9"/><circle cx="431.8" cy="312.7" r="0.9"/><circle cx="432.2" cy="333.7" r="0.9"/><circle cx="432.4" cy="336.4" r="0.9"/><circle cx="431.8" cy="402.8" r="0.9"/><circle cx="432.7" cy="407.8" r="0.9"/><circle cx="432.9" cy="448.1" r="0.9"/><circle cx="432.1" cy="352.1" r="0.9"/><circle cx="431.9" cy="448.1" r="0.9"/><circle cx="432.6" cy="426.2" r="0.9"/><circle cx="431.9" cy="435.7" r="0.9"/><circle cx="432.8" cy="337.0" r="0.9"/><circle cx="432.2" cy="360.3" r="0.9"/><circle cx="432.4" cy="414.9" r="0.9"/><circle cx="432.7" cy="355.5" r="0.9"/><circle cx="432.9" cy="424.9" r="0.9"/><circle cx="432.6" cy="440.4" r="0.9"/><circle cx="432.2" cy="405.3" r="0.9"/><circle cx="432.9" cy="418.6" r="0.9"/><circle cx="432.1" cy="360.6" r="0.9"/><circle cx="432.1" cy="409.1" r="0.9"/><circle cx="431.8" cy="334.3" r="0.9"/><circle cx="432.0" cy="428.2" r="0.9"/><circle cx="433.0" cy="349.2" r="0.9"/><circle cx="431.7" cy="426.6" r="0.9"/><circle cx="432.4" cy="413.4" r="0.9"/><circle cx="432.5" cy="412.7" r="0.9"/><circle cx="432.5" cy="410.4" r="0.9"/><circle cx="431.8" cy="322.7" r="0.9"/><circle cx="433.0" cy="329.4" r="0.9"/><circle cx="470.3" cy="422.4" r="0.9"/><circle cx="469.9" cy="302.2" r="0.9"/><circle cx="469.3" cy="414.0" r="0.9"/><circle cx="470.1" cy="392.2" r="0.9"/><circle cx="469.9" cy="324.7" r="0.9"/><circle cx="469.7" cy="413.8" r="0.9"/><circle cx="470.5" cy="383.1" r="0.9"/><circle cx="470.0" cy="393.6" r="0.9"/><circle cx="469.8" cy="307.0" r="0.9"/><circle cx="470.0" cy="341.4" r="0.9"/><circle cx="469.4" cy="340.3" r="0.9"/><circle cx="469.6" cy="330.9" r="0.9"/><circle cx="469.8" cy="391.1" r="0.9"/><circle cx="469.2" cy="384.3" r="0.9"/><circle cx="469.9" cy="341.9" r="0.9"/><circle cx="470.0" cy="331.9" r="0.9"/><circle cx="470.3" cy="338.3" r="0.9"/><circle cx="469.8" cy="338.2" r="0.9"/><circle cx="470.1" cy="379.5" r="0.9"/><circle cx="469.6" cy="388.3" r="0.9"/><circle cx="469.5" cy="334.4" r="0.9"/><circle cx="469.5" cy="396.9" r="0.9"/><circle cx="469.9" cy="319.9" r="0.9"/><circle cx="469.7" cy="379.8" r="0.9"/><circle cx="469.5" cy="383.8" r="0.9"/><circle cx="470.4" cy="310.5" r="0.9"/><circle cx="470.5" cy="408.8" r="0.9"/><circle cx="469.5" cy="330.0" r="0.9"/><circle cx="469.3" cy="324.5" r="0.9"/><circle cx="470.1" cy="382.4" r="0.9"/><circle cx="469.2" cy="398.5" r="0.9"/><circle cx="470.1" cy="378.6" r="0.9"/><circle cx="469.7" cy="337.3" r="0.9"/><circle cx="470.1" cy="408.9" r="0.9"/><circle cx="469.4" cy="326.1" r="0.9"/><circle cx="470.1" cy="435.0" r="0.9"/><circle cx="507.6" cy="426.2" r="0.9"/><circle cx="506.9" cy="322.2" r="0.9"/><circle cx="507.6" cy="413.6" r="0.9"/><circle cx="507.0" cy="340.6" r="0.9"/><circle cx="507.0" cy="384.8" r="0.9"/><circle cx="507.6" cy="381.7" r="0.9"/><circle cx="507.5" cy="390.4" r="0.9"/><circle cx="506.8" cy="417.7" r="0.9"/><circle cx="507.9" cy="407.9" r="0.9"/><circle cx="507.8" cy="348.8" r="0.9"/><circle cx="507.4" cy="350.1" r="0.9"/><circle cx="507.7" cy="348.9" r="0.9"/><circle cx="507.0" cy="335.0" r="0.9"/><circle cx="507.4" cy="398.4" r="0.9"/><circle cx="507.9" cy="332.7" r="0.9"/><circle cx="507.4" cy="378.1" r="0.9"/><circle cx="507.6" cy="326.2" r="0.9"/><circle cx="507.9" cy="386.3" r="0.9"/><circle cx="507.4" cy="328.8" r="0.9"/><circle cx="507.8" cy="322.6" r="0.9"/><circle cx="506.8" cy="393.1" r="0.9"/><circle cx="507.0" cy="382.1" r="0.9"/><circle cx="507.2" cy="378.3" r="0.9"/><circle cx="507.1" cy="377.9" r="0.9"/><circle cx="508.1" cy="328.1" r="0.9"/><circle cx="507.7" cy="411.6" r="0.9"/><circle cx="507.2" cy="337.9" r="0.9"/><circle cx="508.0" cy="376.9" r="0.9"/><circle cx="506.9" cy="351.0" r="0.9"/><circle cx="507.6" cy="333.7" r="0.9"/><circle cx="508.0" cy="377.7" r="0.9"/><circle cx="507.2" cy="446.3" r="0.9"/><circle cx="507.9" cy="465.0" r="0.9"/><circle cx="545.2" cy="377.0" r="0.9"/><circle cx="544.7" cy="322.2" r="0.9"/><circle cx="581.8" cy="373.5" r="0.9"/><circle cx="582.1" cy="343.6" r="0.9"/><circle cx="583.0" cy="354.9" r="0.9"/><circle cx="582.1" cy="352.7" r="0.9"/><circle cx="583.1" cy="401.3" r="0.9"/><circle cx="619.8" cy="381.7" r="0.9"/><circle cx="620.0" cy="373.9" r="0.9"/><circle cx="658.1" cy="391.8" r="0.9"/><circle cx="657.6" cy="349.7" r="0.9"/><circle cx="658.0" cy="390.9" r="0.9"/><circle cx="658.0" cy="355.1" r="0.9"/><circle cx="656.9" cy="389.1" r="0.9"/></g><g fill="#4aa52a"><circle cx="398.5" cy="446.3" r="0.9"/><circle cx="399.1" cy="403.7" r="0.9"/><circle cx="398.5" cy="409.0" r="0.9"/><circle cx="399.9" cy="440.8" r="0.9"/><circle cx="398.6" cy="410.3" r="0.9"/><circle cx="399.5" cy="358.8" r="0.9"/><circle cx="436.6" cy="472.0" r="0.9"/><circle cx="436.2" cy="344.6" r="0.9"/><circle cx="437.0" cy="360.2" r="0.9"/><circle cx="437.3" cy="379.3" r="0.9"/><circle cx="436.1" cy="427.9" r="0.9"/><circle cx="436.0" cy="377.9" r="0.9"/><circle cx="436.5" cy="440.6" r="0.9"/><circle cx="436.8" cy="357.6" r="0.9"/><circle cx="436.4" cy="360.7" r="0.9"/><circle cx="437.1" cy="464.2" r="0.9"/><circle cx="436.7" cy="378.0" r="0.9"/><circle cx="437.3" cy="372.4" r="0.9"/><circle cx="437.3" cy="362.1" r="0.9"/><circle cx="436.1" cy="424.7" r="0.9"/><circle cx="436.5" cy="442.9" r="0.9"/><circle cx="437.3" cy="353.2" r="0.9"/><circle cx="436.3" cy="358.6" r="0.9"/><circle cx="436.7" cy="379.1" r="0.9"/><circle cx="436.5" cy="432.0" r="0.9"/><circle cx="436.8" cy="435.4" r="0.9"/><circle cx="437.3" cy="353.4" r="0.9"/><circle cx="437.3" cy="376.5" r="0.9"/><circle cx="437.2" cy="423.1" r="0.9"/><circle cx="436.8" cy="437.5" r="0.9"/><circle cx="437.0" cy="351.1" r="0.9"/><circle cx="436.9" cy="354.3" r="0.9"/><circle cx="473.9" cy="428.7" r="0.9"/><circle cx="474.7" cy="339.5" r="0.9"/><circle cx="474.2" cy="398.9" r="0.9"/><circle cx="474.5" cy="411.6" r="0.9"/><circle cx="474.0" cy="356.0" r="0.9"/><circle cx="473.5" cy="401.5" r="0.9"/><circle cx="474.9" cy="410.9" r="0.9"/><circle cx="474.4" cy="348.0" r="0.9"/><circle cx="473.7" cy="395.3" r="0.9"/><circle cx="474.6" cy="404.5" r="0.9"/><circle cx="474.4" cy="353.0" r="0.9"/><circle cx="474.3" cy="396.3" r="0.9"/><circle cx="474.5" cy="354.5" r="0.9"/><circle cx="473.8" cy="414.4" r="0.9"/><circle cx="474.6" cy="344.5" r="0.9"/><circle cx="474.5" cy="404.9" r="0.9"/><circle cx="474.6" cy="359.4" r="0.9"/><circle cx="473.8" cy="421.8" r="0.9"/><circle cx="474.0" cy="408.3" r="0.9"/><circle cx="473.6" cy="352.5" r="0.9"/><circle cx="474.7" cy="363.1" r="0.9"/><circle cx="473.6" cy="347.8" r="0.9"/><circle cx="474.0" cy="422.0" r="0.9"/><circle cx="473.8" cy="354.7" r="0.9"/><circle cx="473.8" cy="355.9" r="0.9"/><circle cx="474.8" cy="405.6" r="0.9"/><circle cx="474.2" cy="363.5" r="0.9"/><circle cx="474.8" cy="443.8" r="0.9"/><circle cx="511.7" cy="455.0" r="0.9"/><circle cx="511.0" cy="356.1" r="0.9"/><circle cx="511.7" cy="369.8" r="0.9"/><circle cx="511.5" cy="439.0" r="0.9"/><circle cx="511.3" cy="358.3" r="0.9"/><circle cx="511.4" cy="371.5" r="0.9"/><circle cx="512.2" cy="409.8" r="0.9"/><circle cx="511.6" cy="416.7" r="0.9"/><circle cx="512.1" cy="427.8" r="0.9"/><circle cx="512.0" cy="441.5" r="0.9"/><circle cx="512.1" cy="359.2" r="0.9"/><circle cx="512.3" cy="364.2" r="0.9"/><circle cx="511.4" cy="371.7" r="0.9"/><circle cx="511.8" cy="362.2" r="0.9"/><circle cx="511.5" cy="362.2" r="0.9"/><circle cx="512.2" cy="405.6" r="0.9"/><circle cx="511.9" cy="421.2" r="0.9"/><circle cx="512.0" cy="403.8" r="0.9"/><circle cx="511.8" cy="448.1" r="0.9"/><circle cx="512.0" cy="370.3" r="0.9"/><circle cx="511.2" cy="371.6" r="0.9"/><circle cx="512.4" cy="411.7" r="0.9"/><circle cx="511.8" cy="372.1" r="0.9"/><circle cx="511.8" cy="366.3" r="0.9"/><circle cx="511.2" cy="369.6" r="0.9"/><circle cx="511.1" cy="401.3" r="0.9"/><circle cx="512.0" cy="371.3" r="0.9"/><circle cx="511.3" cy="363.2" r="0.9"/><circle cx="511.6" cy="432.9" r="0.9"/><circle cx="512.0" cy="416.2" r="0.9"/><circle cx="511.1" cy="400.3" r="0.9"/><circle cx="511.0" cy="441.5" r="0.9"/><circle cx="511.8" cy="369.3" r="0.9"/><circle cx="511.1" cy="364.3" r="0.9"/><circle cx="511.9" cy="461.2" r="0.9"/><circle cx="512.2" cy="478.0" r="0.9"/><circle cx="549.3" cy="391.2" r="0.9"/><circle cx="549.5" cy="340.4" r="0.9"/><circle cx="586.0" cy="424.2" r="0.9"/><circle cx="586.1" cy="375.8" r="0.9"/><circle cx="624.1" cy="403.0" r="0.9"/><circle cx="624.5" cy="390.5" r="0.9"/><circle cx="662.1" cy="416.3" r="0.9"/><circle cx="661.7" cy="367.8" r="0.9"/></g><g fill="#d09a1c"><circle cx="404.0" cy="476.2" r="0.9"/><circle cx="403.3" cy="420.4" r="0.9"/><circle cx="403.5" cy="379.2" r="0.9"/><circle cx="441.5" cy="504.5" r="0.9"/><circle cx="441.6" cy="360.5" r="0.9"/><circle cx="441.0" cy="497.6" r="0.9"/><circle cx="440.7" cy="480.0" r="0.9"/><circle cx="441.1" cy="504.3" r="0.9"/><circle cx="441.3" cy="383.3" r="0.9"/><circle cx="440.6" cy="362.0" r="0.9"/><circle cx="441.2" cy="380.8" r="0.9"/><circle cx="440.8" cy="373.2" r="0.9"/><circle cx="441.2" cy="390.1" r="0.9"/><circle cx="441.5" cy="392.4" r="0.9"/><circle cx="440.7" cy="497.7" r="0.9"/><circle cx="440.9" cy="481.2" r="0.9"/><circle cx="441.3" cy="455.0" r="0.9"/><circle cx="441.1" cy="367.3" r="0.9"/><circle cx="441.6" cy="390.5" r="0.9"/><circle cx="441.2" cy="484.3" r="0.9"/><circle cx="440.3" cy="463.3" r="0.9"/><circle cx="440.3" cy="472.6" r="0.9"/><circle cx="440.9" cy="389.9" r="0.9"/><circle cx="440.3" cy="479.9" r="0.9"/><circle cx="441.0" cy="453.8" r="0.9"/><circle cx="440.8" cy="450.2" r="0.9"/><circle cx="441.0" cy="391.6" r="0.9"/><circle cx="478.0" cy="450.5" r="0.9"/><circle cx="478.0" cy="362.7" r="0.9"/><circle cx="478.7" cy="441.6" r="0.9"/><circle cx="478.2" cy="385.0" r="0.9"/><circle cx="479.0" cy="374.1" r="0.9"/><circle cx="478.0" cy="366.4" r="0.9"/><circle cx="478.7" cy="374.0" r="0.9"/><circle cx="478.1" cy="444.6" r="0.9"/><circle cx="478.7" cy="383.7" r="0.9"/><circle cx="478.7" cy="437.1" r="0.9"/><circle cx="478.4" cy="368.7" r="0.9"/><circle cx="477.9" cy="364.6" r="0.9"/><circle cx="479.1" cy="369.3" r="0.9"/><circle cx="478.6" cy="419.6" r="0.9"/><circle cx="478.8" cy="382.2" r="0.9"/><circle cx="479.0" cy="385.1" r="0.9"/><circle cx="478.3" cy="419.2" r="0.9"/><circle cx="478.3" cy="447.5" r="0.9"/><circle cx="478.1" cy="377.1" r="0.9"/><circle cx="479.1" cy="425.6" r="0.9"/><circle cx="479.1" cy="379.4" r="0.9"/><circle cx="479.0" cy="446.7" r="0.9"/><circle cx="479.1" cy="443.8" r="0.9"/><circle cx="478.9" cy="431.8" r="0.9"/><circle cx="477.8" cy="417.3" r="0.9"/><circle cx="478.6" cy="414.4" r="0.9"/><circle cx="478.5" cy="382.0" r="0.9"/><circle cx="478.1" cy="414.7" r="0.9"/><circle cx="516.0" cy="455.0" r="0.9"/><circle cx="516.6" cy="364.7" r="0.9"/><circle cx="515.6" cy="431.1" r="0.9"/><circle cx="516.4" cy="389.9" r="0.9"/><circle cx="516.6" cy="367.2" r="0.9"/><circle cx="515.9" cy="422.0" r="0.9"/><circle cx="515.9" cy="380.5" r="0.9"/><circle cx="515.4" cy="384.1" r="0.9"/><circle cx="515.5" cy="444.6" r="0.9"/><circle cx="516.5" cy="424.1" r="0.9"/><circle cx="516.5" cy="419.9" r="0.9"/><circle cx="516.5" cy="429.9" r="0.9"/><circle cx="516.2" cy="421.1" r="0.9"/><circle cx="515.9" cy="432.8" r="0.9"/><circle cx="515.6" cy="373.4" r="0.9"/><circle cx="516.0" cy="432.3" r="0.9"/><circle cx="516.6" cy="372.1" r="0.9"/><circle cx="516.6" cy="421.0" r="0.9"/><circle cx="516.0" cy="448.1" r="0.9"/><circle cx="515.5" cy="452.2" r="0.9"/><circle cx="516.4" cy="378.8" r="0.9"/><circle cx="515.9" cy="367.2" r="0.9"/><circle cx="516.5" cy="443.2" r="0.9"/><circle cx="516.2" cy="419.5" r="0.9"/><circle cx="515.9" cy="468.0" r="0.9"/><circle cx="515.3" cy="472.0" r="0.9"/><circle cx="515.5" cy="494.3" r="0.9"/><circle cx="553.9" cy="404.3" r="0.9"/><circle cx="553.1" cy="351.2" r="0.9"/><circle cx="591.2" cy="435.7" r="0.9"/><circle cx="591.3" cy="390.9" r="0.9"/><circle cx="591.1" cy="397.1" r="0.9"/><circle cx="591.4" cy="398.9" r="0.9"/><circle cx="590.7" cy="433.0" r="0.9"/><circle cx="628.3" cy="422.4" r="0.9"/><circle cx="628.7" cy="404.2" r="0.9"/><circle cx="665.8" cy="433.7" r="0.9"/><circle cx="666.3" cy="379.9" r="0.9"/></g><g fill="#2a9cab"><circle cx="407.3" cy="453.0" r="0.9"/><circle cx="407.1" cy="393.8" r="0.9"/><circle cx="445.8" cy="499.6" r="0.9"/><circle cx="445.0" cy="375.0" r="0.9"/><circle cx="445.7" cy="460.4" r="0.9"/><circle cx="445.3" cy="484.5" r="0.9"/><circle cx="444.6" cy="377.8" r="0.9"/><circle cx="444.7" cy="383.8" r="0.9"/><circle cx="444.7" cy="487.8" r="0.9"/><circle cx="445.6" cy="389.4" r="0.9"/><circle cx="445.4" cy="461.9" r="0.9"/><circle cx="445.5" cy="378.4" r="0.9"/><circle cx="445.7" cy="397.6" r="0.9"/><circle cx="445.3" cy="382.0" r="0.9"/><circle cx="445.1" cy="453.7" r="0.9"/><circle cx="444.9" cy="488.6" r="0.9"/><circle cx="444.7" cy="389.8" r="0.9"/><circle cx="445.7" cy="489.5" r="0.9"/><circle cx="445.4" cy="461.3" r="0.9"/><circle cx="445.8" cy="498.3" r="0.9"/><circle cx="444.9" cy="388.1" r="0.9"/><circle cx="445.2" cy="382.6" r="0.9"/><circle cx="444.6" cy="376.3" r="0.9"/><circle cx="445.0" cy="482.7" r="0.9"/><circle cx="445.3" cy="461.3" r="0.9"/><circle cx="445.8" cy="465.8" r="0.9"/><circle cx="445.3" cy="499.4" r="0.9"/><circle cx="483.0" cy="465.0" r="0.9"/><circle cx="482.9" cy="385.6" r="0.9"/><circle cx="483.0" cy="401.1" r="0.9"/><circle cx="482.6" cy="401.1" r="0.9"/><circle cx="483.3" cy="433.2" r="0.9"/><circle cx="483.2" cy="400.8" r="0.9"/><circle cx="482.9" cy="449.1" r="0.9"/><circle cx="482.5" cy="458.2" r="0.9"/><circle cx="483.2" cy="389.7" r="0.9"/><circle cx="482.6" cy="450.4" r="0.9"/><circle cx="483.1" cy="442.6" r="0.9"/><circle cx="483.0" cy="427.6" r="0.9"/><circle cx="482.8" cy="446.5" r="0.9"/><circle cx="482.1" cy="462.5" r="0.9"/><circle cx="482.2" cy="455.6" r="0.9"/><circle cx="520.0" cy="447.0" r="0.9"/><circle cx="520.7" cy="380.2" r="0.9"/><circle cx="519.7" cy="402.1" r="0.9"/><circle cx="520.5" cy="431.2" r="0.9"/><circle cx="520.8" cy="435.2" r="0.9"/><circle cx="520.9" cy="427.4" r="0.9"/><circle cx="519.6" cy="438.1" r="0.9"/><circle cx="520.3" cy="388.8" r="0.9"/><circle cx="519.9" cy="407.1" r="0.9"/><circle cx="519.6" cy="425.5" r="0.9"/><circle cx="520.6" cy="383.2" r="0.9"/><circle cx="520.9" cy="439.2" r="0.9"/><circle cx="519.8" cy="407.8" r="0.9"/><circle cx="519.9" cy="432.1" r="0.9"/><circle cx="519.8" cy="406.8" r="0.9"/><circle cx="520.3" cy="427.7" r="0.9"/><circle cx="520.6" cy="475.0" r="0.9"/><circle cx="558.1" cy="419.2" r="0.9"/><circle cx="557.6" cy="362.7" r="0.9"/><circle cx="595.0" cy="443.0" r="0.9"/><circle cx="594.8" cy="411.8" r="0.9"/><circle cx="595.6" cy="454.0" r="0.9"/><circle cx="633.1" cy="433.7" r="0.9"/><circle cx="632.6" cy="412.5" r="0.9"/><circle cx="670.3" cy="455.0" r="0.9"/><circle cx="670.4" cy="402.0" r="0.9"/></g><g fill="#ab45d4"><circle cx="411.5" cy="407.5" r="0.9"/><circle cx="449.2" cy="475.5" r="0.9"/><circle cx="449.3" cy="382.4" r="0.9"/><circle cx="449.4" cy="474.6" r="0.9"/><circle cx="449.3" cy="408.5" r="0.9"/><circle cx="449.3" cy="451.1" r="0.9"/><circle cx="450.0" cy="457.4" r="0.9"/><circle cx="449.9" cy="451.8" r="0.9"/><circle cx="448.8" cy="451.8" r="0.9"/><circle cx="486.9" cy="449.2" r="0.9"/><circle cx="486.6" cy="402.4" r="0.9"/><circle cx="487.0" cy="443.1" r="0.9"/><circle cx="487.2" cy="409.9" r="0.9"/><circle cx="487.7" cy="441.8" r="0.9"/><circle cx="486.7" cy="406.4" r="0.9"/><circle cx="487.7" cy="432.9" r="0.9"/><circle cx="486.4" cy="412.9" r="0.9"/><circle cx="487.5" cy="435.4" r="0.9"/><circle cx="486.7" cy="411.2" r="0.9"/><circle cx="487.0" cy="504.2" r="0.9"/><circle cx="524.7" cy="463.8" r="0.9"/><circle cx="524.1" cy="399.9" r="0.9"/><circle cx="524.5" cy="445.8" r="0.9"/><circle cx="524.0" cy="454.0" r="0.9"/><circle cx="525.0" cy="405.7" r="0.9"/><circle cx="524.9" cy="419.0" r="0.9"/><circle cx="525.0" cy="402.0" r="0.9"/><circle cx="524.4" cy="387.8" r="0.9"/><circle cx="562.0" cy="430.8" r="0.9"/><circle cx="561.4" cy="372.9" r="0.9"/><circle cx="599.8" cy="465.0" r="0.9"/><circle cx="600.0" cy="423.8" r="0.9"/><circle cx="636.9" cy="447.0" r="0.9"/><circle cx="674.4" cy="437.8" r="0.9"/></g><g fill="#7a86d6"><circle cx="453.2" cy="486.3" r="0.9"/><circle cx="453.1" cy="392.2" r="0.9"/><circle cx="454.3" cy="484.7" r="0.9"/><circle cx="454.4" cy="397.5" r="0.9"/><circle cx="453.2" cy="479.5" r="0.9"/><circle cx="491.6" cy="456.2" r="0.9"/><circle cx="491.7" cy="417.5" r="0.9"/><circle cx="491.0" cy="442.9" r="0.9"/><circle cx="491.5" cy="423.8" r="0.9"/><circle cx="491.1" cy="447.4" r="0.9"/><circle cx="491.3" cy="446.0" r="0.9"/><circle cx="491.8" cy="422.3" r="0.9"/><circle cx="490.8" cy="441.6" r="0.9"/><circle cx="491.8" cy="444.4" r="0.9"/><circle cx="491.1" cy="422.8" r="0.9"/><circle cx="491.9" cy="475.0" r="0.9"/><circle cx="529.1" cy="491.2" r="0.9"/><circle cx="528.7" cy="398.1" r="0.9"/><circle cx="528.1" cy="422.8" r="0.9"/><circle cx="528.1" cy="473.7" r="0.9"/><circle cx="528.9" cy="422.1" r="0.9"/><circle cx="528.8" cy="409.9" r="0.9"/><circle cx="528.8" cy="425.7" r="0.9"/><circle cx="528.1" cy="419.4" r="0.9"/><circle cx="566.5" cy="423.5" r="0.9"/><circle cx="604.5" cy="485.5" r="0.9"/><circle cx="603.5" cy="458.4" r="0.9"/><circle cx="603.6" cy="453.0" r="0.9"/><circle cx="641.5" cy="440.7" r="0.9"/><circle cx="678.5" cy="472.4" r="0.9"/><circle cx="679.3" cy="456.8" r="0.9"/></g></g>
<g><rect x="388.60" y="388.70" width="3.99" height="12.56" fill="#5ca5dd" class="b"/><path d="M390.59 401.26V416.75M389.52 416.75H391.66" class="w"/><path d="M388.60 393.81H392.59" class="m"/><rect x="392.89" y="391.77" width="3.99" height="19.43" fill="#ef8da2" class="b"/><path d="M394.88 391.77V370.00M393.81 370.00H395.95" class="w"/><path d="M394.88 411.20V412.51M393.81 412.51H395.95" class="w"/><path d="M392.89 406.23H396.87" class="m"/><rect x="397.17" y="417.48" width="3.99" height="23.08" fill="#69ae56" class="b"/><path d="M399.16 417.48V403.75M398.09 403.75H400.24" class="w"/><path d="M399.16 440.56V446.25M398.09 446.25H400.24" class="w"/><path d="M397.17 431.21H401.16" class="m"/><rect x="401.46" y="423.03" width="3.99" height="22.49" fill="#d6a94a" class="b"/><path d="M403.45 423.03V420.40M402.38 420.40H404.52" class="w"/><path d="M403.45 445.52V476.20M402.38 476.20H404.52" class="w"/><path d="M401.46 439.53H405.44" class="m"/><rect x="405.74" y="416.31" width="3.99" height="29.21" fill="#58a9b4" class="b"/><path d="M407.74 416.31V393.81M406.66 393.81H408.81" class="w"/><path d="M407.74 445.52V452.97M406.66 452.97H408.81" class="w"/><path d="M405.74 438.07H409.73" class="m"/><path d="M410.03 407.54H414.01" class="m"/><rect x="426.10" y="359.20" width="3.99" height="29.51" fill="#5ca5dd" class="b"/><path d="M428.09 359.20V338.31M427.02 338.31H429.16" class="w"/><path d="M428.09 388.70V412.51M427.02 412.51H429.16" class="w"/><path d="M426.10 373.66H430.09" class="m"/><rect x="430.39" y="360.66" width="3.99" height="41.78" fill="#ef8da2" class="b"/><path d="M432.38 360.66V312.75M431.31 312.75H433.45" class="w"/><path d="M432.38 402.43V449.47M431.31 449.47H433.45" class="w"/><path d="M430.39 382.42H434.37" class="m"/><rect x="434.67" y="379.65" width="3.99" height="43.38" fill="#69ae56" class="b"/><path d="M436.66 379.65V344.59M435.59 344.59H437.74" class="w"/><path d="M436.66 423.03V471.96M435.59 471.96H437.74" class="w"/><path d="M434.67 402.87H438.66" class="m"/><rect x="438.96" y="392.50" width="3.99" height="56.24" fill="#d6a94a" class="b"/><path d="M440.95 392.50V360.51M439.88 360.51H442.02" class="w"/><path d="M440.95 448.74V504.54M439.88 504.54H442.02" class="w"/><path d="M438.96 414.56H442.94" class="m"/><rect x="443.24" y="397.61" width="3.99" height="56.09" fill="#58a9b4" class="b"/><path d="M445.24 397.61V374.97M444.16 374.97H446.31" class="w"/><path d="M445.24 453.70V499.57M444.16 499.57H446.31" class="w"/><path d="M443.24 421.86H447.23" class="m"/><rect x="447.53" y="409.44" width="3.99" height="39.29" fill="#bb74d6" class="b"/><path d="M449.52 409.44V382.42M448.45 382.42H450.59" class="w"/><path d="M449.52 448.74V475.47M448.45 475.47H450.59" class="w"/><path d="M447.53 429.16H451.51" class="m"/><rect x="451.81" y="423.76" width="3.99" height="52.44" fill="#a6b0e4" class="b"/><path d="M453.81 423.76V392.21M452.74 392.21H454.88" class="w"/><path d="M453.81 476.20V486.28M452.74 486.28H454.88" class="w"/><path d="M451.81 449.47H455.80" class="m"/><rect x="463.60" y="327.64" width="3.99" height="37.10" fill="#5ca5dd" class="b"/><path d="M465.59 327.64V305.30M464.52 305.30H466.66" class="w"/><path d="M465.59 364.75V399.95M464.52 399.95H466.66" class="w"/><path d="M463.60 348.97H467.59" class="m"/><rect x="467.89" y="341.96" width="3.99" height="36.66" fill="#ef8da2" class="b"/><path d="M469.88 341.96V302.23M468.81 302.23H470.95" class="w"/><path d="M469.88 378.62V422.44M468.81 422.44H470.95" class="w"/><path d="M467.89 360.51H471.87" class="m"/><rect x="472.17" y="363.72" width="3.99" height="31.41" fill="#69ae56" class="b"/><path d="M474.16 363.72V339.48M473.09 339.48H475.24" class="w"/><path d="M474.16 395.13V428.72M473.09 428.72H475.24" class="w"/><path d="M472.17 379.50H476.16" class="m"/><rect x="476.46" y="385.34" width="3.99" height="27.61" fill="#d6a94a" class="b"/><path d="M478.45 385.34V362.70M477.38 362.70H479.52" class="w"/><path d="M478.45 412.95V450.49M477.38 450.49H479.52" class="w"/><path d="M476.46 399.95H480.44" class="m"/><rect x="480.74" y="402.43" width="3.99" height="25.12" fill="#58a9b4" class="b"/><path d="M482.74 402.43V385.63M481.66 385.63H483.81" class="w"/><path d="M482.74 427.56V464.95M481.66 464.95H483.81" class="w"/><path d="M480.74 414.56H484.73" class="m"/><rect x="485.03" y="413.68" width="3.99" height="18.84" fill="#bb74d6" class="b"/><path d="M487.02 413.68V402.43M485.95 402.43H488.09" class="w"/><path d="M487.02 432.52V449.17M485.95 449.17H488.09" class="w"/><path d="M485.03 423.32H489.01" class="m"/><rect x="489.31" y="426.24" width="3.99" height="14.31" fill="#a6b0e4" class="b"/><path d="M491.31 426.24V417.48M490.24 417.48H492.38" class="w"/><path d="M491.31 440.56V456.19M490.24 456.19H492.38" class="w"/><path d="M489.31 433.55H493.30" class="m"/><rect x="501.10" y="334.80" width="3.99" height="38.12" fill="#5ca5dd" class="b"/><path d="M503.09 334.80V308.36M502.02 308.36H504.16" class="w"/><path d="M503.09 372.93V431.21M502.02 431.21H504.16" class="w"/><path d="M501.10 352.48H505.09" class="m"/><rect x="505.39" y="353.79" width="3.99" height="22.79" fill="#ef8da2" class="b"/><path d="M507.38 353.79V322.24M506.31 322.24H508.45" class="w"/><path d="M507.38 376.58V426.24M506.31 426.24H508.45" class="w"/><path d="M505.39 366.35H509.37" class="m"/><rect x="509.67" y="372.49" width="3.99" height="27.46" fill="#69ae56" class="b"/><path d="M511.66 372.49V356.13M510.59 356.13H512.74" class="w"/><path d="M511.66 399.95V455.02M510.59 455.02H512.74" class="w"/><path d="M509.67 385.34H513.66" class="m"/><rect x="513.96" y="390.75" width="3.99" height="28.05" fill="#d6a94a" class="b"/><path d="M515.95 390.75V364.75M514.88 364.75H517.02" class="w"/><path d="M515.95 418.79V455.02M514.88 455.02H517.02" class="w"/><path d="M513.96 405.79H517.94" class="m"/><rect x="518.24" y="407.98" width="3.99" height="17.53" fill="#58a9b4" class="b"/><path d="M520.24 407.98V380.23M519.16 380.23H521.31" class="w"/><path d="M520.24 425.51V446.98M519.16 446.98H521.31" class="w"/><path d="M518.24 416.02H522.23" class="m"/><rect x="522.53" y="419.23" width="3.99" height="18.26" fill="#bb74d6" class="b"/><path d="M524.52 419.23V399.95M523.45 399.95H525.59" class="w"/><path d="M524.52 437.49V463.78M523.45 463.78H525.59" class="w"/><path d="M522.53 429.16H526.51" class="m"/><rect x="526.81" y="426.97" width="3.99" height="25.56" fill="#a6b0e4" class="b"/><path d="M528.81 426.97V398.05M527.74 398.05H529.88" class="w"/><path d="M528.81 452.53V491.24M527.74 491.24H529.88" class="w"/><path d="M526.81 439.39H530.80" class="m"/><rect x="538.60" y="323.99" width="3.99" height="19.57" fill="#5ca5dd" class="b"/><path d="M540.59 323.99V314.06M539.52 314.06H541.66" class="w"/><path d="M540.59 343.57V353.64M539.52 353.64H541.66" class="w"/><path d="M538.60 333.78H542.59" class="m"/><rect x="542.89" y="329.69" width="3.99" height="35.20" fill="#ef8da2" class="b"/><path d="M544.88 329.69V322.24M543.81 322.24H545.95" class="w"/><path d="M544.88 364.89V377.02M543.81 377.02H545.95" class="w"/><path d="M542.89 356.86H546.87" class="m"/><rect x="547.17" y="342.25" width="3.99" height="48.35" fill="#69ae56" class="b"/><path d="M549.16 342.25V340.35M548.09 340.35H550.24" class="w"/><path d="M549.16 390.60V391.18M548.09 391.18H550.24" class="w"/><path d="M547.17 372.49H551.16" class="m"/><rect x="551.46" y="353.06" width="3.99" height="50.69" fill="#d6a94a" class="b"/><path d="M553.45 353.06V351.16M552.38 351.16H554.52" class="w"/><path d="M553.45 403.75V404.33M552.38 404.33H554.52" class="w"/><path d="M551.46 394.98H555.44" class="m"/><rect x="555.74" y="374.09" width="3.99" height="39.58" fill="#58a9b4" class="b"/><path d="M557.74 374.09V362.70M556.66 362.70H558.81" class="w"/><path d="M557.74 413.68V419.23M556.66 419.23H558.81" class="w"/><path d="M555.74 411.20H559.73" class="m"/><rect x="560.03" y="392.21" width="3.99" height="30.82" fill="#bb74d6" class="b"/><path d="M562.02 392.21V372.93M560.95 372.93H563.09" class="w"/><path d="M562.02 423.03V430.77M560.95 430.77H563.09" class="w"/><path d="M560.03 410.03H564.01" class="m"/><path d="M564.31 423.47H568.30" class="m"/><rect x="576.10" y="340.35" width="3.99" height="21.62" fill="#5ca5dd" class="b"/><path d="M578.09 340.35V335.39M577.02 335.39H579.16" class="w"/><path d="M578.09 361.97V381.69M577.02 381.69H579.16" class="w"/><path d="M576.10 348.53H580.09" class="m"/><rect x="580.39" y="356.13" width="3.99" height="10.66" fill="#ef8da2" class="b"/><path d="M582.38 356.13V343.57M581.31 343.57H583.45" class="w"/><path d="M582.38 366.79V373.51M581.31 373.51H583.45" class="w"/><path d="M580.39 360.66H584.37" class="m"/><rect x="584.67" y="379.06" width="3.99" height="17.82" fill="#69ae56" class="b"/><path d="M586.66 379.06V375.85M585.59 375.85H587.74" class="w"/><path d="M586.66 396.88V424.20M585.59 424.20H587.74" class="w"/><path d="M584.67 391.77H588.66" class="m"/><rect x="588.96" y="399.22" width="3.99" height="18.26" fill="#d6a94a" class="b"/><path d="M590.95 399.22V390.89M589.88 390.89H592.02" class="w"/><path d="M590.95 417.48V435.74M589.88 435.74H592.02" class="w"/><path d="M588.96 409.44H592.94" class="m"/><rect x="593.24" y="416.31" width="3.99" height="12.42" fill="#58a9b4" class="b"/><path d="M595.24 416.31V411.78M594.16 411.78H596.31" class="w"/><path d="M595.24 428.72V443.04M594.16 443.04H596.31" class="w"/><path d="M593.24 421.28H597.23" class="m"/><rect x="597.53" y="432.96" width="3.99" height="21.33" fill="#bb74d6" class="b"/><path d="M599.52 432.96V423.76M598.45 423.76H600.59" class="w"/><path d="M599.52 454.29V464.95M598.45 464.95H600.59" class="w"/><path d="M597.53 438.07H601.51" class="m"/><rect x="601.81" y="461.30" width="3.99" height="15.63" fill="#a6b0e4" class="b"/><path d="M603.81 461.30V458.38M602.74 458.38H604.88" class="w"/><path d="M603.81 476.93V485.55M602.74 485.55H604.88" class="w"/><path d="M601.81 469.19H605.80" class="m"/><rect x="613.60" y="352.62" width="3.99" height="2.04" fill="#5ca5dd" class="b"/><path d="M613.60 353.64H617.59" class="m"/><rect x="617.89" y="376.14" width="3.99" height="3.51" fill="#ef8da2" class="b"/><path d="M619.88 376.14V373.95M618.81 373.95H620.95" class="w"/><path d="M619.88 379.65V381.69M618.81 381.69H620.95" class="w"/><path d="M617.89 378.04H621.87" class="m"/><rect x="622.17" y="393.81" width="3.99" height="6.13" fill="#69ae56" class="b"/><path d="M624.16 393.81V390.45M623.09 390.45H625.24" class="w"/><path d="M624.16 399.95V403.02M623.09 403.02H625.24" class="w"/><path d="M622.17 397.03H626.16" class="m"/><rect x="626.46" y="408.71" width="3.99" height="8.76" fill="#d6a94a" class="b"/><path d="M628.45 408.71V404.19M627.38 404.19H629.52" class="w"/><path d="M628.45 417.48V422.44M627.38 422.44H629.52" class="w"/><path d="M626.46 412.95H630.44" class="m"/><rect x="630.74" y="418.06" width="3.99" height="10.66" fill="#58a9b4" class="b"/><path d="M632.74 418.06V412.51M631.66 412.51H633.81" class="w"/><path d="M632.74 428.72V433.69M631.66 433.69H633.81" class="w"/><path d="M630.74 423.03H634.73" class="m"/><path d="M635.03 446.98H639.01" class="m"/><path d="M639.31 440.70H643.30" class="m"/><rect x="651.10" y="332.76" width="3.99" height="28.92" fill="#5ca5dd" class="b"/><path d="M653.09 332.76V315.52M652.02 315.52H654.16" class="w"/><path d="M653.09 361.68V367.96M652.02 367.96H654.16" class="w"/><path d="M651.10 343.42H655.09" class="m"/><rect x="655.39" y="362.85" width="3.99" height="24.98" fill="#ef8da2" class="b"/><path d="M657.38 362.85V349.70M656.31 349.70H658.45" class="w"/><path d="M657.38 387.83V391.77M656.31 391.77H658.45" class="w"/><path d="M655.39 373.07H659.37" class="m"/><rect x="659.67" y="377.60" width="3.99" height="29.94" fill="#69ae56" class="b"/><path d="M661.66 377.60V367.81M660.59 367.81H662.74" class="w"/><path d="M661.66 407.54V416.31M660.59 416.31H662.74" class="w"/><path d="M659.67 392.06H663.66" class="m"/><rect x="663.96" y="390.02" width="3.99" height="33.30" fill="#d6a94a" class="b"/><path d="M665.95 390.02V379.94M664.88 379.94H667.02" class="w"/><path d="M665.95 423.32V433.69M664.88 433.69H667.02" class="w"/><path d="M663.96 410.47H667.94" class="m"/><rect x="668.24" y="413.24" width="3.99" height="27.32" fill="#58a9b4" class="b"/><path d="M670.24 413.24V401.99M669.16 401.99H671.31" class="w"/><path d="M670.24 440.56V455.02M669.16 455.02H671.31" class="w"/><path d="M668.24 424.49H672.23" class="m"/><path d="M672.53 437.78H676.51" class="m"/><rect x="676.81" y="460.71" width="3.99" height="8.03" fill="#a6b0e4" class="b"/><path d="M678.81 460.71V456.77M677.74 456.77H679.88" class="w"/><path d="M678.81 468.75V472.40M677.74 472.40H679.88" class="w"/><path d="M676.81 464.95H680.80" class="m"/></g>
<g class="pi"><g fill="#3490dc"><circle cx="390.6" cy="392.2" r="0.9"/><circle cx="390.0" cy="391.7" r="0.9"/><circle cx="427.4" cy="388.2" r="0.9"/><circle cx="427.6" cy="362.7" r="0.9"/><circle cx="427.8" cy="377.7" r="0.9"/><circle cx="428.7" cy="362.4" r="0.9"/><circle cx="428.5" cy="362.9" r="0.9"/><circle cx="427.6" cy="362.4" r="0.9"/><circle cx="427.8" cy="365.5" r="0.9"/><circle cx="428.7" cy="365.1" r="0.9"/><circle cx="427.6" cy="377.3" r="0.9"/><circle cx="427.7" cy="371.8" r="0.9"/><circle cx="427.6" cy="382.4" r="0.9"/><circle cx="427.7" cy="380.3" r="0.9"/><circle cx="427.9" cy="382.8" r="0.9"/><circle cx="427.9" cy="383.1" r="0.9"/><circle cx="428.1" cy="381.9" r="0.9"/><circle cx="427.9" cy="368.3" r="0.9"/><circle cx="428.0" cy="381.7" r="0.9"/><circle cx="428.7" cy="387.8" r="0.9"/><circle cx="428.1" cy="362.1" r="0.9"/><circle cx="428.3" cy="382.9" r="0.9"/><circle cx="427.9" cy="386.5" r="0.9"/><circle cx="428.1" cy="366.8" r="0.9"/><circle cx="427.6" cy="372.2" r="0.9"/><circle cx="427.9" cy="367.6" r="0.9"/><circle cx="428.2" cy="371.9" r="0.9"/><circle cx="428.4" cy="369.0" r="0.9"/><circle cx="428.0" cy="376.5" r="0.9"/><circle cx="427.8" cy="374.5" r="0.9"/><circle cx="428.5" cy="372.1" r="0.9"/><circle cx="428.2" cy="379.3" r="0.9"/><circle cx="465.5" cy="334.6" r="0.9"/><circle cx="465.7" cy="354.6" r="0.9"/><circle cx="466.2" cy="337.8" r="0.9"/><circle cx="464.9" cy="350.8" r="0.9"/><circle cx="466.2" cy="347.1" r="0.9"/><circle cx="465.7" cy="348.4" r="0.9"/><circle cx="465.9" cy="347.3" r="0.9"/><circle cx="465.8" cy="337.7" r="0.9"/><circle cx="465.3" cy="349.8" r="0.9"/><circle cx="466.2" cy="358.1" r="0.9"/><circle cx="465.4" cy="331.1" r="0.9"/><circle cx="466.1" cy="333.7" r="0.9"/><circle cx="465.2" cy="328.5" r="0.9"/><circle cx="466.3" cy="361.1" r="0.9"/><circle cx="465.2" cy="338.5" r="0.9"/><circle cx="466.0" cy="353.6" r="0.9"/><circle cx="465.0" cy="327.9" r="0.9"/><circle cx="466.0" cy="354.2" r="0.9"/><circle cx="465.9" cy="349.9" r="0.9"/><circle cx="466.0" cy="359.1" r="0.9"/><circle cx="466.1" cy="342.4" r="0.9"/><circle cx="465.6" cy="359.3" r="0.9"/><circle cx="466.1" cy="337.7" r="0.9"/><circle cx="465.6" cy="362.6" r="0.9"/><circle cx="465.6" cy="359.7" r="0.9"/><circle cx="465.0" cy="338.5" r="0.9"/><circle cx="503.1" cy="357.8" r="0.9"/><circle cx="502.7" cy="353.2" r="0.9"/><circle cx="503.6" cy="343.2" r="0.9"/><circle cx="503.1" cy="346.7" r="0.9"/><circle cx="503.0" cy="348.3" r="0.9"/><circle cx="503.8" cy="345.3" r="0.9"/><circle cx="502.7" cy="342.2" r="0.9"/><circle cx="502.7" cy="342.8" r="0.9"/><circle cx="503.5" cy="346.7" r="0.9"/><circle cx="502.4" cy="363.2" r="0.9"/><circle cx="503.5" cy="351.2" r="0.9"/><circle cx="503.5" cy="347.9" r="0.9"/><circle cx="503.6" cy="347.9" r="0.9"/><circle cx="503.0" cy="361.6" r="0.9"/><circle cx="503.2" cy="350.5" r="0.9"/><circle cx="503.3" cy="343.7" r="0.9"/><circle cx="502.5" cy="347.4" r="0.9"/><circle cx="503.5" cy="337.3" r="0.9"/><circle cx="502.7" cy="354.5" r="0.9"/><circle cx="540.8" cy="328.8" r="0.9"/><circle cx="541.2" cy="325.6" r="0.9"/><circle cx="578.1" cy="355.5" r="0.9"/><circle cx="578.5" cy="354.4" r="0.9"/><circle cx="578.7" cy="344.3" r="0.9"/><circle cx="577.9" cy="343.4" r="0.9"/><circle cx="615.0" cy="353.0" r="0.9"/><circle cx="653.4" cy="351.7" r="0.9"/><circle cx="653.4" cy="342.7" r="0.9"/><circle cx="653.0" cy="337.3" r="0.9"/></g><g fill="#dc5a78"><circle cx="394.6" cy="405.0" r="0.9"/><circle cx="394.2" cy="395.7" r="0.9"/><circle cx="395.5" cy="406.0" r="0.9"/><circle cx="394.6" cy="399.9" r="0.9"/><circle cx="432.9" cy="396.8" r="0.9"/><circle cx="432.1" cy="386.6" r="0.9"/><circle cx="432.8" cy="364.5" r="0.9"/><circle cx="432.8" cy="373.1" r="0.9"/><circle cx="432.7" cy="385.5" r="0.9"/><circle cx="432.2" cy="384.6" r="0.9"/><circle cx="432.2" cy="400.4" r="0.9"/><circle cx="432.3" cy="376.3" r="0.9"/><circle cx="432.8" cy="400.7" r="0.9"/><circle cx="432.1" cy="374.8" r="0.9"/><circle cx="432.2" cy="371.3" r="0.9"/><circle cx="432.7" cy="391.4" r="0.9"/><circle cx="432.5" cy="363.0" r="0.9"/><circle cx="432.2" cy="401.6" r="0.9"/><circle cx="432.9" cy="399.6" r="0.9"/><circle cx="432.8" cy="365.4" r="0.9"/><circle cx="432.8" cy="399.8" r="0.9"/><circle cx="432.4" cy="370.4" r="0.9"/><circle cx="432.3" cy="386.4" r="0.9"/><circle cx="431.8" cy="365.3" r="0.9"/><circle cx="431.9" cy="379.9" r="0.9"/><circle cx="469.5" cy="344.5" r="0.9"/><circle cx="469.3" cy="376.7" r="0.9"/><circle cx="469.3" cy="361.9" r="0.9"/><circle cx="469.5" cy="351.1" r="0.9"/><circle cx="470.3" cy="344.5" r="0.9"/><circle cx="469.5" cy="352.0" r="0.9"/><circle cx="470.0" cy="376.1" r="0.9"/><circle cx="470.4" cy="350.5" r="0.9"/><circle cx="469.7" cy="363.5" r="0.9"/><circle cx="470.6" cy="370.5" r="0.9"/><circle cx="470.1" cy="365.2" r="0.9"/><circle cx="470.0" cy="342.6" r="0.9"/><circle cx="470.2" cy="345.9" r="0.9"/><circle cx="469.6" cy="358.7" r="0.9"/><circle cx="469.9" cy="359.9" r="0.9"/><circle cx="469.9" cy="350.5" r="0.9"/><circle cx="470.2" cy="372.7" r="0.9"/><circle cx="470.4" cy="342.5" r="0.9"/><circle cx="470.4" cy="344.6" r="0.9"/><circle cx="469.8" cy="362.9" r="0.9"/><circle cx="469.7" cy="360.4" r="0.9"/><circle cx="470.3" cy="349.1" r="0.9"/><circle cx="507.6" cy="371.2" r="0.9"/><circle cx="507.3" cy="362.1" r="0.9"/><circle cx="507.9" cy="359.3" r="0.9"/><circle cx="507.6" cy="376.4" r="0.9"/><circle cx="507.4" cy="353.9" r="0.9"/><circle cx="507.5" cy="361.5" r="0.9"/><circle cx="507.4" cy="373.4" r="0.9"/><circle cx="507.1" cy="355.3" r="0.9"/><circle cx="507.4" cy="364.1" r="0.9"/><circle cx="506.7" cy="355.7" r="0.9"/><circle cx="507.7" cy="365.6" r="0.9"/><circle cx="507.0" cy="373.8" r="0.9"/><circle cx="507.4" cy="361.4" r="0.9"/><circle cx="507.5" cy="371.1" r="0.9"/><circle cx="507.5" cy="355.2" r="0.9"/><circle cx="507.3" cy="373.8" r="0.9"/><circle cx="507.6" cy="375.9" r="0.9"/><circle cx="507.1" cy="369.6" r="0.9"/><circle cx="507.4" cy="375.6" r="0.9"/><circle cx="507.7" cy="368.2" r="0.9"/><circle cx="544.9" cy="358.3" r="0.9"/><circle cx="545.3" cy="357.5" r="0.9"/><circle cx="544.3" cy="330.6" r="0.9"/><circle cx="582.1" cy="360.6" r="0.9"/><circle cx="582.5" cy="363.7" r="0.9"/><circle cx="582.2" cy="365.4" r="0.9"/><circle cx="583.0" cy="357.8" r="0.9"/><circle cx="620.3" cy="376.6" r="0.9"/><circle cx="657.8" cy="369.3" r="0.9"/><circle cx="657.2" cy="381.1" r="0.9"/></g><g fill="#4aa52a"><circle cx="399.8" cy="429.4" r="0.9"/><circle cx="399.6" cy="431.7" r="0.9"/><circle cx="436.3" cy="388.0" r="0.9"/><circle cx="436.5" cy="385.0" r="0.9"/><circle cx="436.1" cy="413.4" r="0.9"/><circle cx="437.1" cy="403.7" r="0.9"/><circle cx="437.2" cy="408.3" r="0.9"/><circle cx="436.4" cy="406.9" r="0.9"/><circle cx="436.4" cy="405.3" r="0.9"/><circle cx="436.2" cy="392.4" r="0.9"/><circle cx="437.3" cy="384.2" r="0.9"/><circle cx="436.8" cy="380.6" r="0.9"/><circle cx="436.1" cy="391.5" r="0.9"/><circle cx="437.0" cy="408.6" r="0.9"/><circle cx="437.4" cy="417.8" r="0.9"/><circle cx="436.7" cy="421.5" r="0.9"/><circle cx="436.3" cy="392.5" r="0.9"/><circle cx="436.0" cy="410.9" r="0.9"/><circle cx="437.3" cy="403.4" r="0.9"/><circle cx="436.3" cy="421.9" r="0.9"/><circle cx="437.1" cy="395.9" r="0.9"/><circle cx="436.0" cy="389.8" r="0.9"/><circle cx="436.5" cy="395.9" r="0.9"/><circle cx="437.3" cy="386.9" r="0.9"/><circle cx="436.3" cy="391.9" r="0.9"/><circle cx="436.5" cy="417.3" r="0.9"/><circle cx="436.3" cy="398.5" r="0.9"/><circle cx="474.3" cy="377.9" r="0.9"/><circle cx="474.2" cy="364.9" r="0.9"/><circle cx="474.0" cy="365.0" r="0.9"/><circle cx="474.2" cy="387.0" r="0.9"/><circle cx="473.5" cy="387.9" r="0.9"/><circle cx="474.7" cy="372.0" r="0.9"/><circle cx="474.7" cy="370.1" r="0.9"/><circle cx="473.9" cy="371.6" r="0.9"/><circle cx="474.2" cy="366.8" r="0.9"/><circle cx="474.0" cy="379.4" r="0.9"/><circle cx="474.4" cy="376.6" r="0.9"/><circle cx="474.2" cy="392.8" r="0.9"/><circle cx="474.2" cy="394.4" r="0.9"/><circle cx="474.7" cy="369.3" r="0.9"/><circle cx="474.4" cy="364.7" r="0.9"/><circle cx="474.2" cy="393.9" r="0.9"/><circle cx="474.2" cy="376.8" r="0.9"/><circle cx="474.4" cy="384.8" r="0.9"/><circle cx="473.9" cy="372.2" r="0.9"/><circle cx="474.8" cy="388.6" r="0.9"/><circle cx="474.7" cy="375.9" r="0.9"/><circle cx="473.9" cy="378.4" r="0.9"/><circle cx="474.2" cy="379.9" r="0.9"/><circle cx="473.6" cy="383.1" r="0.9"/><circle cx="474.0" cy="393.8" r="0.9"/><circle cx="473.6" cy="381.5" r="0.9"/><circle cx="474.8" cy="369.7" r="0.9"/><circle cx="474.5" cy="384.7" r="0.9"/><circle cx="474.0" cy="376.6" r="0.9"/><circle cx="473.9" cy="377.5" r="0.9"/><circle cx="511.4" cy="394.8" r="0.9"/><circle cx="511.5" cy="389.3" r="0.9"/><circle cx="512.0" cy="399.8" r="0.9"/><circle cx="511.1" cy="396.3" r="0.9"/><circle cx="511.7" cy="381.1" r="0.9"/><circle cx="511.5" cy="396.1" r="0.9"/><circle cx="511.2" cy="383.5" r="0.9"/><circle cx="511.8" cy="384.7" r="0.9"/><circle cx="511.9" cy="393.8" r="0.9"/><circle cx="511.1" cy="384.3" r="0.9"/><circle cx="512.0" cy="378.8" r="0.9"/><circle cx="511.9" cy="396.9" r="0.9"/><circle cx="511.9" cy="388.8" r="0.9"/><circle cx="512.2" cy="376.6" r="0.9"/><circle cx="512.0" cy="376.4" r="0.9"/><circle cx="511.7" cy="377.0" r="0.9"/><circle cx="511.6" cy="375.5" r="0.9"/><circle cx="549.0" cy="355.3" r="0.9"/><circle cx="549.4" cy="362.1" r="0.9"/><circle cx="586.4" cy="395.7" r="0.9"/><circle cx="586.2" cy="394.6" r="0.9"/><circle cx="586.6" cy="393.4" r="0.9"/><circle cx="586.5" cy="390.9" r="0.9"/><circle cx="624.5" cy="398.6" r="0.9"/><circle cx="661.9" cy="383.9" r="0.9"/><circle cx="662.4" cy="387.7" r="0.9"/><circle cx="661.4" cy="386.7" r="0.9"/></g><g fill="#d09a1c"><circle cx="403.1" cy="441.4" r="0.9"/><circle cx="403.1" cy="442.6" r="0.9"/><circle cx="403.4" cy="442.5" r="0.9"/><circle cx="403.7" cy="437.4" r="0.9"/><circle cx="440.6" cy="443.8" r="0.9"/><circle cx="441.6" cy="431.0" r="0.9"/><circle cx="441.6" cy="396.0" r="0.9"/><circle cx="440.9" cy="429.6" r="0.9"/><circle cx="440.5" cy="401.9" r="0.9"/><circle cx="441.6" cy="442.4" r="0.9"/><circle cx="440.3" cy="428.5" r="0.9"/><circle cx="440.7" cy="448.6" r="0.9"/><circle cx="440.3" cy="406.5" r="0.9"/><circle cx="441.1" cy="415.0" r="0.9"/><circle cx="440.5" cy="437.9" r="0.9"/><circle cx="441.4" cy="443.2" r="0.9"/><circle cx="440.8" cy="424.8" r="0.9"/><circle cx="441.6" cy="421.5" r="0.9"/><circle cx="441.1" cy="404.6" r="0.9"/><circle cx="440.6" cy="399.8" r="0.9"/><circle cx="441.3" cy="444.4" r="0.9"/><circle cx="440.3" cy="397.8" r="0.9"/><circle cx="440.6" cy="432.6" r="0.9"/><circle cx="440.7" cy="401.1" r="0.9"/><circle cx="441.5" cy="442.4" r="0.9"/><circle cx="441.0" cy="429.9" r="0.9"/><circle cx="478.1" cy="407.4" r="0.9"/><circle cx="478.1" cy="392.3" r="0.9"/><circle cx="478.0" cy="412.8" r="0.9"/><circle cx="478.6" cy="398.9" r="0.9"/><circle cx="478.9" cy="406.8" r="0.9"/><circle cx="478.4" cy="399.1" r="0.9"/><circle cx="478.6" cy="389.2" r="0.9"/><circle cx="478.3" cy="392.0" r="0.9"/><circle cx="478.3" cy="390.2" r="0.9"/><circle cx="477.9" cy="401.8" r="0.9"/><circle cx="478.5" cy="407.9" r="0.9"/><circle cx="478.0" cy="393.5" r="0.9"/><circle cx="477.9" cy="400.5" r="0.9"/><circle cx="478.7" cy="406.1" r="0.9"/><circle cx="478.5" cy="411.1" r="0.9"/><circle cx="477.9" cy="403.1" r="0.9"/><circle cx="479.1" cy="407.5" r="0.9"/><circle cx="479.0" cy="406.2" r="0.9"/><circle cx="478.6" cy="400.6" r="0.9"/><circle cx="478.4" cy="394.8" r="0.9"/><circle cx="478.3" cy="399.4" r="0.9"/><circle cx="478.0" cy="394.6" r="0.9"/><circle cx="478.1" cy="408.8" r="0.9"/><circle cx="477.9" cy="395.8" r="0.9"/><circle cx="479.0" cy="393.9" r="0.9"/><circle cx="478.6" cy="395.7" r="0.9"/><circle cx="479.0" cy="405.7" r="0.9"/><circle cx="478.2" cy="390.4" r="0.9"/><circle cx="478.6" cy="411.8" r="0.9"/><circle cx="516.2" cy="416.1" r="0.9"/><circle cx="515.8" cy="409.6" r="0.9"/><circle cx="515.4" cy="405.8" r="0.9"/><circle cx="515.6" cy="418.5" r="0.9"/><circle cx="515.8" cy="397.9" r="0.9"/><circle cx="516.0" cy="399.7" r="0.9"/><circle cx="516.5" cy="405.8" r="0.9"/><circle cx="515.7" cy="406.1" r="0.9"/><circle cx="516.4" cy="396.7" r="0.9"/><circle cx="515.3" cy="413.1" r="0.9"/><circle cx="516.1" cy="400.1" r="0.9"/><circle cx="515.7" cy="404.4" r="0.9"/><circle cx="515.8" cy="406.0" r="0.9"/><circle cx="516.0" cy="412.2" r="0.9"/><circle cx="516.6" cy="400.1" r="0.9"/><circle cx="515.8" cy="402.8" r="0.9"/><circle cx="516.6" cy="405.6" r="0.9"/><circle cx="516.0" cy="409.2" r="0.9"/><circle cx="516.3" cy="407.7" r="0.9"/><circle cx="516.1" cy="394.1" r="0.9"/><circle cx="516.0" cy="396.7" r="0.9"/><circle cx="515.4" cy="403.1" r="0.9"/><circle cx="553.2" cy="379.5" r="0.9"/><circle cx="553.3" cy="374.7" r="0.9"/><circle cx="590.3" cy="399.6" r="0.9"/><circle cx="590.3" cy="408.1" r="0.9"/><circle cx="591.3" cy="400.4" r="0.9"/><circle cx="628.3" cy="414.0" r="0.9"/><circle cx="666.4" cy="411.8" r="0.9"/><circle cx="665.8" cy="397.3" r="0.9"/><circle cx="665.8" cy="392.3" r="0.9"/><circle cx="665.8" cy="410.6" r="0.9"/></g><g fill="#2a9cab"><circle cx="407.5" cy="426.9" r="0.9"/><circle cx="407.5" cy="416.6" r="0.9"/><circle cx="445.6" cy="402.2" r="0.9"/><circle cx="445.1" cy="437.0" r="0.9"/><circle cx="445.3" cy="439.7" r="0.9"/><circle cx="445.0" cy="418.4" r="0.9"/><circle cx="444.6" cy="406.6" r="0.9"/><circle cx="445.5" cy="445.2" r="0.9"/><circle cx="444.8" cy="451.5" r="0.9"/><circle cx="445.4" cy="450.1" r="0.9"/><circle cx="444.9" cy="402.2" r="0.9"/><circle cx="444.8" cy="429.1" r="0.9"/><circle cx="445.2" cy="422.2" r="0.9"/><circle cx="445.4" cy="431.4" r="0.9"/><circle cx="445.4" cy="403.3" r="0.9"/><circle cx="445.6" cy="440.5" r="0.9"/><circle cx="445.0" cy="404.8" r="0.9"/><circle cx="483.4" cy="407.8" r="0.9"/><circle cx="482.4" cy="426.5" r="0.9"/><circle cx="483.0" cy="420.8" r="0.9"/><circle cx="483.1" cy="414.2" r="0.9"/><circle cx="482.4" cy="426.1" r="0.9"/><circle cx="483.3" cy="415.3" r="0.9"/><circle cx="483.4" cy="420.3" r="0.9"/><circle cx="483.4" cy="421.0" r="0.9"/><circle cx="483.2" cy="410.3" r="0.9"/><circle cx="483.0" cy="425.1" r="0.9"/><circle cx="483.2" cy="419.7" r="0.9"/><circle cx="482.7" cy="412.1" r="0.9"/><circle cx="483.3" cy="402.5" r="0.9"/><circle cx="482.1" cy="408.2" r="0.9"/><circle cx="482.7" cy="416.4" r="0.9"/><circle cx="483.2" cy="424.7" r="0.9"/><circle cx="482.2" cy="426.6" r="0.9"/><circle cx="483.3" cy="411.9" r="0.9"/><circle cx="482.4" cy="412.5" r="0.9"/><circle cx="520.7" cy="408.6" r="0.9"/><circle cx="520.2" cy="412.1" r="0.9"/><circle cx="519.8" cy="425.4" r="0.9"/><circle cx="519.7" cy="420.5" r="0.9"/><circle cx="519.9" cy="416.1" r="0.9"/><circle cx="520.6" cy="417.5" r="0.9"/><circle cx="519.7" cy="420.8" r="0.9"/><circle cx="520.8" cy="421.2" r="0.9"/><circle cx="520.2" cy="420.8" r="0.9"/><circle cx="520.9" cy="414.7" r="0.9"/><circle cx="520.4" cy="418.0" r="0.9"/><circle cx="520.4" cy="416.7" r="0.9"/><circle cx="557.1" cy="405.5" r="0.9"/><circle cx="557.6" cy="392.5" r="0.9"/><circle cx="595.9" cy="423.3" r="0.9"/><circle cx="595.1" cy="418.2" r="0.9"/><circle cx="595.2" cy="426.3" r="0.9"/><circle cx="595.0" cy="416.5" r="0.9"/><circle cx="632.5" cy="418.4" r="0.9"/><circle cx="670.0" cy="433.9" r="0.9"/><circle cx="670.6" cy="423.8" r="0.9"/><circle cx="670.8" cy="415.6" r="0.9"/></g><g fill="#ab45d4"><circle cx="448.8" cy="426.6" r="0.9"/><circle cx="449.5" cy="444.7" r="0.9"/><circle cx="487.3" cy="419.4" r="0.9"/><circle cx="486.8" cy="418.0" r="0.9"/><circle cx="487.0" cy="418.9" r="0.9"/><circle cx="486.3" cy="426.2" r="0.9"/><circle cx="487.1" cy="419.9" r="0.9"/><circle cx="486.6" cy="414.8" r="0.9"/><circle cx="486.6" cy="415.5" r="0.9"/><circle cx="486.5" cy="424.6" r="0.9"/><circle cx="487.0" cy="416.3" r="0.9"/><circle cx="486.4" cy="429.7" r="0.9"/><circle cx="523.9" cy="426.0" r="0.9"/><circle cx="524.9" cy="419.7" r="0.9"/><circle cx="524.6" cy="430.5" r="0.9"/><circle cx="524.2" cy="419.6" r="0.9"/><circle cx="524.2" cy="423.2" r="0.9"/><circle cx="524.7" cy="436.6" r="0.9"/><circle cx="524.4" cy="419.7" r="0.9"/><circle cx="524.5" cy="421.8" r="0.9"/><circle cx="561.7" cy="408.4" r="0.9"/><circle cx="561.8" cy="399.6" r="0.9"/><circle cx="600.1" cy="435.7" r="0.9"/><circle cx="600.2" cy="436.0" r="0.9"/><circle cx="599.6" cy="441.3" r="0.9"/><circle cx="599.4" cy="434.2" r="0.9"/></g><g fill="#7a86d6"><circle cx="454.3" cy="470.7" r="0.9"/><circle cx="454.2" cy="446.5" r="0.9"/><circle cx="453.3" cy="459.7" r="0.9"/><circle cx="453.6" cy="433.3" r="0.9"/><circle cx="453.4" cy="439.8" r="0.9"/><circle cx="491.3" cy="432.9" r="0.9"/><circle cx="491.5" cy="431.3" r="0.9"/><circle cx="490.8" cy="429.0" r="0.9"/><circle cx="491.0" cy="427.6" r="0.9"/><circle cx="492.0" cy="437.3" r="0.9"/><circle cx="529.3" cy="442.3" r="0.9"/><circle cx="528.3" cy="436.7" r="0.9"/><circle cx="528.4" cy="442.5" r="0.9"/><circle cx="528.2" cy="447.6" r="0.9"/><circle cx="529.5" cy="432.8" r="0.9"/><circle cx="529.3" cy="451.7" r="0.9"/><circle cx="528.2" cy="430.5" r="0.9"/><circle cx="604.4" cy="472.8" r="0.9"/><circle cx="603.1" cy="476.9" r="0.9"/><circle cx="679.0" cy="467.9" r="0.9"/></g></g>
</svg>
</body></html>
